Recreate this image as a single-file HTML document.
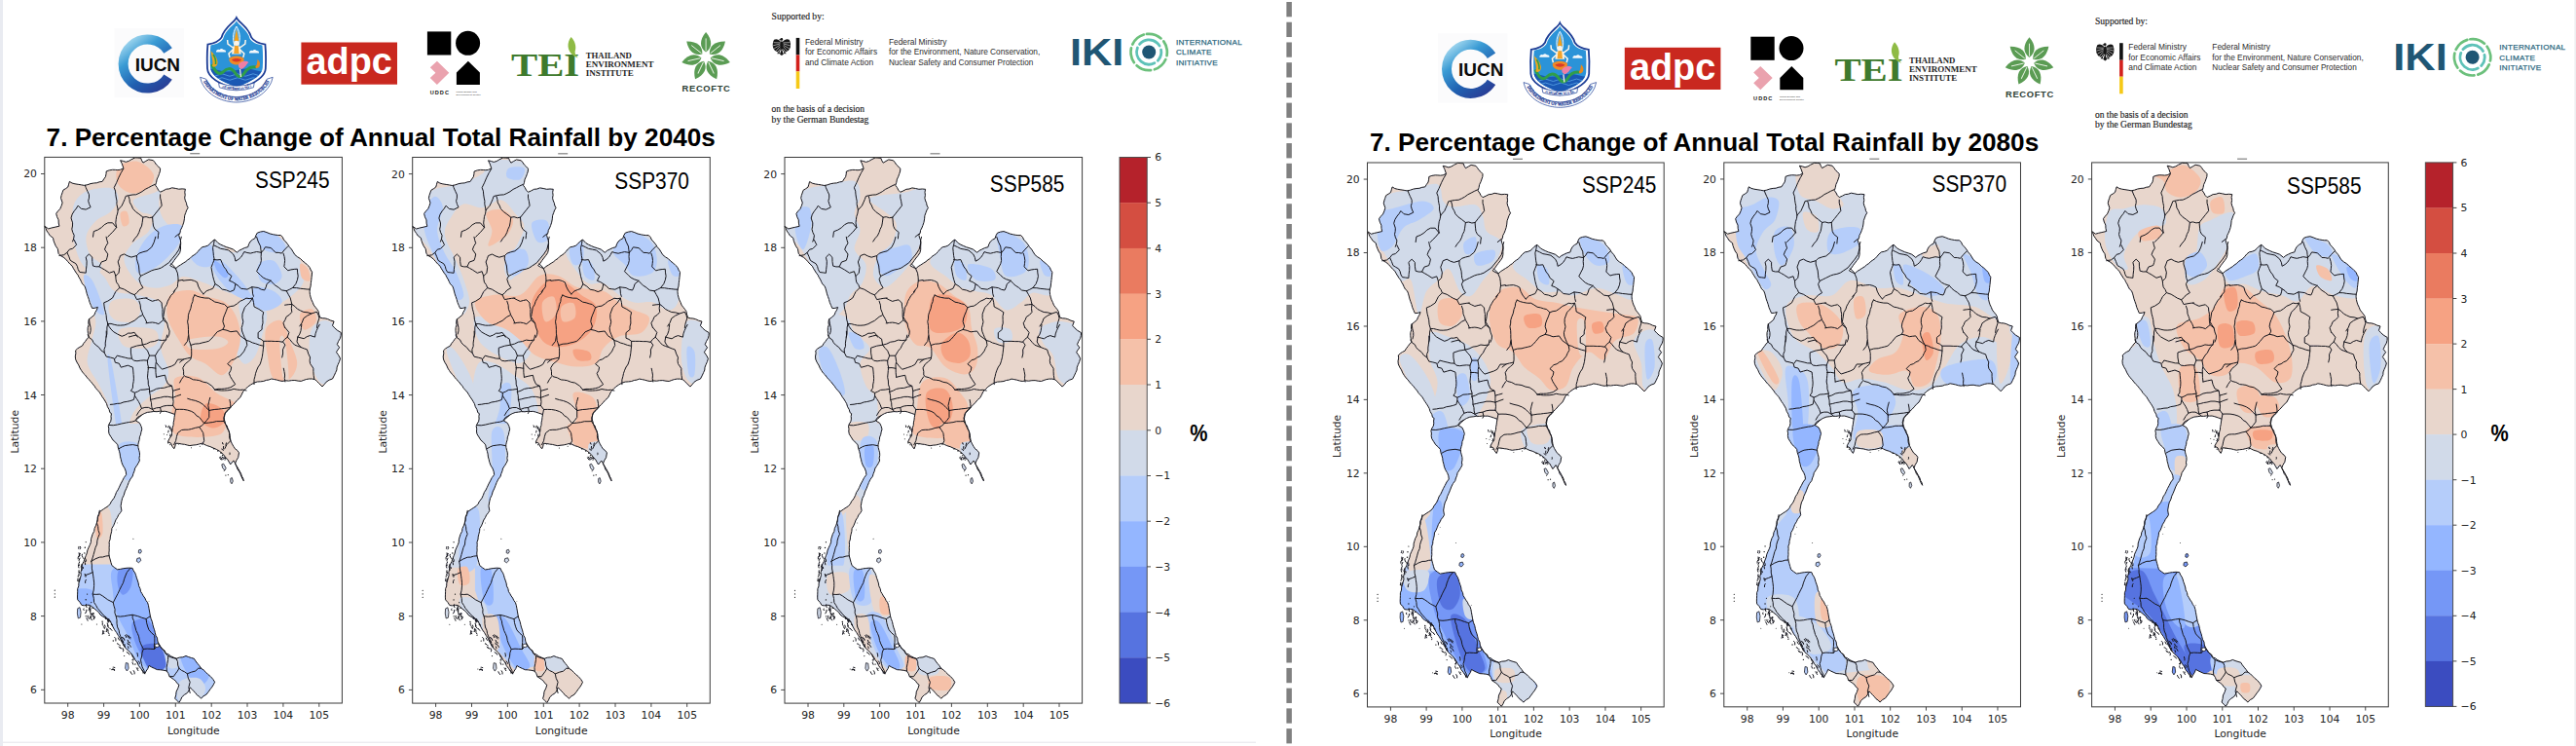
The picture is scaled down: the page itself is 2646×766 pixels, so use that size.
<!DOCTYPE html>
<html lang="en"><head><meta charset="utf-8"><title>Percentage Change of Annual Total Rainfall</title>
<style>html,body{margin:0;padding:0;background:#fff}body{width:2646px;height:766px;overflow:hidden}svg{display:block}text{white-space:pre}
.tk{font-family:"DejaVu Sans","Liberation Sans",sans-serif;font-size:10.8px;fill:#222}
.ssp{font-family:"Liberation Sans",sans-serif;font-size:23px;fill:#000}
.ttl{font-family:"Liberation Sans",sans-serif;font-weight:bold;font-size:25.7px;fill:#000}
</style></head><body>
<svg width="2646" height="766" viewBox="0 0 2646 766">
<defs>
<path id="th" d="M45.8,232.2 49.7,234.9 52.9,234 56.1,233.3 60.9,232.2 60.2,229 60.1,225.8 58.6,222.7 57.7,219.3 59.5,216.8 61.7,214.5 63.1,211.4 64.1,208.1 62.5,203.3 63.1,200.5 64,197.9 64.9,195.2 67.4,193.7 69.8,192 70.6,189.2 71.4,186.4 74,188 77,188.8 80.2,189.3 83.4,189.8 86.6,190.4 89.9,189.7 93,188.6 96.3,188 99.3,187.8 102.1,186.8 105.1,186.4 106.7,183.9 108.4,181.5 109,178.7 109.2,175.9 112.3,174.8 115.6,174.3 118.3,174.4 120.9,174.6 123.6,174.3 126.9,172.7 125.2,167.9 123.6,164.7 126.5,165.4 129.3,166.3 132.3,165.4 134.9,163.8 138.9,161.8 141.7,162 144.6,162.2 145.6,164.8 147,167.1 149.8,165.4 152.6,163.8 157.4,164.7 159.1,166.8 160.6,169.1 162.7,171 164.6,173.1 164.4,175.9 163.5,178.5 162.6,181.1 161.2,184 160.6,187.2 159.6,190.2 161.3,192.5 162.6,195.1 164.6,197.2 167.7,195.8 170.7,194.2 173.8,193.9 176.7,192.8 180.2,193.4 183.7,194.2 187.1,193.9 190.4,194.2 189.8,197.2 190.2,200.2 189.7,203.2 190.3,205.8 191.4,208.3 191.9,210.9 193.2,213.3 191.7,215.8 190.7,218.6 189.7,221.3 189.4,224.7 188.8,228.1 187.7,231.4 186.7,233.9 185.4,236.3 185,239 183.7,241.4 184.4,244.1 185.4,246.7 185.7,249.5 185.5,252.9 185.5,256.2 184.7,259.5 182.8,262.3 180.7,264.9 178.7,267.6 176.9,270.3 174.7,272.6 177.6,274.3 180.7,275.6 183,273.5 185.6,271.9 188.2,270.2 190.8,268.6 192.8,266.8 195.1,265.4 196.9,263.4 199.2,261.9 201.4,260.4 203.2,258.4 205.4,255.8 208,253.6 210.9,253.1 213.7,252 215.8,250.1 217.7,248 220.6,245.9 224.1,249.6 226.7,251.1 229.5,252.4 232.2,253.6 235.8,254.7 239.4,256 243.4,259.2 245.6,257.3 248.2,256 251.3,254.5 254.7,253.6 255.6,250.7 257.1,248 259.3,246.1 261.9,244.7 262.8,241.8 264.3,239.1 267.5,238 270.8,237.5 274,238.6 277.1,239.9 280.4,240.7 283,241.2 285.7,241.5 288.4,241.5 290.3,243.5 291.4,246 293.3,248 295.5,250.6 297.3,253.6 299.5,256 301.2,258.8 302.9,261.6 305.6,263.8 308.6,265.6 311,268.1 313.6,270 315.9,272.3 318.2,274.5 319.1,277 320.6,279.3 320.4,282 320.1,284.7 319.8,287.4 319.4,290.6 319.1,293.9 318.2,297 318.1,299.7 318.4,302.4 319,305 319.9,307.8 321.2,310.4 322.2,313.1 323.8,315.2 325.5,317.3 327,319.5 327.7,322.8 328.6,326 331.3,326.7 334,326.9 336.7,327.6 339.8,329.1 343.1,330 341.5,334.3 343.8,336.8 346.3,339.1 350.3,341.5 350.2,344.4 349.5,347.2 347.7,350.3 346.3,353.6 348.7,356.8 347,359.1 345.5,361.6 347.7,364.7 349.5,368.1 348.5,371.4 347.1,374.5 346.1,377.1 345.9,379.9 344.7,382.5 343.2,385.8 341.5,389 338.1,390.2 335.1,392.2 333.2,394.7 331,397 327.8,393.8 325.8,391.8 323.8,389.8 320.6,389 317.4,389 314.6,389.5 311.9,390.4 309.3,391.4 306.1,391.1 302.9,390.5 299.7,390.6 296.5,391.1 293.2,390.8 290,391.4 287.2,390.9 284.4,390.1 281.6,389.5 278.8,389 276.2,390 273.4,390.4 270.8,391.4 267.6,391.8 264.3,392 261.1,393 257.8,394.9 254.7,397 252.3,399.4 249.8,401.8 248.3,405.1 246.6,408.3 244,410.5 241.8,413.1 239.5,415.6 237,417.9 234.5,420.2 232.2,422.7 230.8,425.9 229.7,429.2 231,432.7 231.6,435.3 233.3,437.4 233.9,440 235.1,442.3 235.7,445 235.5,447.7 235.9,450.4 237.1,453.1 238.4,455.8 239.9,458.4 241.5,460.8 243.8,462.5 245.5,464.8 244.7,469.7 242.8,472.8 241.5,476.1 243.2,478.7 244.8,481.4 246.3,484.1 247.6,486.4 248.3,489 249.7,491.2 250.3,493.8 248.9,491.5 247.9,489 246.8,486.5 245.7,484.1 244,481.9 243.1,479.3 241.7,476 239.9,472.9 236.7,476.9 235.1,474.1 233.5,471.3 231.2,469.1 229.4,466.5 225.4,463.2 222.3,461.4 219,460 215.9,458.6 212.6,457.6 210.1,456.4 207.7,455.2 204.5,456 201.3,456.8 198.1,457.1 194.9,457.6 192.2,457 189.5,456.3 186.8,456 183.6,455.4 180.4,455.2 179.9,458.1 178.8,460.8 176.8,458.2 175.6,455.2 172.4,453.6 174.1,450.2 176.4,447.2 176.5,444.5 177,441.8 177.2,439.1 178.1,436.5 178.2,433.8 178.8,431.1 179.1,428.3 179.6,425.5 176,424.2 172.4,423 169.7,422.3 167,422.4 164.3,422.2 161.1,422.7 157.9,422.5 154.7,423 151.3,423.4 148.2,424.6 145.7,426 143.4,427.9 141.5,430 139.4,431.9 143.4,434.3 144.9,437.4 145.8,440.7 145,443.4 144.5,446.2 143.4,448.8 143.2,451.5 142.4,454.1 141.8,456.8 142,459.5 142.7,462.2 143.4,464.8 143.5,467.5 143,470.2 143.4,472.9 142,475.7 140.4,478.3 138.6,480.9 138,483.7 136.9,486.3 136.2,489 133.9,492 132.2,495.4 131,498.6 129.7,501.8 128.2,504.9 127.3,508.3 125.7,511.4 124.9,514.7 124.1,519.5 124.9,524.3 123.5,526.6 121.7,528.8 120.6,531.3 118.9,533.9 117.8,536.9 116.6,539.8 114.9,542.5 114.7,545.4 114,548.2 113.3,551 113.1,553.9 112.1,556.6 112.3,559.4 112.1,562.2 112.2,565.1 111.9,567.9 112.1,570.7 113,574 113.9,577.3 114.9,580.6 117.7,582.8 120.6,584.8 123.4,584.4 126.2,583.8 129,583.4 132.6,583.1 136.1,583.4 137.1,585.9 138.6,588.1 139.6,590.6 140.3,593.2 141.3,596 142.2,598.8 142.6,601.7 144,604.4 144.5,607.3 145.9,609.5 147.2,611.9 148.8,614 149.9,616.5 151.5,618.6 152.4,621.4 152.9,624.2 153.4,627 153.9,629.9 154.4,632.7 155.2,635.5 156.3,638.3 156.9,641.2 157.6,644 158.6,646.8 159.3,649.6 160,652.5 161.5,655.1 161.8,658 162.8,660.8 164.4,663.4 166.1,665.9 168.4,668 169.9,670.7 172.9,671.8 175.4,673.7 178.2,675 181.1,676.3 184.3,675.1 187.8,674.8 191,673.5 193.7,674.6 196.6,675.5 199.4,676.3 201,678.9 202.9,681.3 204.8,683.6 206.5,686.2 209.2,688 211.5,690.3 213.8,692.6 216.3,694.6 218.7,697.3 220.6,700.3 219.4,702.8 218,705.1 216.3,707.3 214.2,710.2 212.1,713 209,714.8 206.5,717.2 204.7,715.2 202.4,713.7 200.8,711.5 198.9,709.7 197.2,707.7 195.2,705.9 194.1,708.9 192.4,711.5 189.4,713.4 186.8,715.8 185.6,718.7 183.9,721.4 181.8,719.3 179.7,717.2 180.7,713.7 181.1,710.1 182.8,706.7 183.9,703.1 181.8,701.5 180.4,699.2 178.3,697.5 174.1,694.6 173,691.6 171.3,689 168,688.2 164.7,687.8 161.4,687.6 158.5,686.3 155.7,685 153,683.4 151.9,686.4 150.2,689 148.7,691.8 146.5,689.1 144.5,686.2 142.4,683.5 141.1,680.3 138.9,677.7 137.3,674.7 135.3,671.9 133.2,669.3 131.2,667.6 129.2,665.8 127.6,663.7 126.1,660.9 124.5,658.2 123.4,655.2 121.4,652.5 119.7,649.5 117.7,646.8 116.2,644 114.8,641.2 113.5,638.3 110.6,636.6 108.1,634.3 105.1,632.7 102.9,631.1 101.5,628.7 99.4,627 97.1,625.1 94.8,623.2 92.4,621.4 89.6,621.2 86.7,621.8 83.9,621.4 82.1,618.4 79.7,615.8 79.5,613 79.6,610.1 79.7,607.3 79.7,604.5 80.8,601.8 80.9,598.8 81.8,596 82.5,593.2 83.3,590.5 82.9,587.6 83.7,584.8 83.9,582 84.7,579.1 86.1,576.4 87.1,573.5 88.2,570.7 89.3,567.9 89.9,564.9 91.1,562.1 92.4,559.4 93.4,556.7 93.5,553.7 94.3,551 95.2,548.2 96.7,545.5 97.1,542.5 98.4,539.8 99.4,536.9 100.1,534.1 100.4,531.1 101.7,528.5 102.3,525.6 106.4,522.7 108.9,521.1 111.3,519.5 113.2,517.3 114.5,514.7 116.9,511.7 118.5,508.3 119.5,505.4 121.2,502.9 122.5,500.2 124,496.9 125.7,493.8 127.4,490.4 129.7,487.4 129.3,484.1 128.1,480.9 126.2,477.9 124.9,474.5 124.3,471.7 123.5,468.9 123.2,466 122.5,463.2 121.4,460.1 120.9,456.8 118.7,454.2 116.1,452 114.1,448.8 112.1,445.6 111.6,442.9 111.8,440.2 111.3,437.5 112.2,435 113.7,432.7 114.2,430 114,427.3 114.5,424.6 112.9,423.6 112.1,420.5 110.4,417.6 109.5,414.5 108.2,412.2 106.8,409.9 105.2,407.7 103.8,405.4 102.3,402.9 100.4,400.8 98.4,398.6 96.9,396.2 94.9,393.9 93.1,391.5 90.9,389.4 89,387.1 87.3,384.8 85.2,382.8 83.6,380.4 82.1,378 80.8,374.9 79,372 77.6,368.9 77.3,365.9 77.9,362.8 77.6,359.8 79.6,357.9 81.9,356.4 84.4,355.2 85.8,352.7 87.6,350.5 89.3,348.1 91.3,346.1 90.5,342.7 90.1,339.3 90.2,336.4 91.1,333.6 90.8,330.7 91.3,327.9 94.1,325.7 96.9,323.3 97.9,320.6 99.4,318.1 100.4,315.4 97.6,316.3 94.7,316.5 93.4,313.5 92.1,310.5 91.3,307.4 90.3,304.6 89.3,301.8 88.6,298.9 87.8,296 86.8,293.5 84.7,291.7 83.5,289.3 82.4,286.8 81,284.6 79.9,282.2 78.2,280.1 76.8,277.8 75.4,275.6 74.2,273.2 71.8,271 69.7,268.6 67.6,266.2 65.1,264.1 62.3,262.6 60.1,260.4 59.3,255.5 57.4,252.8 56.1,249.9 55.1,247.2 54.5,244.3 51.3,241.9 49.7,239.4 48,237 47.1,234.5Z"/>
<clipPath id="thc"><use href="#th"/><path d="M142.5,564.8 144.5,564.2 145.4,566.2 144.2,568.2 142.3,567.6Z"/><path d="M140.8,573.5 143.7,572.7 144.8,575.5 142.5,577.7 140.3,576.3Z"/><path d="M79.7,624.8 82,623.7 83.1,628.5 82.5,634.1 80.3,634.9 79.4,629.9Z"/><path d="M129.3,680.6 131.5,681.1 132.1,686.2 130.4,689 128.7,686.2Z"/><path d="M236.8,491.3 238.3,490.5 239.3,494.1 238,496.8 236.7,494.9Z"/><path d="M227.8,476.9 229.6,476.2 232.2,480.7 230.9,483 228.6,480.4Z"/></clipPath>
<filter id="b1" x="-5%" y="-5%" width="110%" height="110%"><feGaussianBlur stdDeviation="0.7"/></filter>
<filter id="b2" x="-5%" y="-5%" width="110%" height="110%"><feGaussianBlur stdDeviation="0.45"/></filter>
<g id="prov" fill="none" stroke="#15151c" stroke-width="1.0" stroke-linejoin="round" stroke-linecap="round">
<path d="M199.9,302.9 203,304.4 206.3,305.3 210.3,306 214.4,306.1 217.6,308 220.8,310.1 224.1,310.7 227.2,311.7 230.5,312.5 233.7,315.7 232.2,319.8 230.5,323.8 229.4,326.9 228.9,330.2 230.5,335.1 228.9,338.3 223.2,340.7 219.2,345.5 216.9,348.1 214.4,350.3 211.2,351.2 207.9,351.9 204.7,352.8 200.2,353.1 195.9,354.4 194.3,349.5 194,345.8 193.5,342.1 193.5,338.3 193.3,334.2 192.6,330.2 193.3,327 193.4,323.7 194.3,320.6 195.9,316.7 196.7,312.5 198,309.4 198.3,306.1 199.9,302.9"/>
<path d="M179.8,298 178.2,301 175.7,303.2 174.1,306.1 172.3,309.2 171.2,312.7 169.3,315.7 168.8,319 168.3,322.2 167.7,325.4 169.6,328.7 171.7,331.8 172.6,336 174.1,339.9 173.8,343.2 172.5,346.3"/>
<path d="M189.4,354.4 192.6,350.3 193.5,344.7"/>
<path d="M228.9,338.3 233,339.2 236.9,340.7 240.1,340.3 243.3,339.9 246.6,344.7 249.9,347 253,349.5 253.8,354.4 252.1,357.5 250.6,360.8 246.6,365.6 243.5,366.9 240.9,368.8 237.7,369.7 233.7,373.7 237.7,376.9 237,380.3 235.3,383.3 236.6,386.7 238.5,389.8 241.7,394.6 236.9,397.8 233.7,398.6 230.5,399.2 227.2,399.4 224,399.3 220.8,400.2"/>
<path d="M195.9,354.4 196.6,357.6 196.7,360.8 196.7,364.9 195.9,368.9 193.1,371.4 190.2,373.7 187.8,377.7 188.6,381.3 188.6,384.9 190.2,386.6 194.4,387.7 198.3,389.8 201.5,390.1 204.7,390.6 208.6,392.2 212.8,393 217.6,396.2 220.8,400.2"/>
<path d="M220.8,400.2 224,400.6 227.2,401 230.5,401 233.7,400.8 237,400.4 240.1,399.4 243.3,400 246.5,400.4 249.8,400.2 253,401"/>
<path d="M253,349.5 256.2,350.3 259.3,351.9 262.6,352.8 266.6,354.3 270.7,355.2 270.3,358.8 269.9,362.4 269.3,366.5 268.3,370.5 267.2,373.9 265.1,376.9 263.7,380.1 262.6,383.3 261.9,386.6 261,389.8 261,394.6"/>
<path d="M253,349.5 251.2,346.4 249.8,343.1 248.6,340 248.2,336.7 249.1,333.5 249.8,330.2 248.9,326.3 249,322.2 250.2,319 251.4,315.7 253.7,313.2 256.2,310.9 259.4,306.1"/>
<path d="M259.4,306.1 260.5,310.5 261,314.9 265.9,317.4 270.7,320.6 269.8,324.5 269.9,328.6 270,331.9 269.1,335 269.1,338.3 265.1,341.5 265.1,347.1 268.1,348.3 270.7,350.3 270.7,355.2"/>
<path d="M270.7,350.3 274.7,350.3 278.7,350.3 282.5,350.5 286.3,350.5 290,351.2"/>
<path d="M150,306.1 153.2,307.8 156.4,309.3 159.6,308.4 162.9,307.7 166.1,310.9 166.3,314.1 167,317.3 166.9,320.6 167,324.6 167.7,328.6 162.9,332.6 159.7,331.5 156.4,331 153.2,331.3 150,331.8"/>
<path d="M167.7,328.6 171.7,331.8"/>
<path d="M184.6,372.1 188.6,368.9 192.2,368 195.9,367.2"/>
<path d="M184.6,393 186.4,389.6 188.6,386.6"/>
<path d="M233.7,315.7 236.8,314.5 240.1,314.1 243.5,311.9 246.6,309.3 249.8,307.9 253,306.1 256.2,306.6 259.4,306.1"/>
<path d="M90.2,344 91.8,346.9 94.6,348.7 96,351.7 98.2,354.1 101.5,356.5 103.9,359.8 107.2,362.1 107,358.7 108.3,355.5 108.2,352.1 108.8,348.1 109.3,344.1 109.2,340"/>
<path d="M107.2,362.1 109.2,366.1 113.3,367 117.3,368.1 118.3,372.2 122.3,373.2 124.3,377.2 127.8,376.2 131.4,375.2 136.4,377.2 136.8,380.9 137.1,384.6 137.4,388.2 137.2,391.6 136.5,394.9 136.4,398.3 134.4,401.3 138.4,403.3 138.4,406.3 137.4,410.4 133.9,411.6 130.4,412.4 127,412.9 123.8,414.2 120.3,414.4 116.8,415.1 113.3,415.4"/>
<path d="M118.3,368.1 120.3,365.1 124.3,366.2 128.3,367.1 131.8,368 135.4,368.1 137.4,370.2 140.9,370.7 144.4,370.2 147.9,369.9 151.5,370.2"/>
<path d="M135.4,368.1 134.4,362.1 134.4,357.1 140.4,355.1 146.4,354.1 145.4,348 142.7,346.3 140.4,344 136.3,344.9 132.4,346"/>
<path d="M146.4,354.1 148.8,357.2 151.5,360.1 153.5,365.1 151.5,370.2 151.6,373.7 152.5,377.2 152.1,380.5 151.8,383.9 151.5,387.2 152.2,390.9 152.3,394.7 153.5,398.3 153.5,402.3"/>
<path d="M153.5,365.1 159.5,365.1 160.5,371.2 159.8,374.6 159.9,378.2 160,382.7 160.5,387.2"/>
<path d="M151.9,377.6 155.9,377.5 159.9,378.2"/>
<path d="M159.5,365.1 162.5,360.1 164.9,357.4 166.5,354.1 168.2,351.3 170.6,349 171.6,344"/>
<path d="M146.4,354.1 150.6,353 154.5,351.1 158.6,350.5 162.5,349 166.5,349.5 170.6,349"/>
<path d="M160.5,372.2 163.3,375.8 166.5,379.2 172.6,377.2 176.2,376 179.6,374.2 182.6,369.1 188.6,369.1"/>
<path d="M160.5,387.2 165,386.1 169.5,385.2 170.6,389.9 172.6,394.3 176.6,396.3"/>
<path d="M153.5,402.3 157.1,401.1 160.5,399.3 164.5,398.5 168.5,398.3 172.5,397 176.6,396.3 177.6,401.3 177.5,404.8 177.6,408.3 178.1,412.4 177.6,416.4"/>
<path d="M138.4,403.3 141.5,402 144.4,400.3 149,400 153.5,399.3"/>
<path d="M153.5,402.3 154.4,406.3 154.5,410.4 155.5,413.6 155.7,417.1 156.5,420.4 158.5,422.4"/>
<path d="M138.4,406.3 140.4,409.4 142.4,412.4 144.1,415.8 145.4,419.4 142.6,422.7 140.4,426.4"/>
<path d="M154.5,410.4 157.8,409.7 161.1,408.8 164.5,408.3 168.5,407.3 172.6,407.3 177.6,408.3"/>
<path d="M156.5,420.4 160.4,418.9 164.5,418.4 167.9,417 171.6,416.4 177.6,416.4"/>
<path d="M145.4,419.4 148.9,418.4 152.5,418.4 156.5,420.4"/>
<path d="M164.5,418.4 165.5,422.4 164.5,424.4"/>
<path d="M177.6,401.3 181.1,400.3 184.6,399.3"/>
<path d="M215.8,408.3 214.7,412.3 213.8,416.4 214.8,421.4"/>
<path d="M177.6,408.3 181.5,406.7 185.6,405.3"/>
<path d="M192.7,409.3 196.6,410.5 200.7,411.4 204.9,413 208.7,415.4 211.7,418.5 214.8,421.4"/>
<path d="M214.8,421.4 220.8,420.4 224.2,420.2 227.5,419.7 230.9,419.4 236.9,418.4 236.6,414.3 235.9,410.4"/>
<path d="M236.9,418.4 234.1,421.6 230.9,424.4 230.5,428.5 229.8,432.5"/>
<path d="M177.6,416.4 180.6,420.4 179.6,425.4"/>
<path d="M180.6,420.4 184.6,420.3 188.6,420.4 192.7,421.1 196.7,422.4 199.6,424.1 201.8,426.8 204.7,428.4 207.2,431.5 209.7,434.5 212.4,431.6 214.8,428.4 214.8,424.9 214.8,421.4"/>
<path d="M209.7,434.5 214.3,434.1 218.8,433.5 222.4,432.6 226.1,432.6 229.8,432.5"/>
<path d="M209.7,434.5 207.6,436.9 204.7,438.5 200.7,439.3 196.7,440.5 193.4,441.2 190,441.2 186.6,441.5 182.6,444.5 181.4,448.5 180.6,452.6 178.6,456.6"/>
<path d="M204.7,438.5 206.8,441.5 208.7,444.5 209.2,448.5 209.7,452.6 207.7,456.6"/>
<path d="M229.8,432.5 231.7,435.7 233.2,439.2 234.9,442.5 236,445.8 236.4,449.2 236.9,452.6 232.9,456.6 230.9,460.6"/>
<path d="M112.3,436.5 116.3,436.7 120.3,436.1 124.8,435 129.3,434.1 132.5,433.5 135.7,433.1 138.8,432.1 141.4,428.4 145.4,426.4"/>
<path d="M122.3,460.6 125.3,458.9 128.3,457.6 132.4,457 136.4,456.6 141.4,457.6"/>
<path d="M87.4,190.2 88.2,192.6 89.8,196.2 91.5,199.8 91.5,203.1 90.7,206.2 91.6,209.5 93.1,212.7 88.2,215.1 83.4,214.3 80.2,211.1 78.4,214 76.2,216.7 74.1,220.1 73,223.9 74.6,228.8 74.5,232 73.8,235.2 74.7,238.5 76.2,241.6 75.7,244.9 74.6,248"/>
<path d="M126.8,173.3 124.4,177.3 122,182.1 119.6,187.7 117.2,192.6 118.5,196.1 118.8,199.8 119.3,203 120,206.2 119.9,209.5 121.2,215.6"/>
<path d="M121.2,215.6 125.2,211.1 126.7,207.8 128.1,204.6 129.2,201.4 132.5,200.6 136,200 139.7,199.8 143,198.3 146.1,196.6 149.2,194.3 152.6,192.6 155.8,190.9 159,189.4"/>
<path d="M121.2,215.6 120.7,219 119.6,222.3 119.2,225.5 118.8,228.8 119.6,233.6"/>
<path d="M119.6,233.6 115.6,228.8 110.8,228.8 107.2,230.7 104.3,233.6 100.5,236 96.3,237.6 95.5,243.2"/>
<path d="M119.6,233.6 115.6,238.4 113.1,240.7 110.8,243.2"/>
<path d="M164.6,199.8 164.6,203.1 165.4,206.2 166.2,211.1 163,215.1 159.8,219.1 156.6,223.1"/>
<path d="M156.6,223.1 153.4,223.6 150.1,222.6 146.9,223.1 142.9,219.9 139.4,217.4 136.5,214.3 135.1,210.9 133.3,207.8 133,204.6 132,201.4"/>
<path d="M156.6,223.1 157.1,228.8 157.5,232.1 159,235.2 163,238.4 162.5,241.6 162.2,244.8"/>
<path d="M146.9,223.1 146.1,228.8 145.5,232.1 143.9,235.2 142.9,238.4 141.2,241.9 138.6,244.8 136.5,248"/>
<path d="M179.9,243.2 183.9,240"/>
<path d="M76.2,246.4 78.6,251.3 74.6,255.3 71.4,256.1 68.9,259.3 65.7,261.7 60.9,262.5"/>
<path d="M68.9,259.3 70.7,263.2 72.2,267.3 74.9,269 77.8,270.6 79.4,273.4 80.2,276.6 81.8,279.4 85,279.8 88.2,280.2 88.5,276.2 89,272.2 89.1,268.1 88.2,264.1 91.5,260.9 94.7,264.1 94.8,268.6 95.5,273 98.6,273.8 101.9,273.8 104.3,268.9 109.1,267.3 110.1,264.2 110.8,260.9 107.5,256.1 108.8,252.7 110.8,249.6 109.8,246.5 109.1,243.2"/>
<path d="M101.9,273.8 104.7,275.4 107.5,277 112.4,280.2 117.2,278.6 118.8,283.4 122,280.2 122.8,274.6 121.2,268.9 122.5,265.7 123.6,262.5 127.6,260.9 131.1,262.8 134.9,264.1 140.5,262.5 142.9,260.1 146.9,258.7 151,257.7 155.8,253.7 158.2,248.8 159.8,243.2"/>
<path d="M140.5,262.5 140.4,265.8 141.3,268.9 142.5,272.9 142.9,277 143.2,280.3 144.5,283.4 142.9,286.6 144.5,291.5 146.9,295.5 142.9,297.9 140.7,300.5 138.1,302.7 134.1,301.1 130.8,299.1 127.6,297.1 122.8,295.5 121.6,292.4 119.6,289.8 119,286.7 118.8,283.4"/>
<path d="M144.5,283.4 147.7,281.8 151,280.2 155.8,277.8 158.9,276.8 162.2,276.2 165.6,275 168.6,273 173.5,269.7 176.7,265.7 180.7,260.9 183.9,256.1 184.7,252.9 185.5,249.6 185.5,246.4 186.3,243.2"/>
<path d="M122.8,295.5 118.8,299.5 117.2,302.7 115.6,305.9 110.8,309.1 106.7,310.8 107,314 107.5,317.2 108.4,320.4 109.1,323.6 109.5,328.1 110.8,332.5"/>
<path d="M138.1,302.7 140.5,307.5 144.5,306.7 147.7,306.2 151,305.9"/>
<path d="M142.9,309.1 144.2,313.1 144.5,317.2 145.8,320.4 146.9,323.6 149.2,327.5 151,331.7"/>
<path d="M110.8,332.5 114,332.4 117.2,333.3 120.4,334 123.6,334.1 127.7,333.8 131.7,332.5 134.8,330.8 138.1,329.2 142.9,325.2 146.1,323.6"/>
<path d="M110.8,332.5 112.1,335.4 114,338.1 116.9,340.9 120.4,342.9 125.2,345.3 128.6,344 131.7,342.1 134.9,342.1 138.1,341.3 141.3,346.1"/>
<path d="M91.5,327.6 92.1,332.1 93.1,336.5 93.1,339.7 92.3,342.9"/>
<path d="M110.8,332.5 109.9,336 109.9,339.7 109.8,342.9 109.1,346.1"/>
<path d="M175.9,270.6 179.9,274.6 182.3,280.2 182.9,284.2 183.1,288.2 182.6,291.4 182.3,294.7 178.3,299.5"/>
<path d="M183.1,288.2 187.9,287.4"/>
<path d="M220.2,246.4 219.6,250.5 218.6,254.5 219,258.5 219.4,262.5 220.2,266.5 218.5,270.5 217,274.6 217.8,279 218.6,283.4 219.7,287.5 221,291.5 218.6,296.3 215.4,297.5 212.2,298.7 208.9,301.9"/>
<path d="M219.4,266.5 223,266.9 226.6,266.5 228.2,270.2 229.8,273.8 232.2,276.8 233.9,280.2 237.9,283.4 235.5,288.2 238.9,289.5 241.9,291.5 241.3,294.7 240.3,297.9 236.3,299.5 232.4,297.9 228.2,297.1 224.9,293.9 221,291.5"/>
<path d="M220.2,252.1 223.4,253.6 226.6,255.3 230.7,256 234.7,256.9 239.5,260.9 241.2,264.4 241.9,268.1 244.9,266.4 247.5,264.1 249.3,261.4 250.8,258.5 253.9,259.5 257.2,260.1 260.4,259.3 263.6,258.5 268.4,259.3"/>
<path d="M268.4,259.3 267.9,256.1 267.6,252.9 265.2,248 263.6,243.2"/>
<path d="M268.4,259.3 270.7,256.7 272.5,253.7 278.1,254.5 280.6,256.7 282.9,259.3 286.2,259.4 289.3,260.1 292.6,256.1 295.8,252.9"/>
<path d="M268.4,259.3 268.1,263.3 268.4,267.3 267.6,270.7 266,273.8 263.6,278.6 267.6,282.6 270.2,285 273.3,286.6 278.1,288.2 280.3,290.8 282.9,293.1 286.3,295.3 289.3,297.9 294.2,298.7"/>
<path d="M291,260.1 292.1,263.6 292.6,267.3 292.3,270.6 291.8,273.8 295.8,277.8 298.9,276.9 302.2,276.4 305.4,276.2 305.6,279.8 306.2,283.4 305.4,287.5 303.8,291.5 300.6,295.5 297.5,297.2 294.2,298.7"/>
<path d="M300.6,295.5 304.6,295.6 308.6,296.3 311.9,296.6 315.1,297 318.3,297.1"/>
<path d="M294.2,298.7 296.2,302.3 298.2,305.9 299,309.1 299.8,312.4 296.2,312.7 292.6,313.2"/>
<path d="M241.9,291.5 245,293.6 247.5,296.3 250.8,296.7 254,297.1 258.8,294.7 262,295.1 265.2,295.5 268.3,297.2 271.7,297.9 273.2,294.8 274.1,291.5 278.1,288.2"/>
<path d="M258.8,294.7 259.3,297.9 259.5,301.2 260.4,304.3"/>
<path d="M292.6,336.5 291,331.7 292.8,328.6 294.2,325.2 297.3,323.2 299.8,320.4 299.3,316.4 299.8,312.4"/>
<path d="M299.8,312.4 302.8,314.5 305.4,317.2 308.6,318.9 311.9,320.4 316,320.8 319.9,322 324.7,320.4"/>
<path d="M319.9,322 315.7,324.1 311.9,326.8 310.3,331.1 307.8,334.9"/>
<path d="M325.5,336.5 325.9,333.2 326.8,330 327.9,326.8 327.1,323.5 325.5,320.4"/>
<path d="M188,288.2 192,287.7 196.1,287.4 199.4,288.3 202.5,289.8 203.7,294 205.7,297.9 208.9,301.9"/>
<path d="M290.5,350.9 292.9,354.1 290.5,358.9 290.6,363 289.7,367"/>
<path d="M291.3,378.2 292,381.6 292.6,385 292.3,388.5 292.9,391.9"/>
<path d="M290.5,350.9 292.6,348.2 295.3,346.1 296.9,341.3 292.9,336.4"/>
<path d="M295.3,346.1 297.8,348.7 300.1,351.5 302.6,354.1 305.8,355.4 309,356.5 312.2,357.8 315.4,358.9 316.7,363.1 318.6,367 318.1,370.2 318.6,373.4 321.9,378.2 321.9,381.7 322.1,385.2 322.7,388.7"/>
<path d="M305.8,346.1 307.8,343.1 309,339.6 309.4,336.4 309.8,333.2"/>
<path d="M305.8,346.1 309,346.9 312.2,347.7 315.2,345.7 318.6,344.5 323.5,346.1 324,342.8 325.1,339.6 326.6,336.4 328.3,333.2"/>
<path d="M305.8,346.1 305,350.9 306.7,353.9 309,356.5"/>
<path d="M102.3,524.2 101.7,527.4 100.4,530.5 100.3,533.8 99.4,536.9 100.7,540.6 101,544.5 102.3,548.2 100.9,551.6 99.9,555.1 99.6,558.9 98,562.3 97.1,565.8 96.1,569.4 95.1,572.9 93.8,576.3"/>
<path d="M93.8,576.3 97.9,573.9 102.3,572.1 105.6,572 108.8,571 112.1,570.7"/>
<path d="M93.8,576.3 94.4,580.1 94.4,583.9 95.2,587.6 91.8,589.2 88.2,590.4"/>
<path d="M95.2,587.6 95.7,591.1 96.2,594.6 96.6,598.1 96.6,601.7 96.2,606 95.2,610.1 98.7,610.4 102.3,610.1 105.2,611.8 108,613.8 110.7,615.8 116.3,618.6 119.2,613 121.2,609.3 122.9,605.5 124.8,601.7 126.6,598.3 127.6,594.6 128.9,591.1 130.4,587.6 133.8,583.4"/>
<path d="M95.2,610.1 96.3,614.3 96.6,618.6 98.5,621.4 100.1,624.4 102.3,627 104.9,630 107.7,632.9 110.8,635.4 113.5,638.3"/>
<path d="M116.3,618.6 117,622.1 118.1,625.6 117.9,629.3 119.2,632.7 123.4,633.1 127.6,632.7 131.8,631.9 136.1,631.3 141.7,632.7 145.9,634.3 150.1,635.5 154.4,632.7"/>
<path d="M119.2,632.7 120,636.4 120,640.2 120.6,643.9 122.1,647.1 122.7,650.6 124,653.8 125.4,657 126.3,660.4 127.6,663.7"/>
<path d="M136.1,631.3 136.2,634.6 137.5,637.6 137.9,640.8 138.9,643.9 139.8,647.4 141.4,650.6 142.7,653.9 143.3,657.5 144.5,660.8 147.3,666.5 151.1,666.1 154.8,666.3 158.6,666.5 161,663.9 162.8,660.8"/>
<path d="M150.1,635.5 150.6,639.4 151.6,643.1 153,646.8 155.6,649.8 158.6,652.4 158.9,655.9 158.8,659.4 158.4,663 158.6,666.5"/>
<path d="M147.3,666.5 146,670.1 145.6,674 144.5,677.7 145.3,681.4 146.1,684.9 147.9,688.3 148.7,691.8"/>
<path d="M162.8,660.8 164.6,663.5 166.4,666.2 169.2,668.1 170.3,671.3 172.7,673.5 176.8,675.3 181.1,676.3"/>
<path d="M172.7,673.5 172.6,677.4 171.9,681.3 171.1,685.1 171.3,689"/>
<path d="M181.1,676.3 182.5,679.5 182.7,683 183.9,686.2 186.5,688.4 189.6,689.8 192.4,691.8 196.5,690.2 200.8,689 203.7,686.2 206.5,686.2"/>
<path d="M183.9,686.2 182.3,689.1 180.2,691.9 178.3,694.6 174.1,694.6"/>
<path d="M192.4,691.8 193.3,696.2 195.2,700.3 193.8,705.9 195.2,711.5"/>
</g>
<g id="isl">
<path d="M142.5,564.8 144.5,564.2 145.4,566.2 144.2,568.2 142.3,567.6Z"/>
<path d="M140.8,573.5 143.7,572.7 144.8,575.5 142.5,577.7 140.3,576.3Z"/>
<path d="M79.7,624.8 82,623.7 83.1,628.5 82.5,634.1 80.3,634.9 79.4,629.9Z"/>
<path d="M129.3,680.6 131.5,681.1 132.1,686.2 130.4,689 128.7,686.2Z"/>
<path d="M236.8,491.3 238.3,490.5 239.3,494.1 238,496.8 236.7,494.9Z"/>
<path d="M227.8,476.9 229.6,476.2 232.2,480.7 230.9,483 228.6,480.4Z"/>
</g>
<g id="sq" fill="none" stroke="#14141c" stroke-width="1.0" stroke-linecap="round">
<path d="M84,579.4 83.6,580.8 83.2,582"/>
<path d="M81.6,577.2 80.9,578.7 81.3,580.7"/>
<path d="M80.8,589.2 81.4,590.6 80.6,590.8"/>
<path d="M85,582 85.3,582.2 85.4,583.5"/>
<path d="M81.1,567.7 81.4,569.4 82,570.2"/>
<path d="M84.2,582.1 84.1,583.4 84.2,585.3"/>
<path d="M88.4,595.3 87.7,596.5 87.6,598.4"/>
<path d="M82.5,561.4 82.8,562.4 82.1,563.8"/>
<path d="M87.3,590.4 88.2,591.3 88,592.3"/>
<path d="M87.4,573.2 88.2,574.4 88.3,576.2"/>
<path d="M81.2,570.7 80.2,572 80.2,573.9"/>
<path d="M81,561.3 80.9,562.1 80.6,563.2"/>
<path d="M81.1,585.6 81,587 81.9,588.6"/>
<path d="M82.3,568.3 81.4,570.5 81.1,571.6"/>
<path d="M82.1,573.1 81.1,575.3 81.3,576.1"/>
<path d="M81.9,568.4 81.4,569 81.5,570.7"/>
<path d="M80.5,580.1 80.5,581.5 81,583"/>
<path d="M87.8,576.1 87.2,577.4 87.6,579.7"/>
<path d="M87.1,589.3 87.6,590.9 87.4,591.2"/>
<path d="M82,593.7 81.5,594.6 81.2,596.6"/>
<path d="M80,594 80,596.1 80.6,597.2"/>
<path d="M84.4,569.2 84.2,570.5 85.1,572.5"/>
<path d="M92.3,632.8 92.7,633.5 92,635"/>
<path d="M86.1,624.9 85.7,625.6 86.2,626.6"/>
<path d="M92,622 93,624.1 92.6,625.7"/>
<path d="M93.3,629.4 92.9,630.8 93.9,630.9"/>
<path d="M93,634.1 93.7,635.8 94.5,636.8"/>
<path d="M88.9,634.7 89.8,636.6 90.1,637.3"/>
<path d="M94.7,630 93.9,632.1 93.5,633.7"/>
<path d="M95.8,632.5 96.4,634.3 96.1,635.9"/>
<path d="M93,625.8 92.3,627.5 92.7,628.9"/>
<path d="M97.2,633.1 97.3,634.4 96.6,635.5"/>
<path d="M90.1,632.2 90.2,633.9 91.6,635.3"/>
<path d="M91.6,623.9 91.5,625.8 91,626.6"/>
<path d="M88.5,620.6 88.4,621.7 89.1,623.7"/>
<path d="M95.8,629.4 95.7,631.5 96.1,633.1"/>
<path d="M88.8,626.2 88.7,627.9 87.6,629.8"/>
<path d="M91.9,625.2 92.9,626.9 92.9,627.7"/>
<path d="M111,649.3 111.5,649.8 112.1,651"/>
<path d="M105.3,639.7 105.3,641.5 105.9,642.4"/>
<path d="M114.2,641.1 115.3,641.1 115.3,642.2"/>
<path d="M110.6,642.2 110.8,643.2 112.4,645.2"/>
<path d="M108.5,633.4 108,633.8 108.5,635.5"/>
<path d="M110.2,640.1 111,642.2 110.9,643.1"/>
<path d="M110.9,636.5 110.5,637.3 111.6,638.3"/>
<path d="M110.9,636.1 111.8,637.1 112.2,638"/>
<path d="M109.6,645.3 110.9,646.3 111.1,648.4"/>
<path d="M113.3,645.3 114.4,646.9 115.1,647.3"/>
<path d="M107.6,641.9 108.1,643.6 107.4,645.4"/>
<path d="M110.6,635.7 111,637.8 111,639.2"/>
<path d="M105.9,647.4 105.6,649.7 105.3,651.2"/>
<path d="M106.9,648.3 106.3,649.4 106.8,650.7"/>
<path d="M109.3,646.3 110,646.4 109.9,647.8"/>
<path d="M111.7,635.4 112.1,636.4 113.5,638.4"/>
<path d="M126,665.6 126.9,667.2 126.5,668.8"/>
<path d="M132.2,652.8 132.9,654.1 134.2,654.8"/>
<path d="M128,661.5 128,662.8 128.5,664.4"/>
<path d="M130.2,669.7 132.2,670.9 132.9,672.1"/>
<path d="M126.5,655 127.3,655.6 127.8,657.4"/>
<path d="M132.5,661.4 133.6,662.8 134.5,664.3"/>
<path d="M128.5,652.3 129.7,654 129.6,654.5"/>
<path d="M121.3,661.1 122.7,662.5 123.3,662.7"/>
<path d="M124.5,657.7 126.2,658.1 126.8,659.7"/>
<path d="M129.7,651.8 130.7,652.2 131.2,653.2"/>
<path d="M122.3,664 123.2,665 125,666"/>
<path d="M121.4,655 121.8,656 122.6,657.3"/>
<path d="M125.3,654.3 126.7,655.4 127.6,656.4"/>
<path d="M131.5,663.8 132,665.3 131.8,665.9"/>
<path d="M131.2,657.2 132,659.3 133.7,660.1"/>
<path d="M131,653.7 131.9,654.2 133.4,656"/>
<path d="M131.1,660 131.2,661.1 131.5,661.7"/>
<path d="M117.7,654.4 118.9,655.7 118.9,658"/>
<path d="M140.3,685.8 140.6,686.6 141.9,688.6"/>
<path d="M134.9,671.5 135.6,672.3 136.1,674"/>
<path d="M136.3,674.1 137.2,675.5 136.9,678"/>
<path d="M134,689.6 134.6,691 135.8,692.5"/>
<path d="M140.9,679.9 141.5,681.1 141.5,681.3"/>
<path d="M136.2,679.9 136.1,680.6 136.9,682.3"/>
<path d="M141,670.6 141.5,672.8 141.4,674"/>
<path d="M142.2,678.8 143.5,680.5 143.4,681.4"/>
<path d="M137.2,688.6 138.1,690.1 138.1,691.9"/>
<path d="M146,688 146.9,689.5 147.1,691.2"/>
<path d="M116.2,685.1 116.4,685.1 117.9,685.5"/>
<path d="M115.3,687.3 116.7,687.3 117.7,687.7"/>
<path d="M115.9,687 117.3,687.5 117.4,687.6"/>
<path d="M116.5,687.7 117.1,688.4 117.3,688.4"/>
<path d="M227.8,461.1 228.4,461.3 229.3,462.5"/>
<path d="M228.2,469 229.2,470.5 228.8,471.8"/>
<path d="M236,465 236.1,466.2 235.9,466.7"/>
<path d="M225.6,469.8 226,470.8 227.3,471.9"/>
<path d="M232.5,454.8 232.1,456.1 231.8,457.2"/>
<path d="M229.6,458.4 229.4,460.2 229.8,461.3"/>
<path d="M228.5,454.6 228.5,455.6 229.4,455.9"/>
<path d="M229.9,469.4 230.6,470.9 229.9,471.1"/>
<path d="M226.3,469.1 227.4,470 227.2,471.7"/>
<path d="M231.2,469.6 231.9,471.4 231.2,472.3"/>
<path d="M174.9,438.2 174.4,438.4 174.7,439.8"/>
<path d="M174.2,438.2 174.2,438.9 174.3,440.2"/>
<path d="M174.9,446 175.4,447.5 174.4,447.8"/>
<path d="M175.4,441.1 176.3,442.4 176.3,443.3"/>
<path d="M173.1,442.2 173,443.2 172.7,444"/>
<path d="M175.7,439.7 176.6,441.5 176.3,442.1"/>
<path d="M170.1,436.8 170.5,437 170.5,438.4"/>
<ellipse cx="161.3" cy="662.8" rx="2.3" ry="1.8" fill="#fff" stroke-width="0.8"/>
</g>
<g id="dots" fill="#111">
<circle cx="88.2" cy="556.6" r="0.6"/>
<circle cx="87.3" cy="562.3" r="0.7"/>
<circle cx="86.8" cy="567.9" r="0.7"/>
<circle cx="85.9" cy="573.5" r="0.6"/>
<circle cx="81.1" cy="587.6" r="0.7"/>
<circle cx="80.3" cy="591.8" r="0.7"/>
<circle cx="79.7" cy="596.1" r="0.6"/>
<circle cx="89.6" cy="610.1" r="0.6"/>
<circle cx="88.2" cy="615.8" r="0.7"/>
<circle cx="93.8" cy="618.6" r="0.6"/>
<circle cx="95.2" cy="624.2" r="0.7"/>
<circle cx="96.1" cy="629.9" r="0.6"/>
<circle cx="88.2" cy="632.7" r="0.6"/>
<circle cx="83.9" cy="641.1" r="0.5"/>
<circle cx="99.4" cy="641.1" r="0.5"/>
<circle cx="105.1" cy="638.3" r="0.7"/>
<circle cx="106.5" cy="643.9" r="0.7"/>
<circle cx="109.3" cy="648.2" r="0.7"/>
<circle cx="112.1" cy="652.4" r="0.6"/>
<circle cx="116.3" cy="658" r="0.7"/>
<circle cx="120.6" cy="660.8" r="0.6"/>
<circle cx="123.4" cy="665.1" r="0.6"/>
<circle cx="127.6" cy="673.5" r="0.6"/>
<circle cx="136.1" cy="677.7" r="0.6"/>
<circle cx="138.9" cy="682" r="0.7"/>
<circle cx="141.7" cy="686.2" r="0.6"/>
<circle cx="114.9" cy="687.6" r="0.7"/>
<circle cx="113" cy="686.8" r="0.5"/>
<circle cx="117.7" cy="688.5" r="0.4"/>
<circle cx="136.9" cy="553.2" r="0.5"/>
<circle cx="153" cy="617.2" r="0.4"/>
<circle cx="120.6" cy="536.9" r="0.4"/>
<circle cx="119.2" cy="543.9" r="0.4"/>
<circle cx="173.2" cy="437.3" r="0.6"/>
<circle cx="172.4" cy="438.6" r="0.6"/>
<circle cx="168.3" cy="445.8" r="0.5"/>
<circle cx="171.6" cy="446.6" r="0.5"/>
<circle cx="169.1" cy="450.7" r="0.5"/>
<circle cx="172.7" cy="454.7" r="0.7"/>
<circle cx="174.8" cy="456.6" r="0.6"/>
<circle cx="183.6" cy="456" r="0.5"/>
<circle cx="196.5" cy="459.8" r="0.5"/>
<circle cx="205.3" cy="458.2" r="0.5"/>
<circle cx="219.8" cy="460.8" r="0.7"/>
<circle cx="223.8" cy="463" r="0.7"/>
<circle cx="227" cy="465.1" r="0.8"/>
<circle cx="228.6" cy="467.5" r="0.7"/>
<circle cx="231.9" cy="488.1" r="0.6"/>
<circle cx="234.3" cy="487.6" r="0.6"/>
<circle cx="230.2" cy="483.6" r="0.5"/>
<circle cx="56.3" cy="606.2" r="0.6"/>
<circle cx="56.3" cy="609.8" r="0.6"/>
<circle cx="56.3" cy="613.2" r="0.6"/>
</g>
</defs>
<rect width="2646" height="766" fill="#fff"/>
<defs><linearGradient id="iu" gradientUnits="userSpaceOnUse" x1="128" y1="40" x2="170" y2="96"><stop offset="0" stop-color="#b4e2f4"/><stop offset="0.3" stop-color="#3a9bd4"/><stop offset="0.62" stop-color="#2060b0"/><stop offset="1" stop-color="#2c3690"/></linearGradient></defs>
<rect x="0" y="0" width="3" height="766" fill="#e9ebf1"/>
<rect x="3" y="761.6" width="1287" height="1.4" fill="#ececf0"/>
<rect x="2644.4" y="0" width="1.6" height="766" fill="#eeeef1"/>
<g fill="#808080"><rect x="1321.4" y="2" width="5.5" height="15.3"/><rect x="1321.4" y="22.73" width="5.5" height="15.3"/><rect x="1321.4" y="43.45" width="5.5" height="15.3"/><rect x="1321.4" y="64.18" width="5.5" height="15.3"/><rect x="1321.4" y="84.9" width="5.5" height="15.3"/><rect x="1321.4" y="105.62" width="5.5" height="15.3"/><rect x="1321.4" y="126.35" width="5.5" height="15.3"/><rect x="1321.4" y="147.08" width="5.5" height="15.3"/><rect x="1321.4" y="167.8" width="5.5" height="15.3"/><rect x="1321.4" y="188.53" width="5.5" height="15.3"/><rect x="1321.4" y="209.25" width="5.5" height="15.3"/><rect x="1321.4" y="229.98" width="5.5" height="15.3"/><rect x="1321.4" y="250.7" width="5.5" height="15.3"/><rect x="1321.4" y="271.43" width="5.5" height="15.3"/><rect x="1321.4" y="292.15" width="5.5" height="15.3"/><rect x="1321.4" y="312.88" width="5.5" height="15.3"/><rect x="1321.4" y="333.6" width="5.5" height="15.3"/><rect x="1321.4" y="354.33" width="5.5" height="15.3"/><rect x="1321.4" y="375.05" width="5.5" height="15.3"/><rect x="1321.4" y="395.78" width="5.5" height="15.3"/><rect x="1321.4" y="416.5" width="5.5" height="15.3"/><rect x="1321.4" y="437.23" width="5.5" height="15.3"/><rect x="1321.4" y="457.95" width="5.5" height="15.3"/><rect x="1321.4" y="478.68" width="5.5" height="15.3"/><rect x="1321.4" y="499.4" width="5.5" height="15.3"/><rect x="1321.4" y="520.12" width="5.5" height="15.3"/><rect x="1321.4" y="540.85" width="5.5" height="15.3"/><rect x="1321.4" y="561.58" width="5.5" height="15.3"/><rect x="1321.4" y="582.3" width="5.5" height="15.3"/><rect x="1321.4" y="603.03" width="5.5" height="15.3"/><rect x="1321.4" y="623.75" width="5.5" height="15.3"/><rect x="1321.4" y="644.48" width="5.5" height="15.3"/><rect x="1321.4" y="665.2" width="5.5" height="15.3"/><rect x="1321.4" y="685.93" width="5.5" height="15.3"/><rect x="1321.4" y="706.65" width="5.5" height="15.3"/><rect x="1321.4" y="727.38" width="5.5" height="15.3"/><rect x="1321.4" y="748.1" width="5.5" height="15.3"/></g>
<g transform="translate(0,0)">
<rect x="117.5" y="29" width="71.5" height="71.2" fill="#fbfbfc"/>
<path d="M172.6,52 A25,25 0 1 0 172.6,79.1" fill="none" stroke="url(#iu)" stroke-width="10"/>
<text x="138.7" y="73" font-family="Liberation Sans,sans-serif" font-weight="bold" font-size="18.7" textLength="46.4" lengthAdjust="spacingAndGlyphs" fill="#0a0a0a">IUCN</text>
<g>
<path d="M242.9,18.2 C240.8,23 230.2,28 227.6,38.4 C225,42.6 219.5,44.6 213.4,45.6 C212.6,54 212.6,62 213,70.5 C213.6,79 224,86 242.9,92 C261.8,86 272.2,79 272.8,70.5 C273.2,62 273.2,54 272.4,45.6 C266.3,44.6 260.8,42.6 258.2,38.4 C255.6,28 245,23 242.9,18.2Z" fill="#fff" stroke="#1d3d95" stroke-width="1.8"/>
<clipPath id="dwa"><path d="M242.9,18.2 C240.8,23 230.2,28 227.6,38.4 C225,42.6 219.5,44.6 213.4,45.6 C212.6,54 212.6,62 213,70.5 C213.6,79 224,86 242.9,92 C261.8,86 272.2,79 272.8,70.5 C273.2,62 273.2,54 272.4,45.6 C266.3,44.6 260.8,42.6 258.2,38.4 C255.6,28 245,23 242.9,18.2Z" transform="translate(242.9,56) scale(0.9,0.92) translate(-242.9,-56)"/></clipPath>
<g clip-path="url(#dwa)">
<rect x="205" y="15" width="76" height="80" fill="#2b93d8"/>
<path d="M205,72 Q215,69 224,72 T243,72 T262,72 T281,72 V95 H205Z" fill="#1a58b4"/>
<path d="M208,77 q4,-2.5 8,0 t8,0 t8,0 t8,0 t8,0 t8,0 t8,0 t8,0 M208,81 q4,-2.5 8,0 t8,0 t8,0 t8,0 t8,0 t8,0 t8,0 t8,0" fill="none" stroke="#5aa6e6" stroke-width="0.8"/>
<path d="M222,52.5 q1,-2.5 3.5,-1.5 q2,-2 4,0 q3,0 2.5,2.5 h-10z M256,53.5 q1,-2.5 3.5,-1.5 q2,-2 4,0 q3,0 2.5,2.5 h-10z" fill="#f4f8fc"/>
<path d="M217.5,66 C221,73 224,78 229,74 C233,70 237,69 241,74 C244,79 247,81 251,75 C254,70 258,68 263,69" fill="none" stroke="#2f9d4b" stroke-width="3"/>
<path d="M216.5,52 C219,55 222.5,58 223.5,63 C224,67 221,70 218,68 C219.5,63 217,58 216.5,52Z" fill="#e9a51f"/>
<path d="M219,56 C221,59 222,62 221.5,66" fill="none" stroke="#2f9d4b" stroke-width="1.6"/>
<path d="M264.5,61 C267,63 268,66 266,69 C264,71 262,70 262.5,68 C264.5,66.5 264,64 264.5,61Z" fill="#e58a1f"/>
<path d="M242.9,27 C238.5,34 238.2,42 242.9,52 C247.6,42 247.3,34 242.9,27Z" fill="#5fb3ea" stroke="#f7fbff" stroke-width="0.9"/>
<path d="M242.9,30 L240.4,42 H245.4Z" fill="#f0a01c"/>
<circle cx="242.9" cy="44.3" r="2.6" fill="#fdf3e4"/>
<path d="M239.2,47.5 h7.4 l1.2,8 h-9.8z" fill="#fbf1df"/>
<path d="M239.4,49 L234,45 L233.6,41 M246.4,49 L251.8,45 L252.2,41 M239.2,51 L235,55 L236,59 M246.6,51 L250.8,55 L249.8,59" fill="none" stroke="#fdf6ea" stroke-width="1.5"/>
<path d="M241,47 h3.8 l0.8,8 h-5.4z" fill="#f2a32a"/>
<path d="M235.5,60 C238,56.5 248,56.5 250.5,60 C251.5,64 247,66.5 242.9,66.5 C238.8,66.5 234.5,64 235.5,60Z" fill="#ee8a28"/>
<path d="M238,61.5 C240,59.5 246,59.5 248,61.5 C246,64 240,64 238,61.5Z" fill="#d93a2a"/>
<path d="M245,66 C248,62 253,62 255.5,64 C253,66 252,70 247.5,71 C245.5,70 244.5,68 245,66Z" fill="#ef7fa6"/>
<path d="M246.5,71 L247.5,79" stroke="#f6f1e6" stroke-width="1.3"/>
</g>
<path d="M224.6,85.2 Q242.9,91.3 261.2,85.2 L260.4,89.8 Q242.9,95.8 225.4,89.8Z" fill="#fff" stroke="#1d3d95" stroke-width="0.7"/>
<path id="dwta" d="M226.6,89.2 Q242.9,94.6 259.2,89.2" fill="none"/>
<text font-family="Liberation Sans,DejaVu Sans,sans-serif" font-weight="bold" font-size="3.6" fill="#1d3d95"><textPath href="#dwta" startOffset="50%" text-anchor="middle" textLength="31" lengthAdjust="spacingAndGlyphs">กรมทรัพยากรน้ำ</textPath></text>
<path d="M205.6,79.3 L211.6,81.2 C219,97 236,99.5 242.9,99.5 C249.8,99.5 266.8,97 274.2,81.2 L280.2,79.3 L278.6,84.6 C270.5,102 251,105 242.9,105 C234.8,105 215.3,102 207.2,84.6Z" fill="#fff" stroke="#1d3d95" stroke-width="0.7"/>
<path id="dwba" d="M208.6,82.6 C217,100.2 235.5,103.2 242.9,103.2 C250.3,103.2 268.8,100.2 277.2,82.6" fill="none"/>
<text font-family="Liberation Serif,serif" font-weight="bold" font-size="5.5" fill="#1d3d95" stroke="#1d3d95" stroke-width="0.25"><textPath href="#dwba" startOffset="50%" text-anchor="middle" textLength="82" lengthAdjust="spacingAndGlyphs">DEPARTMENT OF WATER RESOURCES</textPath></text>
</g>
<rect x="309.4" y="43.5" width="98.6" height="43.2" fill="#c9281f"/>
<text x="314.6" y="76.4" font-family="Liberation Sans,sans-serif" font-weight="bold" font-size="38.6" textLength="88.2" lengthAdjust="spacingAndGlyphs" fill="#fff">adpc</text>
<rect x="438.9" y="32.4" width="24.4" height="24.1" fill="#000"/>
<circle cx="480.6" cy="44.3" r="12.5" fill="#000"/>
<path d="M448.9,62.7 L461.3,74.7 L448.9,87 L441.8,79.9 L447.4,74.7 L441.8,69.2Z" fill="#eaa2ae"/>
<path d="M480.9,62.8 L492.9,74.6 V86.9 H468.9 V74.6Z" fill="#000"/>
<text x="441.7" y="97.3" font-family="Liberation Sans,sans-serif" font-weight="bold" font-size="5.6" textLength="19.3" lengthAdjust="spacing" fill="#111">UDDC</text>
<text font-family="Liberation Sans,sans-serif" font-size="2.5" fill="#333"><tspan x="468.6" y="94.6" textLength="21" lengthAdjust="spacingAndGlyphs">Urban Design and</tspan><tspan x="468.6" y="97.6" textLength="25" lengthAdjust="spacingAndGlyphs">Development Center</tspan></text>
<text x="525" y="77.8" font-family="Liberation Serif,serif" font-weight="bold" font-size="34.4" textLength="70.2" lengthAdjust="spacingAndGlyphs" fill="#3e7a2d">TEI</text>
<path d="M586.6,38 C582,44 582.5,52 588.5,56.5 C590,57.8 592,59 593.6,59.6 C591.8,57.5 590.6,55.8 590.6,53 C592.5,47.5 590.5,42 586.6,38Z" fill="#8fbb45"/>
<rect x="582" y="53.3" width="9" height="3.2" fill="#fff" opacity="0"/>
<g font-family="Liberation Serif,serif" font-weight="bold" font-size="8" fill="#262626"><text x="601.7" y="60.1" textLength="47.2" lengthAdjust="spacingAndGlyphs">THAILAND</text><text x="601.7" y="68.9" textLength="69.8" lengthAdjust="spacingAndGlyphs">ENVIRONMENT</text><text x="601.7" y="77.7" textLength="49.2" lengthAdjust="spacingAndGlyphs">INSTITUTE</text></g>
<g transform="translate(725.1,58.4)">
<g transform="rotate(0)"><path d="M0,-4.8 C-6.6,-9.5 -7,-17 0,-25.4 C7,-17 6.6,-9.5 0,-4.8Z" fill="#5b9c54"/><path d="M0,-6 L0,-19" stroke="#eef5ea" stroke-width="0.9"/></g>
<g transform="rotate(51.43)"><path d="M0,-4.8 C-6.6,-9.5 -7,-17 0,-25.4 C7,-17 6.6,-9.5 0,-4.8Z" fill="#5b9c54"/><path d="M0,-6 L0,-19" stroke="#eef5ea" stroke-width="0.9"/></g>
<g transform="rotate(102.86)"><path d="M0,-4.8 C-6.6,-9.5 -7,-17 0,-25.4 C7,-17 6.6,-9.5 0,-4.8Z" fill="#5b9c54"/><path d="M0,-6 L0,-19" stroke="#eef5ea" stroke-width="0.9"/></g>
<g transform="rotate(154.29)"><path d="M0,-4.8 C-6.6,-9.5 -7,-17 0,-25.4 C7,-17 6.6,-9.5 0,-4.8Z" fill="#5b9c54"/><path d="M0,-6 L0,-19" stroke="#eef5ea" stroke-width="0.9"/></g>
<g transform="rotate(205.71)"><path d="M0,-4.8 C-6.6,-9.5 -7,-17 0,-25.4 C7,-17 6.6,-9.5 0,-4.8Z" fill="#5b9c54"/><path d="M0,-6 L0,-19" stroke="#eef5ea" stroke-width="0.9"/></g>
<g transform="rotate(257.14)"><path d="M0,-4.8 C-6.6,-9.5 -7,-17 0,-25.4 C7,-17 6.6,-9.5 0,-4.8Z" fill="#5b9c54"/><path d="M0,-6 L0,-19" stroke="#eef5ea" stroke-width="0.9"/></g>
<g transform="rotate(308.57)"><path d="M0,-4.8 C-6.6,-9.5 -7,-17 0,-25.4 C7,-17 6.6,-9.5 0,-4.8Z" fill="#5b9c54"/><path d="M0,-6 L0,-19" stroke="#eef5ea" stroke-width="0.9"/></g>
</g>
<text x="700.6" y="94.3" font-family="Liberation Sans,sans-serif" font-weight="bold" font-size="9.4" textLength="49.2" lengthAdjust="spacing" fill="#2d4034">RECOFTC</text>
<text x="792.6" y="20.2" font-family="Liberation Serif,serif" font-size="9.5" textLength="54" lengthAdjust="spacingAndGlyphs" fill="#222" stroke="#222" stroke-width="0.15">Supported by:</text>
<g transform="translate(793.5,38.3)">
<path d="M8.3,4.4 C6.6,2 3.7,1.3 1.6,2.4 C0.3,4.5 -0.1,7.6 0.5,10.3 C1.2,12.8 3,14.6 5.5,15.2 C6,13.7 7,12.3 8.3,11.4Z" fill="#151515"/><path d="M7.9,5.6 L1.0,5.4 M7.9,6.6 L0.5,8.6 M7.9,7.8 L1.4,11.8 M8,9 L3.4,14.2" stroke="#fff" stroke-width="0.55" fill="none"/>
<g transform="translate(18.8,0) scale(-1,1)"><path d="M8.3,4.4 C6.6,2 3.7,1.3 1.6,2.4 C0.3,4.5 -0.1,7.6 0.5,10.3 C1.2,12.8 3,14.6 5.5,15.2 C6,13.7 7,12.3 8.3,11.4Z" fill="#151515"/><path d="M7.9,5.6 L1.0,5.4 M7.9,6.6 L0.5,8.6 M7.9,7.8 L1.4,11.8 M8,9 L3.4,14.2" stroke="#fff" stroke-width="0.55" fill="none"/></g>
<ellipse cx="9.4" cy="8.4" rx="1.55" ry="4.4" fill="#151515"/>
<circle cx="9.3" cy="2.1" r="1.4" fill="#151515"/><path d="M8.3,1.5 L6.5,2.5 L8.3,3.1Z" fill="#151515"/>
<path d="M8.4,11.8 L6.3,15.6 M10.4,11.8 L12.5,15.6 M6.3,15.6 l-1.3,0.9 M6.3,15.6 l0,1.4 M6.3,15.6 l1.2,0.9 M12.5,15.6 l-1.2,0.9 M12.5,15.6 l0,1.4 M12.5,15.6 l1.3,0.9" stroke="#151515" stroke-width="1" fill="none"/>
<path d="M9.4,11.6 L7.5,17.4 L9.4,18.8 L11.3,17.4Z" fill="#151515"/>
</g>
<rect x="817.7" y="38.9" width="3.6" height="17.5" fill="#111"/><rect x="817.7" y="56.4" width="3.6" height="17" fill="#d3211c"/><rect x="817.7" y="73.4" width="3.6" height="17.6" fill="#f6c917"/>
<g font-family="Liberation Sans,sans-serif" font-size="9.3" fill="#2c2c2c">
<text x="826.9" y="46" textLength="59.6" lengthAdjust="spacingAndGlyphs">Federal Ministry</text>
<text x="826.9" y="56.3" textLength="74.2" lengthAdjust="spacingAndGlyphs">for Economic Affairs</text>
<text x="826.9" y="66.6" textLength="70.2" lengthAdjust="spacingAndGlyphs">and Climate Action</text>
<text x="912.9" y="46" textLength="59.6" lengthAdjust="spacingAndGlyphs">Federal Ministry</text>
<text x="912.9" y="56.3" textLength="155.4" lengthAdjust="spacingAndGlyphs">for the Environment, Nature Conservation,</text>
<text x="912.9" y="66.6" textLength="148.4" lengthAdjust="spacingAndGlyphs">Nuclear Safety and Consumer Protection</text>
</g>
<g font-family="Liberation Serif,serif" font-size="9.6" fill="#222" stroke="#222" stroke-width="0.15"><text x="792.6" y="115.3" textLength="95.4" lengthAdjust="spacingAndGlyphs">on the basis of a decision</text><text x="792.6" y="125.6" textLength="99.8" lengthAdjust="spacingAndGlyphs">by the German Bundestag</text></g>
<text x="1098.9" y="66.9" font-family="Liberation Sans,sans-serif" font-weight="bold" font-size="38.5" textLength="55.4" lengthAdjust="spacingAndGlyphs" fill="#1f5674">IKI</text>
<circle cx="1180.2" cy="53.5" r="7" fill="#1f5674"/>
<circle cx="1180.2" cy="53.5" r="12.6" fill="none" stroke="#5ec2b8" stroke-width="2.8" stroke-linecap="round" stroke-dasharray="24 4.2 12 4.2 30 4.76" transform="rotate(-140 1180.2 53.5)"/>
<circle cx="1180.2" cy="53.5" r="18.7" fill="none" stroke="#6cc07c" stroke-width="2.7" stroke-linecap="round" stroke-dasharray="15.6 4" transform="rotate(-97 1180.2 53.5)"/>
<g font-family="Liberation Sans,sans-serif" font-size="8.1" fill="#2d6980" stroke="#2d6980" stroke-width="0.25"><text x="1207.9" y="45.8" textLength="67.8" lengthAdjust="spacing">INTERNATIONAL</text><text x="1207.9" y="56.3" textLength="36.6" lengthAdjust="spacing">CLIMATE</text><text x="1207.9" y="66.9" textLength="42.8" lengthAdjust="spacing">INITIATIVE</text></g>
<text class="ttl" x="47.6" y="150.2" textLength="687.2" lengthAdjust="spacingAndGlyphs">7. Percentage Change of Annual Total Rainfall by 2040s</text>
</g>
<g transform="translate(1359.4,5.3)">
<rect x="117.5" y="29" width="71.5" height="71.2" fill="#fbfbfc"/>
<path d="M172.6,52 A25,25 0 1 0 172.6,79.1" fill="none" stroke="url(#iu)" stroke-width="10"/>
<text x="138.7" y="73" font-family="Liberation Sans,sans-serif" font-weight="bold" font-size="18.7" textLength="46.4" lengthAdjust="spacingAndGlyphs" fill="#0a0a0a">IUCN</text>
<g>
<path d="M242.9,18.2 C240.8,23 230.2,28 227.6,38.4 C225,42.6 219.5,44.6 213.4,45.6 C212.6,54 212.6,62 213,70.5 C213.6,79 224,86 242.9,92 C261.8,86 272.2,79 272.8,70.5 C273.2,62 273.2,54 272.4,45.6 C266.3,44.6 260.8,42.6 258.2,38.4 C255.6,28 245,23 242.9,18.2Z" fill="#fff" stroke="#1d3d95" stroke-width="1.8"/>
<clipPath id="dwb"><path d="M242.9,18.2 C240.8,23 230.2,28 227.6,38.4 C225,42.6 219.5,44.6 213.4,45.6 C212.6,54 212.6,62 213,70.5 C213.6,79 224,86 242.9,92 C261.8,86 272.2,79 272.8,70.5 C273.2,62 273.2,54 272.4,45.6 C266.3,44.6 260.8,42.6 258.2,38.4 C255.6,28 245,23 242.9,18.2Z" transform="translate(242.9,56) scale(0.9,0.92) translate(-242.9,-56)"/></clipPath>
<g clip-path="url(#dwb)">
<rect x="205" y="15" width="76" height="80" fill="#2b93d8"/>
<path d="M205,72 Q215,69 224,72 T243,72 T262,72 T281,72 V95 H205Z" fill="#1a58b4"/>
<path d="M208,77 q4,-2.5 8,0 t8,0 t8,0 t8,0 t8,0 t8,0 t8,0 t8,0 M208,81 q4,-2.5 8,0 t8,0 t8,0 t8,0 t8,0 t8,0 t8,0 t8,0" fill="none" stroke="#5aa6e6" stroke-width="0.8"/>
<path d="M222,52.5 q1,-2.5 3.5,-1.5 q2,-2 4,0 q3,0 2.5,2.5 h-10z M256,53.5 q1,-2.5 3.5,-1.5 q2,-2 4,0 q3,0 2.5,2.5 h-10z" fill="#f4f8fc"/>
<path d="M217.5,66 C221,73 224,78 229,74 C233,70 237,69 241,74 C244,79 247,81 251,75 C254,70 258,68 263,69" fill="none" stroke="#2f9d4b" stroke-width="3"/>
<path d="M216.5,52 C219,55 222.5,58 223.5,63 C224,67 221,70 218,68 C219.5,63 217,58 216.5,52Z" fill="#e9a51f"/>
<path d="M219,56 C221,59 222,62 221.5,66" fill="none" stroke="#2f9d4b" stroke-width="1.6"/>
<path d="M264.5,61 C267,63 268,66 266,69 C264,71 262,70 262.5,68 C264.5,66.5 264,64 264.5,61Z" fill="#e58a1f"/>
<path d="M242.9,27 C238.5,34 238.2,42 242.9,52 C247.6,42 247.3,34 242.9,27Z" fill="#5fb3ea" stroke="#f7fbff" stroke-width="0.9"/>
<path d="M242.9,30 L240.4,42 H245.4Z" fill="#f0a01c"/>
<circle cx="242.9" cy="44.3" r="2.6" fill="#fdf3e4"/>
<path d="M239.2,47.5 h7.4 l1.2,8 h-9.8z" fill="#fbf1df"/>
<path d="M239.4,49 L234,45 L233.6,41 M246.4,49 L251.8,45 L252.2,41 M239.2,51 L235,55 L236,59 M246.6,51 L250.8,55 L249.8,59" fill="none" stroke="#fdf6ea" stroke-width="1.5"/>
<path d="M241,47 h3.8 l0.8,8 h-5.4z" fill="#f2a32a"/>
<path d="M235.5,60 C238,56.5 248,56.5 250.5,60 C251.5,64 247,66.5 242.9,66.5 C238.8,66.5 234.5,64 235.5,60Z" fill="#ee8a28"/>
<path d="M238,61.5 C240,59.5 246,59.5 248,61.5 C246,64 240,64 238,61.5Z" fill="#d93a2a"/>
<path d="M245,66 C248,62 253,62 255.5,64 C253,66 252,70 247.5,71 C245.5,70 244.5,68 245,66Z" fill="#ef7fa6"/>
<path d="M246.5,71 L247.5,79" stroke="#f6f1e6" stroke-width="1.3"/>
</g>
<path d="M224.6,85.2 Q242.9,91.3 261.2,85.2 L260.4,89.8 Q242.9,95.8 225.4,89.8Z" fill="#fff" stroke="#1d3d95" stroke-width="0.7"/>
<path id="dwtb" d="M226.6,89.2 Q242.9,94.6 259.2,89.2" fill="none"/>
<text font-family="Liberation Sans,DejaVu Sans,sans-serif" font-weight="bold" font-size="3.6" fill="#1d3d95"><textPath href="#dwtb" startOffset="50%" text-anchor="middle" textLength="31" lengthAdjust="spacingAndGlyphs">กรมทรัพยากรน้ำ</textPath></text>
<path d="M205.6,79.3 L211.6,81.2 C219,97 236,99.5 242.9,99.5 C249.8,99.5 266.8,97 274.2,81.2 L280.2,79.3 L278.6,84.6 C270.5,102 251,105 242.9,105 C234.8,105 215.3,102 207.2,84.6Z" fill="#fff" stroke="#1d3d95" stroke-width="0.7"/>
<path id="dwbb" d="M208.6,82.6 C217,100.2 235.5,103.2 242.9,103.2 C250.3,103.2 268.8,100.2 277.2,82.6" fill="none"/>
<text font-family="Liberation Serif,serif" font-weight="bold" font-size="5.5" fill="#1d3d95" stroke="#1d3d95" stroke-width="0.25"><textPath href="#dwbb" startOffset="50%" text-anchor="middle" textLength="82" lengthAdjust="spacingAndGlyphs">DEPARTMENT OF WATER RESOURCES</textPath></text>
</g>
<rect x="309.4" y="43.5" width="98.6" height="43.2" fill="#c9281f"/>
<text x="314.6" y="76.4" font-family="Liberation Sans,sans-serif" font-weight="bold" font-size="38.6" textLength="88.2" lengthAdjust="spacingAndGlyphs" fill="#fff">adpc</text>
<rect x="438.9" y="32.4" width="24.4" height="24.1" fill="#000"/>
<circle cx="480.6" cy="44.3" r="12.5" fill="#000"/>
<path d="M448.9,62.7 L461.3,74.7 L448.9,87 L441.8,79.9 L447.4,74.7 L441.8,69.2Z" fill="#eaa2ae"/>
<path d="M480.9,62.8 L492.9,74.6 V86.9 H468.9 V74.6Z" fill="#000"/>
<text x="441.7" y="97.3" font-family="Liberation Sans,sans-serif" font-weight="bold" font-size="5.6" textLength="19.3" lengthAdjust="spacing" fill="#111">UDDC</text>
<text font-family="Liberation Sans,sans-serif" font-size="2.5" fill="#333"><tspan x="468.6" y="94.6" textLength="21" lengthAdjust="spacingAndGlyphs">Urban Design and</tspan><tspan x="468.6" y="97.6" textLength="25" lengthAdjust="spacingAndGlyphs">Development Center</tspan></text>
<text x="525" y="77.8" font-family="Liberation Serif,serif" font-weight="bold" font-size="34.4" textLength="70.2" lengthAdjust="spacingAndGlyphs" fill="#3e7a2d">TEI</text>
<path d="M586.6,38 C582,44 582.5,52 588.5,56.5 C590,57.8 592,59 593.6,59.6 C591.8,57.5 590.6,55.8 590.6,53 C592.5,47.5 590.5,42 586.6,38Z" fill="#8fbb45"/>
<rect x="582" y="53.3" width="9" height="3.2" fill="#fff" opacity="0"/>
<g font-family="Liberation Serif,serif" font-weight="bold" font-size="8" fill="#262626"><text x="601.7" y="60.1" textLength="47.2" lengthAdjust="spacingAndGlyphs">THAILAND</text><text x="601.7" y="68.9" textLength="69.8" lengthAdjust="spacingAndGlyphs">ENVIRONMENT</text><text x="601.7" y="77.7" textLength="49.2" lengthAdjust="spacingAndGlyphs">INSTITUTE</text></g>
<g transform="translate(725.1,58.4)">
<g transform="rotate(0)"><path d="M0,-4.8 C-6.6,-9.5 -7,-17 0,-25.4 C7,-17 6.6,-9.5 0,-4.8Z" fill="#5b9c54"/><path d="M0,-6 L0,-19" stroke="#eef5ea" stroke-width="0.9"/></g>
<g transform="rotate(51.43)"><path d="M0,-4.8 C-6.6,-9.5 -7,-17 0,-25.4 C7,-17 6.6,-9.5 0,-4.8Z" fill="#5b9c54"/><path d="M0,-6 L0,-19" stroke="#eef5ea" stroke-width="0.9"/></g>
<g transform="rotate(102.86)"><path d="M0,-4.8 C-6.6,-9.5 -7,-17 0,-25.4 C7,-17 6.6,-9.5 0,-4.8Z" fill="#5b9c54"/><path d="M0,-6 L0,-19" stroke="#eef5ea" stroke-width="0.9"/></g>
<g transform="rotate(154.29)"><path d="M0,-4.8 C-6.6,-9.5 -7,-17 0,-25.4 C7,-17 6.6,-9.5 0,-4.8Z" fill="#5b9c54"/><path d="M0,-6 L0,-19" stroke="#eef5ea" stroke-width="0.9"/></g>
<g transform="rotate(205.71)"><path d="M0,-4.8 C-6.6,-9.5 -7,-17 0,-25.4 C7,-17 6.6,-9.5 0,-4.8Z" fill="#5b9c54"/><path d="M0,-6 L0,-19" stroke="#eef5ea" stroke-width="0.9"/></g>
<g transform="rotate(257.14)"><path d="M0,-4.8 C-6.6,-9.5 -7,-17 0,-25.4 C7,-17 6.6,-9.5 0,-4.8Z" fill="#5b9c54"/><path d="M0,-6 L0,-19" stroke="#eef5ea" stroke-width="0.9"/></g>
<g transform="rotate(308.57)"><path d="M0,-4.8 C-6.6,-9.5 -7,-17 0,-25.4 C7,-17 6.6,-9.5 0,-4.8Z" fill="#5b9c54"/><path d="M0,-6 L0,-19" stroke="#eef5ea" stroke-width="0.9"/></g>
</g>
<text x="700.6" y="94.3" font-family="Liberation Sans,sans-serif" font-weight="bold" font-size="9.4" textLength="49.2" lengthAdjust="spacing" fill="#2d4034">RECOFTC</text>
<text x="792.6" y="20.2" font-family="Liberation Serif,serif" font-size="9.5" textLength="54" lengthAdjust="spacingAndGlyphs" fill="#222" stroke="#222" stroke-width="0.15">Supported by:</text>
<g transform="translate(793.5,38.3)">
<path d="M8.3,4.4 C6.6,2 3.7,1.3 1.6,2.4 C0.3,4.5 -0.1,7.6 0.5,10.3 C1.2,12.8 3,14.6 5.5,15.2 C6,13.7 7,12.3 8.3,11.4Z" fill="#151515"/><path d="M7.9,5.6 L1.0,5.4 M7.9,6.6 L0.5,8.6 M7.9,7.8 L1.4,11.8 M8,9 L3.4,14.2" stroke="#fff" stroke-width="0.55" fill="none"/>
<g transform="translate(18.8,0) scale(-1,1)"><path d="M8.3,4.4 C6.6,2 3.7,1.3 1.6,2.4 C0.3,4.5 -0.1,7.6 0.5,10.3 C1.2,12.8 3,14.6 5.5,15.2 C6,13.7 7,12.3 8.3,11.4Z" fill="#151515"/><path d="M7.9,5.6 L1.0,5.4 M7.9,6.6 L0.5,8.6 M7.9,7.8 L1.4,11.8 M8,9 L3.4,14.2" stroke="#fff" stroke-width="0.55" fill="none"/></g>
<ellipse cx="9.4" cy="8.4" rx="1.55" ry="4.4" fill="#151515"/>
<circle cx="9.3" cy="2.1" r="1.4" fill="#151515"/><path d="M8.3,1.5 L6.5,2.5 L8.3,3.1Z" fill="#151515"/>
<path d="M8.4,11.8 L6.3,15.6 M10.4,11.8 L12.5,15.6 M6.3,15.6 l-1.3,0.9 M6.3,15.6 l0,1.4 M6.3,15.6 l1.2,0.9 M12.5,15.6 l-1.2,0.9 M12.5,15.6 l0,1.4 M12.5,15.6 l1.3,0.9" stroke="#151515" stroke-width="1" fill="none"/>
<path d="M9.4,11.6 L7.5,17.4 L9.4,18.8 L11.3,17.4Z" fill="#151515"/>
</g>
<rect x="817.7" y="38.9" width="3.6" height="17.5" fill="#111"/><rect x="817.7" y="56.4" width="3.6" height="17" fill="#d3211c"/><rect x="817.7" y="73.4" width="3.6" height="17.6" fill="#f6c917"/>
<g font-family="Liberation Sans,sans-serif" font-size="9.3" fill="#2c2c2c">
<text x="826.9" y="46" textLength="59.6" lengthAdjust="spacingAndGlyphs">Federal Ministry</text>
<text x="826.9" y="56.3" textLength="74.2" lengthAdjust="spacingAndGlyphs">for Economic Affairs</text>
<text x="826.9" y="66.6" textLength="70.2" lengthAdjust="spacingAndGlyphs">and Climate Action</text>
<text x="912.9" y="46" textLength="59.6" lengthAdjust="spacingAndGlyphs">Federal Ministry</text>
<text x="912.9" y="56.3" textLength="155.4" lengthAdjust="spacingAndGlyphs">for the Environment, Nature Conservation,</text>
<text x="912.9" y="66.6" textLength="148.4" lengthAdjust="spacingAndGlyphs">Nuclear Safety and Consumer Protection</text>
</g>
<g font-family="Liberation Serif,serif" font-size="9.6" fill="#222" stroke="#222" stroke-width="0.15"><text x="792.6" y="115.3" textLength="95.4" lengthAdjust="spacingAndGlyphs">on the basis of a decision</text><text x="792.6" y="125.6" textLength="99.8" lengthAdjust="spacingAndGlyphs">by the German Bundestag</text></g>
<text x="1098.9" y="66.9" font-family="Liberation Sans,sans-serif" font-weight="bold" font-size="38.5" textLength="55.4" lengthAdjust="spacingAndGlyphs" fill="#1f5674">IKI</text>
<circle cx="1180.2" cy="53.5" r="7" fill="#1f5674"/>
<circle cx="1180.2" cy="53.5" r="12.6" fill="none" stroke="#5ec2b8" stroke-width="2.8" stroke-linecap="round" stroke-dasharray="24 4.2 12 4.2 30 4.76" transform="rotate(-140 1180.2 53.5)"/>
<circle cx="1180.2" cy="53.5" r="18.7" fill="none" stroke="#6cc07c" stroke-width="2.7" stroke-linecap="round" stroke-dasharray="15.6 4" transform="rotate(-97 1180.2 53.5)"/>
<g font-family="Liberation Sans,sans-serif" font-size="8.1" fill="#2d6980" stroke="#2d6980" stroke-width="0.25"><text x="1207.9" y="45.8" textLength="67.8" lengthAdjust="spacing">INTERNATIONAL</text><text x="1207.9" y="56.3" textLength="36.6" lengthAdjust="spacing">CLIMATE</text><text x="1207.9" y="66.9" textLength="42.8" lengthAdjust="spacing">INITIATIVE</text></g>
<text class="ttl" x="47.6" y="150.2" textLength="687.2" lengthAdjust="spacingAndGlyphs">7. Percentage Change of Annual Total Rainfall by 2080s</text>
</g>
<g transform="translate(45.8,161.4) scale(1) translate(-45.8,-161.4)">
<g transform="translate(0,0)">
<g clip-path="url(#thc)"><g filter="url(#b1)">
<rect x="40" y="155" width="320" height="575" fill="#e8d6cc"/>
<path d="M76.9,207.5C79.7,202 84.4,198.2 90.5,195.8C96.7,193.4 108.7,191.8 113.9,193.1C119.1,194.4 121.6,199.6 121.6,203.6C121.6,207.6 117.8,213.3 113.9,217.2C110,221.1 102.5,222.7 98.3,226.9C94.1,231.1 89.6,236.6 88.6,242.5C87.6,248.3 89.9,257.1 92.5,261.9C95.1,266.8 103.2,268.1 104.2,271.6C105.1,275.2 101.6,283.3 98.3,283.3C95.1,283.3 88.3,276.8 84.7,271.6C81.1,266.5 78.7,259.3 76.9,252.2C75.2,245.1 74.2,236.3 74.2,228.9C74.2,221.4 74.2,213 76.9,207.5Z" fill="#d1dae9"/>
<path d="M137.2,205.5C139.3,202.4 151.5,200.5 156.6,198.5C161.8,196.6 162.5,194.7 168.3,193.9C174.1,193.1 187.4,190.6 191.6,193.9C195.8,197.1 193.9,206.8 193.6,213.3C193.3,219.8 191.2,226.9 189.7,232.8C188.2,238.6 182.4,244.3 184.6,248.3C186.9,252.3 197.5,257.1 203.3,256.9C209.1,256.6 213.1,246.4 219.6,246.8C226.1,247.1 234.5,260.8 242.2,259.2C249.8,257.6 257.7,239.8 265.5,237.4C273.3,235.1 281.7,240.1 288.8,245.2C296,250.3 304.4,260.8 308.3,267.8C312.2,274.8 312.8,281.9 312.2,287.2C311.5,292.5 308.3,295.6 304.4,299.6C300.5,303.7 294,308.1 288.8,311.3C283.6,314.5 278.5,319.1 273.3,319.1C268.1,319.1 262.9,313.9 257.7,311.3C252.5,308.7 248,306.1 242.2,303.5C236.3,300.9 229.2,298.3 222.7,295.7C216.3,293.2 209.1,289.9 203.3,288C197.5,286 192.3,283.4 187.7,284.1C183.2,284.7 180.6,289.9 176.1,291.9C171.5,293.8 165.7,295.7 160.5,295.7C155.3,295.7 149.5,294.5 145,291.9C140.4,289.3 136.2,284.7 133.3,280.2C130.4,275.7 126.8,269.8 127.5,264.6C128.1,259.5 133,253.6 137.2,249.1C141.4,244.6 149.5,242 152.8,237.4C156,232.9 158.1,225.2 156.6,221.9C155.2,218.5 147.4,219.9 144.2,217.2C141,214.5 135.1,208.7 137.2,205.5Z" fill="#d1dae9"/>
<path d="M90.5,271.6C93.8,270.3 101.6,278.8 106.1,283.3C110.6,287.8 111.9,295.6 117.8,298.9C123.6,302.1 133.3,300.8 141.1,302.7C148.9,304.7 159.8,306 164.4,310.5C169.1,315.1 169,322.2 169.1,330C169.2,337.7 164.5,348.8 165.2,357.2C165.8,365.6 172.5,374 173,380.5C173.5,387 171.7,391.5 168.3,396.1C164.9,400.6 157.9,403.2 152.8,407.7C147.6,412.3 141.4,416.8 137.2,423.3C133,429.8 131.7,442.7 127.5,446.6C123.3,450.5 114.5,451.1 111.9,446.6C109.3,442.1 113.5,427.8 111.9,419.4C110.3,411 105.9,403.8 102.2,396.1C98.5,388.3 91.1,380.5 89.8,372.7C88.5,365 93,356.5 94.4,349.4C95.9,342.3 98.6,336.4 98.3,330C98,323.5 94.4,317 92.5,310.5C90.5,304 87,297.6 86.7,291.1C86.3,284.6 87.3,272.9 90.5,271.6Z" fill="#d1dae9"/>
<path d="M320.7,337C323.7,332.3 330.8,328.5 335.5,329.2C340.2,329.8 346.5,334.9 349.1,340.8C351.7,346.8 352.5,356.9 351,365C349.6,373 343.7,384.3 340.2,389.1C336.7,393.9 333.3,395.7 330,393.7C326.8,391.8 322.8,383.5 320.7,377.4C318.6,371.3 317.6,363.9 317.6,357.2C317.6,350.4 317.7,341.6 320.7,337Z" fill="#d1dae9"/>
<path d="M246.1,310.5C249,306 260.8,304.7 265.5,306.6C270.2,308.6 273.3,316.4 274.1,322.2C274.8,328 272.1,334.5 270.2,341.6C268.2,348.8 265.6,359.6 262.4,365C259.2,370.3 254.1,374.8 250.7,373.5C247.4,372.2 242.6,363.8 242.2,357.2C241.7,350.6 247.4,341.6 248,333.8C248.7,326.1 243.1,315.1 246.1,310.5Z" fill="#d1dae9"/>
<path d="M115.8,308.6C120,306.4 132.5,305.8 137.2,307.4C141.9,309 144.2,314.5 144.2,318.3C144.2,322.1 141.3,328.1 137.2,330C133.1,331.8 123.9,330.8 119.7,329.2C115.5,327.6 112.6,323.7 111.9,320.2C111.3,316.8 111.6,310.7 115.8,308.6Z" fill="#e8d6cc"/>
<path d="M166.4,195.8C170.6,192.1 185.3,189.1 189.7,194.7C194,200.2 194.7,222.5 192.4,228.9C190.1,235.2 180.7,234.7 176.1,232.8C171.4,230.8 166,223.4 164.4,217.2C162.8,211.1 162.1,199.6 166.4,195.8Z" fill="#e8d6cc"/>
<path d="M123.6,337.7C128.5,334.8 150.2,335.8 156.6,337.7C163.1,339.7 163.1,346.2 162.5,349.4C161.8,352.6 158.6,356.2 152.8,357.2C146.9,358.1 132.3,358.5 127.5,355.2C122.6,352 118.7,340.7 123.6,337.7Z" fill="#e8d6cc"/>
<path d="M145,252.2C147.9,247.3 152.1,242.2 156.6,238.6C161.2,235 167.1,231.9 172.2,230.8C177.2,229.7 184.9,229.1 187,232C189,234.9 187.1,243 184.6,248.3C182.2,253.6 176.9,259.2 172.2,263.9C167.5,268.5 161.7,273.6 156.6,276.3C151.6,279 144.8,281.6 141.9,280.2C139,278.8 138.6,272.4 139.1,267.8C139.7,263.1 142.1,257.1 145,252.2Z" fill="#b5cdfa"/>
<path d="M195.5,260.8C196.8,257.1 207.1,251 211.1,250.3C215.1,249.5 218.6,252.4 219.6,256.1C220.7,259.8 220,269.7 217.3,272.4C214.6,275.1 206.9,274.4 203.3,272.4C199.7,270.5 194.2,264.4 195.5,260.8Z" fill="#b5cdfa"/>
<path d="M216.9,270.9C217,267.3 221.9,264.4 227.4,267.8C232.9,271.1 244.8,284.5 250,291.1C255.1,297.7 259.8,305.3 258.5,307.4C257.2,309.5 247.5,306.6 242.2,303.5C236.9,300.5 230.8,294.6 226.6,289.1C222.4,283.7 216.8,274.4 216.9,270.9Z" fill="#b5cdfa"/>
<path d="M265.5,237.8C268.9,236.5 281.1,239.4 285.7,242.5C290.4,245.5 294.9,253.4 293.5,256.1C292.1,258.8 281.8,259.7 277.2,258.8C272.5,257.9 267.4,254.1 265.5,250.6C263.6,247.1 262.1,239.2 265.5,237.8Z" fill="#b5cdfa"/>
<path d="M265.5,271.6C267.8,268.3 277,265.8 281.1,267.8C285.1,269.7 289.6,279.3 289.6,283.3C289.6,287.3 284.8,291.1 281.1,291.9C277.4,292.6 270,291.3 267.4,288C264.9,284.6 263.2,275 265.5,271.6Z" fill="#b5cdfa"/>
<path d="M261.6,295C265.2,293 276.4,296.3 281.1,298.9C285.7,301.4 290.9,307.2 289.6,310.5C288.3,313.9 278.3,319.1 273.3,319.1C268.3,319.1 261.6,314.5 259.7,310.5C257.7,306.5 258.1,296.9 261.6,295Z" fill="#b5cdfa"/>
<path d="M85.9,283.3C86.5,280.7 91.4,282.7 94.4,287.2C97.5,291.7 102.1,304.6 104.2,310.5C106.2,316.5 107.8,321.5 106.9,323C105.9,324.4 101,322.4 98.3,319.1C95.6,315.7 92.6,308.7 90.5,302.7C88.5,296.8 85.2,285.9 85.9,283.3Z" fill="#b5cdfa"/>
<path d="M110.8,372.7C109.7,360.7 112.1,360.7 114.7,372.7C117.2,384.7 125.3,432.7 126.3,444.7C127.4,456.6 123.5,456.6 120.9,444.7C118.3,432.7 111.8,384.7 110.8,372.7Z" fill="#b5cdfa"/>
<path d="M219.6,267.8C220.3,266.8 224.2,269.4 226.6,271.6C229.1,273.9 233.8,279.1 234.4,281.4C235,283.6 232.5,285.9 230.5,285.2C228.6,284.6 224.6,280.4 222.7,277.5C220.9,274.6 219,268.7 219.6,267.8Z" fill="#94b6ff"/>
<path d="M123.6,169.8C127.4,167.3 136.2,164.5 141.9,165.9C147.5,167.3 155.5,174 157.4,178.3C159.4,182.7 156.9,188.6 153.5,191.9C150.2,195.3 142.2,198.5 137.2,198.5C132.2,198.6 126.6,195.3 123.6,192.3C120.6,189.3 119.3,184.4 119.3,180.7C119.3,176.9 119.8,172.2 123.6,169.8Z" fill="#f5c1a9"/>
<path d="M123.6,219.2C124.2,216.7 128.7,215.6 130.2,217.2C131.7,218.8 133.2,226.4 132.5,228.9C131.9,231.3 127.8,233.6 126.3,232C124.8,230.4 122.9,221.6 123.6,219.2Z" fill="#f5c1a9"/>
<path d="M176.1,302C180.1,299.2 189.7,297.8 195.5,298.1C201.4,298.4 205.1,301.8 211.1,303.9C217,306 226,306.8 231.3,310.5C236.6,314.2 240.4,319.6 243,326.1C245.5,332.6 247.5,341.6 246.8,349.4C246.2,357.2 242.3,366.8 239.1,372.7C235.8,378.7 232.1,385 227.4,385.2C222.7,385.3 216.4,376.7 211.1,373.5C205.8,370.3 200.1,369.7 195.5,365.7C191,361.7 187.6,355.4 183.9,349.4C180.2,343.4 175.4,335.8 173.4,330C171.3,324.1 171,319.1 171.4,314.4C171.9,309.7 172.1,304.7 176.1,302Z" fill="#f5c1a9"/>
<path d="M194.7,348.6C199.3,346.6 216.1,345.1 222.7,345.5C229.3,346 234.4,349.3 234.4,351.3C234.4,353.4 229.2,356.9 222.7,358C216.3,359.1 200.2,359.5 195.5,358C190.9,356.4 190.2,350.7 194.7,348.6Z" fill="#e8d6cc"/>
<path d="M273.3,337.7C275.6,331.8 284.8,327.2 288.8,329.2C292.9,331.1 294.7,342.1 297.4,349.4C300.1,356.7 305.2,366.1 305.2,372.7C305.2,379.3 301.4,386.3 297.4,389.1C293.4,391.8 284.8,393.1 281.1,389.1C277.3,385 276.1,373.5 274.8,365C273.5,356.4 270.9,343.7 273.3,337.7Z" fill="#f5c1a9"/>
<path d="M287.3,349.4C287.6,342.9 291.2,342.9 292.7,349.4C294.3,355.9 296.9,381.8 296.6,388.3C296.3,394.8 292.3,394.8 290.8,388.3C289.2,381.8 287,355.9 287.3,349.4Z" fill="#e8d6cc"/>
<path d="M308.3,322.2C309.7,318.7 318,316.2 320.7,317.5C323.4,318.8 326,326.5 324.6,330C323.2,333.5 314.9,339.8 312.2,338.5C309.4,337.2 306.8,325.7 308.3,322.2Z" fill="#f5c1a9"/>
<path d="M308.3,270.9C309.2,269.2 314.4,272.7 316,275.5C317.7,278.4 319.4,286.3 318.4,288C317.4,289.7 311.9,288.5 310.2,285.6C308.5,282.8 307.3,272.5 308.3,270.9Z" fill="#f5c1a9"/>
<path d="M180,388.3C183.9,384.9 196.2,384.9 203.3,387.5C210.4,390.1 216.1,399.2 222.7,403.8C229.3,408.5 241,411.5 243,415.5C244.9,419.5 237.4,422.8 234.4,427.9C231.4,433.1 233.4,443.5 224.7,446.6C215.9,449.7 190,449.8 181.9,446.6C173.8,443.4 176.4,433.6 176.1,427.2C175.8,420.7 179.3,414.2 180,407.7C180.6,401.2 176.1,391.7 180,388.3Z" fill="#f5c1a9"/>
<path d="M211.1,414.7C214.6,412.6 224,416.5 227.4,419.4C230.8,422.2 232.6,428.5 231.3,431.8C230,435.2 223.8,439.6 219.6,439.6C215.5,439.6 207.8,436 206.4,431.8C205,427.7 207.6,416.8 211.1,414.7Z" fill="#f6a283"/>
<path d="M106.1,435 148.9,435 148.9,512.8 137.2,528.3 123.6,563.3 111.9,567.2 110,524.4 117.8,481.7Z" fill="#d1dae9"/>
<path d="M122.4,456.4C125.7,452.2 138.4,452.2 141.9,456.4C145.3,460.6 144.8,475.5 143,481.7C141.3,487.8 134.8,493.3 131.4,493.3C127.9,493.3 123.9,487.8 122.4,481.7C120.9,475.5 119.2,460.6 122.4,456.4Z" fill="#b5cdfa"/>
<path d="M94.4,526.4C98.3,521.5 108.6,518.3 111.9,522.5C115.3,526.7 115,542.2 114.7,551.6C114.3,561 114,574.2 110,578.9C106,583.5 94.1,584.2 90.5,579.6C87,575.1 88,560.5 88.6,551.6C89.2,542.8 90.5,531.2 94.4,526.4Z" fill="#e8d6cc"/>
<path d="M98.3,528.3C99.2,524.2 103,523.5 104.2,526.8C105.3,530 106.2,543.6 105.3,547.8C104.5,551.9 100.3,554.9 99.1,551.6C97.9,548.4 97.5,532.5 98.3,528.3Z" fill="#f5c1a9"/>
<path d="M73,579.6 141.1,579.6 168.3,637.2 226.6,691.6 226.6,722.7 172.2,722.7 137.2,691.6 98.3,652.7 73,621.6Z" fill="#b5cdfa"/>
<path d="M115.8,584.7C119.7,580.7 133.3,577.8 139.1,582C145,586.2 147.9,600.8 150.8,610C153.7,619.2 154.4,628.4 156.6,637.2C158.9,645.9 162.1,654.7 164.4,662.4C166.7,670.2 171.5,679.3 170.2,683.8C169,688.4 161.4,691 156.6,689.7C151.9,688.4 146.1,682.2 141.9,676.1C137.7,669.9 135.1,660.5 131.4,652.7C127.7,645 122.3,637.2 119.7,629.4C117.1,621.6 116.5,613.5 115.8,606.1C115.2,598.6 111.9,588.7 115.8,584.7Z" fill="#94b6ff"/>
<path d="M76.9,606.1C79.9,603.8 91.5,603.8 94.4,606.1C97.3,608.3 97.3,617.4 94.4,619.7C91.5,621.9 79.9,621.9 76.9,619.7C74,617.4 74,608.3 76.9,606.1Z" fill="#94b6ff"/>
<path d="M185.8,672.9C187.4,669.7 198.4,671 203.3,674.1C208.2,677.2 214.3,686.7 215,691.6C215.6,696.5 210.7,702.9 207.2,703.3C203.6,703.6 197.1,698.6 193.6,693.6C190,688.5 184.2,676.2 185.8,672.9Z" fill="#94b6ff"/>
<path d="M122.4,584.7C124.9,581.9 133.6,580.6 135.6,583.5C137.7,586.4 136,597.6 134.5,602.2C132.9,606.7 128.6,611.1 126.3,610.7C124,610.4 121.5,604.6 120.9,600.2C120.2,595.9 120,587.5 122.4,584.7Z" fill="#7597f6"/>
<path d="M136.4,639.1C139,636.2 148.2,633.3 152.8,637.2C157.3,641.1 160.7,654.7 163.6,662.4C166.6,670.2 171.4,679.5 170.2,683.8C169.1,688.2 160.9,690.4 156.6,688.5C152.4,686.6 148.2,677.8 145,672.2C141.7,666.5 138.6,660.2 137.2,654.7C135.8,649.2 133.8,642 136.4,639.1Z" fill="#7597f6"/>
<path d="M145.8,663.6C148.3,661 159.6,659.1 163.6,662.4C167.7,665.8 171.4,679.3 170.2,683.8C169.1,688.4 160.3,690.6 156.6,689.7C152.9,688.7 149.9,682.3 148.1,678C146.3,673.7 143.2,666.2 145.8,663.6Z" fill="#5673e0"/>
<path d="M184.6,700.2C187.9,696.3 198.9,695.1 203.3,696.3C207.7,697.4 211.1,703.3 211.1,707.2C211.1,711 207.8,717.5 203.3,719.6C198.8,721.7 187,722.8 183.9,719.6C180.7,716.4 181.4,704.1 184.6,700.2Z" fill="#d1dae9"/>
<path d="M170.2,674.1C171.5,672 179.6,671.3 181.9,672.9C184.2,674.6 185.2,681.7 183.9,683.8C182.6,686 176.4,687.4 174.1,685.8C171.9,684.2 169,676.3 170.2,674.1Z" fill="#d1dae9"/>
<path d="M77,621 86,621 86,643 77,643Z" fill="#b5cdfa"/>
<path d="M139,561 148,561 148,579 139,579Z" fill="#b5cdfa"/>
<path d="M127,679 133,679 133,691 127,691Z" fill="#b5cdfa"/>
<path d="M225,474 240,474 240,500 225,500Z" fill="#d1dae9"/>
</g></g>
<g filter="url(#b2)"><use href="#prov"/><use href="#th" fill="none" stroke="#15151c" stroke-width="1.0" stroke-linejoin="round"/><use href="#isl" fill="none" stroke="#1c1c24" stroke-width="0.8"/><use href="#dots"/><use href="#sq"/></g>
</g>
<rect x="45.8" y="161.4" width="305.6" height="560.6" fill="none" stroke="#3a3a3a" stroke-width="1"/>
<path d="M45.8,708.3h-3.8" stroke="#333" stroke-width="0.9"/><text class="tk" x="37.9" y="712.2" text-anchor="end">6</text><path d="M45.8,632.6h-3.8" stroke="#333" stroke-width="0.9"/><text class="tk" x="37.9" y="636.5" text-anchor="end">8</text><path d="M45.8,556.9h-3.8" stroke="#333" stroke-width="0.9"/><text class="tk" x="37.9" y="560.9" text-anchor="end">10</text><path d="M45.8,481.2h-3.8" stroke="#333" stroke-width="0.9"/><text class="tk" x="37.9" y="485.2" text-anchor="end">12</text><path d="M45.8,405.5h-3.8" stroke="#333" stroke-width="0.9"/><text class="tk" x="37.9" y="409.5" text-anchor="end">14</text><path d="M45.8,329.9h-3.8" stroke="#333" stroke-width="0.9"/><text class="tk" x="37.9" y="333.8" text-anchor="end">16</text><path d="M45.8,254.2h-3.8" stroke="#333" stroke-width="0.9"/><text class="tk" x="37.9" y="258.1" text-anchor="end">18</text><path d="M45.8,178.5h-3.8" stroke="#333" stroke-width="0.9"/><text class="tk" x="37.9" y="182.4" text-anchor="end">20</text><path d="M69.7,722v3.8" stroke="#333" stroke-width="0.9"/><text class="tk" x="69.7" y="738.3" text-anchor="middle">98</text><path d="M106.6,722v3.8" stroke="#333" stroke-width="0.9"/><text class="tk" x="106.6" y="738.3" text-anchor="middle">99</text><path d="M143.4,722v3.8" stroke="#333" stroke-width="0.9"/><text class="tk" x="143.4" y="738.3" text-anchor="middle">100</text><path d="M180.3,722v3.8" stroke="#333" stroke-width="0.9"/><text class="tk" x="180.3" y="738.3" text-anchor="middle">101</text><path d="M217.2,722v3.8" stroke="#333" stroke-width="0.9"/><text class="tk" x="217.2" y="738.3" text-anchor="middle">102</text><path d="M254,722v3.8" stroke="#333" stroke-width="0.9"/><text class="tk" x="254" y="738.3" text-anchor="middle">103</text><path d="M290.9,722v3.8" stroke="#333" stroke-width="0.9"/><text class="tk" x="290.9" y="738.3" text-anchor="middle">104</text><path d="M327.8,722v3.8" stroke="#333" stroke-width="0.9"/><text class="tk" x="327.8" y="738.3" text-anchor="middle">105</text>
<text class="tk" x="198.8" y="753.6" text-anchor="middle">Longitude</text>
<text class="tk" transform="translate(18.6,443.2) rotate(-90)" text-anchor="middle">Latitude</text>
</g>
<text class="ssp" x="338.6" y="193.4" text-anchor="end" textLength="76.6" lengthAdjust="spacingAndGlyphs">SSP245</text>
<path d="M195.2,157.7h10" stroke="#888" stroke-width="1.3"/>
<g transform="translate(423.7,161.5) scale(1) translate(-423.7,-161.5)">
<g transform="translate(377.9,0.1)">
<g clip-path="url(#thc)"><g filter="url(#b1)">
<rect x="40" y="155" width="320" height="575" fill="#e8d6cc"/>
<path d="M47.8,232.7C47.8,222.9 56.3,204.8 63.4,197.7C70.5,190.5 81.5,193.1 90.6,189.9C99.7,186.7 112,182.4 117.8,178.2C123.6,174 117.5,166.2 125.6,164.6C133.7,163 160.4,164.3 166.4,168.5C172.4,172.7 157.3,185.8 161.4,189.9C165.4,194 185.5,188.5 190.9,193C196.3,197.5 194.5,208.6 194,217.1C193.5,225.7 190.8,235.9 187.8,244.3C184.8,252.7 181.3,261.8 176.1,267.7C170.9,273.5 161.9,276.1 156.7,279.3C151.5,282.6 147.7,288.4 145,287.1C142.3,285.8 139.1,277.4 140.4,271.5C141.7,265.7 149.4,258.6 152.8,252.1C156.2,245.6 160.6,237.8 160.6,232.7C160.6,227.5 156.7,225.5 152.8,221C148.9,216.5 143.1,206.7 137.3,205.4C131.4,204.1 124.3,212.6 117.8,213.2C111.3,213.9 103.6,208 98.4,209.3C93.2,210.6 89.9,215.8 86.7,221C83.5,226.2 78.3,232.7 78.9,240.4C79.6,248.2 87.4,259.9 90.6,267.7C93.8,275.4 96.1,280 98.4,287.1C100.6,294.2 104.9,304.6 104.2,310.4C103.6,316.3 98.7,326.6 94.5,322.1C90.3,317.5 84.1,294.2 78.9,283.2C73.7,272.2 68.6,264.4 63.4,256C58.2,247.6 47.8,242.4 47.8,232.7Z" fill="#d1dae9"/>
<path d="M203.3,257.9C204.3,252.3 213.7,245.8 220.8,245.5C228,245.2 238.7,257.3 246.1,256C253.6,254.7 257.8,239.5 265.6,237.7C273.3,236 285,240.5 292.8,245.5C300.5,250.5 307.4,261.4 312.2,267.7C317,273.9 320.5,276.1 321.5,283.2C322.6,290.3 320.6,304.6 318.4,310.4C316.2,316.3 312.6,318.2 308.3,318.2C304,318.2 298.6,311.7 292.8,310.4C286.9,309.1 279.2,311.7 273.3,310.4C267.5,309.1 263,305.9 257.8,302.6C252.6,299.4 247.4,292.9 242.2,291C237,289 231.2,292.9 226.7,291C222.1,289 218.9,284.8 215,279.3C211.1,273.8 202.4,263.6 203.3,257.9Z" fill="#d1dae9"/>
<path d="M327.8,329.9C332.4,325.3 345.9,331.8 349.9,337.6C353.9,343.5 353.5,355.7 351.9,364.9C350.2,374.1 344.2,388.8 340.2,392.8C336.2,396.9 330.8,393.6 327.8,389C324.7,384.3 321.9,374.7 321.9,364.9C321.9,355 323.1,334.4 327.8,329.9Z" fill="#d1dae9"/>
<path d="M113.9,372.6C117.5,368.7 123.6,370.7 129.5,372.6C135.3,374.6 142.4,379.8 148.9,384.3C155.4,388.8 164.1,392.7 168.4,399.8C172.6,407 176.1,419.3 174.2,427.1C172.2,434.8 166.9,443.3 156.7,446.5C146.5,449.7 120.6,451 113.1,446.5C105.7,442 112.8,427.7 112,419.3C111.1,410.9 107.8,403.7 108.1,396C108.4,388.2 110.4,376.5 113.9,372.6Z" fill="#d1dae9"/>
<path d="M80.9,361C79.9,354.8 84.4,354.5 88.7,359C92.9,363.6 101.9,377.5 106.1,388.2C110.4,398.9 113.6,416.7 113.9,423.2C114.2,429.7 111.3,431.6 108.1,427.1C104.9,422.5 99,407 94.5,396C89.9,384.9 81.8,367.1 80.9,361Z" fill="#d1dae9"/>
<path d="M110,326C113.3,322.7 125.6,327.9 133.4,329.9C141.1,331.8 150.9,333.1 156.7,337.6C162.5,342.2 168.4,351.2 168.4,357.1C168.4,362.9 162.5,371.3 156.7,372.6C150.9,373.9 140.5,368.7 133.4,364.9C126.2,361 117.8,355.8 113.9,349.3C110,342.8 106.8,329.2 110,326Z" fill="#d1dae9"/>
<path d="M59.5,213.2C61.4,208 66.3,201.6 69.2,201.6C72.1,201.6 76.7,207.4 77,213.2C77.3,219.1 70.8,228.8 71.2,236.5C71.5,244.3 75.7,252.7 78.9,259.9C82.2,267 87.4,272.2 90.6,279.3C93.8,286.4 98.4,298.1 98.4,302.6C98.4,307.2 93.8,309.8 90.6,306.5C87.4,303.3 83.5,292.3 78.9,283.2C74.4,274.1 66.9,260.5 63.4,252.1C59.8,243.7 58.2,239.1 57.5,232.7C56.9,226.2 57.5,218.4 59.5,213.2Z" fill="#b5cdfa"/>
<path d="M145,172.4C147.9,170.8 158.6,170.5 160.6,172.4C162.5,174.3 159.6,182.4 156.7,184.1C153.8,185.7 145,184.1 143.1,182.1C141.1,180.2 142.1,174 145,172.4Z" fill="#b5cdfa"/>
<path d="M168.4,228.8C170,225.2 181,224.2 183.9,226.8C186.8,229.4 187.5,240.8 185.9,244.3C184.2,247.9 177.1,250.8 174.2,248.2C171.3,245.6 166.7,232.3 168.4,228.8Z" fill="#b5cdfa"/>
<path d="M143.1,259.9C146.2,256.6 157,254 160.6,256C164.1,257.9 166.1,267 164.5,271.5C162.8,276.1 154.6,282.6 150.9,283.2C147.1,283.9 143.2,279.3 141.9,275.4C140.6,271.5 140,263.1 143.1,259.9Z" fill="#b5cdfa"/>
<path d="M207.2,256C208.7,252.1 217.4,246.3 219.7,248.2C221.9,250.2 222.3,263.8 220.8,267.7C219.4,271.5 213.4,273.5 211.1,271.5C208.9,269.6 205.8,259.9 207.2,256Z" fill="#b5cdfa"/>
<path d="M220.8,267.7C222.1,265.7 228.6,268.3 230.6,271.5C232.5,274.8 233.8,285.1 232.5,287.1C231.2,289 224.7,286.4 222.8,283.2C220.8,280 219.5,269.6 220.8,267.7Z" fill="#b5cdfa"/>
<path d="M251.9,257.9C252.3,252.4 259.4,240.4 265.6,238.5C271.7,236.5 283.7,242.1 288.9,246.3C294.1,250.5 296,258.3 296.7,263.8C297.3,269.3 296.7,276.1 292.8,279.3C288.9,282.6 278.2,284.5 273.3,283.2C268.5,281.9 267.2,275.8 263.6,271.5C260,267.3 251.6,263.4 251.9,257.9Z" fill="#b5cdfa"/>
<path d="M308.3,267.7C309.3,266 316.2,268.9 318,271.5C319.9,274.1 320.2,281.6 319.2,283.2C318.2,284.8 314,283.9 312.2,281.3C310.4,278.7 307.4,269.3 308.3,267.7Z" fill="#b5cdfa"/>
<path d="M327.8,357.1C328.7,353.2 334.2,356.4 335.5,361C336.8,365.5 336.5,380.4 335.5,384.3C334.6,388.2 331,388.8 329.7,384.3C328.4,379.8 326.8,361 327.8,357.1Z" fill="#b5cdfa"/>
<path d="M137.3,396C139.2,392.1 145.7,390.8 147,396C148.3,401.1 147,418.6 145,427.1C143.1,435.5 138.2,443.3 135.3,446.5C132.4,449.7 127.5,451 127.5,446.5C127.5,442 133.7,427.7 135.3,419.3C136.9,410.9 135.3,399.8 137.3,396Z" fill="#b5cdfa"/>
<path d="M121.7,219.1C123.3,215.5 132.7,214.2 137.3,215.2C141.8,216.1 147.6,221 148.9,224.9C150.2,228.8 147.6,234.6 145,238.5C142.4,242.4 136.9,245.9 133.4,248.2C129.8,250.5 124.6,254 123.6,252.1C122.7,250.2 127.9,242.1 127.5,236.5C127.2,231 120.1,222.6 121.7,219.1Z" fill="#f5c1a9"/>
<path d="M110,310.4C111.3,305.9 121.7,303.9 129.5,302.6C137.3,301.3 148.9,305.9 156.7,302.6C164.5,299.4 169.7,286.4 176.1,283.2C182.6,280 189.1,281.3 195.6,283.2C202.1,285.1 207.2,292.3 215,294.9C222.8,297.5 235.1,296.2 242.2,298.8C249.4,301.3 252.6,307.2 257.8,310.4C263,313.7 268.1,315.6 273.3,318.2C278.5,320.8 287.6,322.1 288.9,326C290.2,329.9 286.3,338.3 281.1,341.5C275.9,344.8 264.3,342.8 257.8,345.4C251.3,348 246.1,352.5 242.2,357.1C238.3,361.6 239,369.4 234.5,372.6C229.9,375.9 221.5,376.5 215,376.5C208.5,376.5 202.7,374.6 195.6,372.6C188.4,370.7 178.7,368.7 172.2,364.9C165.8,361 161.9,353.8 156.7,349.3C151.5,344.8 147,340.9 141.1,337.6C135.3,334.4 126.9,334.4 121.7,329.9C116.5,325.3 108.7,315 110,310.4Z" fill="#f5c1a9"/>
<path d="M211.1,403.7C213.7,400.5 226.7,404.4 230.6,407.6C234.5,410.9 235.7,416.7 234.5,423.2C233.2,429.7 227.3,442.6 222.8,446.5C218.3,450.4 208.5,449.7 207.2,446.5C205.9,443.3 214.4,434.2 215,427.1C215.7,419.9 208.5,407 211.1,403.7Z" fill="#f5c1a9"/>
<path d="M168.4,310.4C170,301.7 178.1,292.3 183.9,289C189.7,285.8 197.5,288.7 203.3,291C209.2,293.2 213.7,298.8 218.9,302.6C224.1,306.5 232.5,308.5 234.5,314.3C236.4,320.1 234.5,331.2 230.6,337.6C226.7,344.1 218.3,350.3 211.1,353.2C204,356.1 194,357.1 187.8,355.1C181.6,353.2 177.4,349 174.2,341.5C170.9,334.1 166.7,319.2 168.4,310.4Z" fill="#f6a283"/>
<path d="M211.1,359C213.1,357.6 223.8,359.2 226.7,361C229.6,362.7 230.6,368.1 228.6,369.5C226.7,370.9 217.9,371.3 215,369.5C212.1,367.8 209.2,360.4 211.1,359Z" fill="#f6a283"/>
<path d="M179.2,310.4C180.7,306.2 188.6,302.6 190.9,304.6C193.2,306.5 194.7,317.9 193.2,322.1C191.7,326.3 184.3,331.8 182,329.9C179.6,327.9 177.8,314.6 179.2,310.4Z" fill="#f5c1a9"/>
<path d="M198.7,315.1C200.5,312 208.8,309.4 211.1,311.2C213.5,313 214.5,322.9 212.7,326C210.9,329.1 202.6,331.7 200.2,329.9C197.9,328 196.9,318.2 198.7,315.1Z" fill="#f5c1a9"/>
<path d="M106.1,434.9 148.9,434.9 148.9,512.7 137.3,528.2 123.6,563.2 117.8,582.6 78.9,582.6 86.7,551.5 110,524.3 117.8,481.6Z" fill="#d1dae9"/>
<path d="M127.5,442.7C129.5,436.2 137.1,436.2 139.2,442.7C141.3,449.2 141.7,469.9 140.4,481.6C139.1,493.2 134.2,507.5 131.4,512.7C128.6,517.8 124.3,517.8 123.6,512.7C123,507.5 126.9,493.2 127.5,481.6C128.2,469.9 125.6,449.2 127.5,442.7Z" fill="#b5cdfa"/>
<path d="M207.2,434.9C211.8,433 229.9,431 234.5,434.9C239,438.8 237.7,454.3 234.5,458.2C231.2,462.1 219.5,460.2 215,458.2C210.5,456.3 208.5,450.5 207.2,446.6C205.9,442.7 202.7,436.8 207.2,434.9Z" fill="#f5c1a9"/>
<path d="M226.7,456.3C228.6,452.1 242.2,452.1 246.1,456.3C250,460.5 251.9,477.3 250,481.6C248.1,485.8 238.3,485.8 234.5,481.6C230.6,477.3 224.7,460.5 226.7,456.3Z" fill="#d1dae9"/>
<path d="M98.4,528.2C101.6,518.5 111.7,515.9 113.9,524.3C116.2,532.7 115.2,569 112,578.8C108.7,588.5 96.8,591.1 94.5,582.6C92.2,574.2 95.1,537.9 98.4,528.2Z" fill="#b5cdfa"/>
<path d="M92.5,584.6C93.8,581.7 100.3,580.4 102.3,582.6C104.2,584.9 105.5,595.3 104.2,598.2C102.9,601.1 96.4,602.4 94.5,600.1C92.5,597.9 91.2,587.5 92.5,584.6Z" fill="#f5c1a9"/>
<path d="M110,580.7 141.1,580.7 156.7,613.7 168.4,652.6 172.2,683.7 152.8,689.6 133.4,668.2 117.8,629.3 110,606Z" fill="#b5cdfa"/>
<path d="M115.9,584.6C117,579.1 124.2,579.1 126.4,584.6C128.5,590.1 129.8,612.1 128.7,617.6C127.6,623.1 121.9,623.1 119.8,617.6C117.6,612.1 114.8,590.1 115.9,584.6Z" fill="#94b6ff"/>
<path d="M130.3,637.1C130.3,631.6 136.7,630.6 141.1,635.1C145.5,639.7 152.5,656.2 156.7,664.3C160.9,672.4 166.7,679.8 166.4,683.7C166.1,687.6 159,690.2 154.7,687.6C150.5,685 145.2,676.6 141.1,668.2C137.1,659.8 130.3,642.6 130.3,637.1Z" fill="#94b6ff"/>
<path d="M94.5,614.5C97.1,611.3 113,614.2 117.8,617.6C122.7,621.1 123.6,630.3 123.6,635.1C123.6,640 121.4,646.5 117.8,646.8C114.2,647.1 106.1,642.5 102.3,637.1C98.4,631.7 91.9,617.8 94.5,614.5Z" fill="#d1dae9"/>
<path d="M117.8,634C119.3,628.9 129.7,628.9 132.6,634C135.4,639 136.4,659.2 134.9,664.3C133.4,669.3 126.5,669.3 123.6,664.3C120.8,659.2 116.3,639 117.8,634Z" fill="#e8d6cc"/>
<path d="M182,674C185.2,671.7 199.8,671.7 203.3,674C206.9,676.3 206.6,685.4 203.3,687.6C200.1,689.9 187.5,689.9 183.9,687.6C180.3,685.4 178.7,676.3 182,674Z" fill="#d1dae9"/>
<path d="M171.5,676C172.8,674 178.5,674 180,676C181.6,677.9 182.1,685.7 180.8,687.6C179.5,689.6 173.8,689.6 172.2,687.6C170.7,685.7 170.2,677.9 171.5,676Z" fill="#f5c1a9"/>
<path d="M77,621 86,621 86,643 77,643Z" fill="#d1dae9"/>
<path d="M139,561 148,561 148,579 139,579Z" fill="#d1dae9"/>
<path d="M127,679 133,679 133,691 127,691Z" fill="#d1dae9"/>
<path d="M225,474 240,474 240,500 225,500Z" fill="#d1dae9"/>
</g></g>
<g filter="url(#b2)"><use href="#prov"/><use href="#th" fill="none" stroke="#15151c" stroke-width="1.0" stroke-linejoin="round"/><use href="#isl" fill="none" stroke="#1c1c24" stroke-width="0.8"/><use href="#dots"/><use href="#sq"/></g>
</g>
<rect x="423.7" y="161.5" width="305.6" height="560.6" fill="none" stroke="#3a3a3a" stroke-width="1"/>
<path d="M423.7,708.4h-3.8" stroke="#333" stroke-width="0.9"/><text class="tk" x="415.8" y="712.3" text-anchor="end">6</text><path d="M423.7,632.7h-3.8" stroke="#333" stroke-width="0.9"/><text class="tk" x="415.8" y="636.6" text-anchor="end">8</text><path d="M423.7,557h-3.8" stroke="#333" stroke-width="0.9"/><text class="tk" x="415.8" y="561" text-anchor="end">10</text><path d="M423.7,481.3h-3.8" stroke="#333" stroke-width="0.9"/><text class="tk" x="415.8" y="485.3" text-anchor="end">12</text><path d="M423.7,405.6h-3.8" stroke="#333" stroke-width="0.9"/><text class="tk" x="415.8" y="409.6" text-anchor="end">14</text><path d="M423.7,330h-3.8" stroke="#333" stroke-width="0.9"/><text class="tk" x="415.8" y="333.9" text-anchor="end">16</text><path d="M423.7,254.3h-3.8" stroke="#333" stroke-width="0.9"/><text class="tk" x="415.8" y="258.2" text-anchor="end">18</text><path d="M423.7,178.6h-3.8" stroke="#333" stroke-width="0.9"/><text class="tk" x="415.8" y="182.5" text-anchor="end">20</text><path d="M447.6,722.1v3.8" stroke="#333" stroke-width="0.9"/><text class="tk" x="447.6" y="738.4" text-anchor="middle">98</text><path d="M484.5,722.1v3.8" stroke="#333" stroke-width="0.9"/><text class="tk" x="484.5" y="738.4" text-anchor="middle">99</text><path d="M521.4,722.1v3.8" stroke="#333" stroke-width="0.9"/><text class="tk" x="521.4" y="738.4" text-anchor="middle">100</text><path d="M558.3,722.1v3.8" stroke="#333" stroke-width="0.9"/><text class="tk" x="558.3" y="738.4" text-anchor="middle">101</text><path d="M595.1,722.1v3.8" stroke="#333" stroke-width="0.9"/><text class="tk" x="595.1" y="738.4" text-anchor="middle">102</text><path d="M632,722.1v3.8" stroke="#333" stroke-width="0.9"/><text class="tk" x="632" y="738.4" text-anchor="middle">103</text><path d="M668.9,722.1v3.8" stroke="#333" stroke-width="0.9"/><text class="tk" x="668.9" y="738.4" text-anchor="middle">104</text><path d="M705.7,722.1v3.8" stroke="#333" stroke-width="0.9"/><text class="tk" x="705.7" y="738.4" text-anchor="middle">105</text>
<text class="tk" x="576.7" y="753.7" text-anchor="middle">Longitude</text>
<text class="tk" transform="translate(396.5,443.3) rotate(-90)" text-anchor="middle">Latitude</text>
</g>
<text class="ssp" x="707.9" y="193.7" text-anchor="end" textLength="76.6" lengthAdjust="spacingAndGlyphs">SSP370</text>
<path d="M573.2,157.8h10" stroke="#888" stroke-width="1.3"/>
<g transform="translate(806,161.5) scale(1) translate(-806,-161.5)">
<g transform="translate(760.2,0.1)">
<g clip-path="url(#thc)"><g filter="url(#b1)">
<rect x="40" y="155" width="320" height="575" fill="#e8d6cc"/>
<path d="M47.5,232.7C47.5,222.9 56,204.8 63.1,197.7C70.2,190.5 81.2,191.8 90.3,189.9C99.4,187.9 112,184.1 117.5,186C123,187.9 123.3,196 123.3,201.6C123.3,207.1 117.5,213.2 117.5,219.1C117.5,224.9 123.3,230.4 123.3,236.5C123.3,242.7 116.5,250.2 117.5,256C118.5,261.8 127.9,265.7 129.2,271.5C130.5,277.4 127.9,285.8 125.3,291C122.7,296.2 116.9,298.1 113.6,302.6C110.4,307.2 109.1,315 105.8,318.2C102.6,321.4 98.7,327.9 94.2,322.1C89.6,316.3 83.8,294.2 78.6,283.2C73.4,272.2 68.3,264.4 63.1,256C57.9,247.6 47.5,242.4 47.5,232.7Z" fill="#d1dae9"/>
<path d="M133.1,203.5C136.3,200.3 158.3,199.4 168.1,197.7C177.8,195.9 187.1,189.8 191.4,193C195.7,196.2 194.4,208.6 193.7,217.1C193.1,225.7 190.5,235.9 187.5,244.3C184.5,252.7 179.7,261.2 175.8,267.7C171.9,274.1 168.7,278.7 164.2,283.2C159.6,287.7 153.2,294.9 148.6,294.9C144.1,294.9 138.1,288.4 137,283.2C135.8,278 138.4,269.6 141.6,263.8C144.9,257.9 153.3,254 156.4,248.2C159.5,242.4 161.6,234 160.3,228.8C159,223.6 153.2,221.3 148.6,217.1C144.1,212.9 129.8,206.7 133.1,203.5Z" fill="#d1dae9"/>
<path d="M77.9,357.1C80.3,348.7 86.9,331.2 92.2,326C97.6,320.8 105.5,323.4 109.7,326C113.9,328.6 113.6,336.3 117.5,341.5C121.4,346.7 132.1,351.9 133.1,357.1C134,362.3 124,366.1 123.3,372.6C122.7,379.1 126.3,389.5 129.2,396C132.1,402.4 139.5,403.1 140.8,411.5C142.1,419.9 141.8,440.7 137,446.5C132.1,452.3 116.9,451 111.7,446.5C106.5,442 109.4,427.7 105.8,419.3C102.3,410.9 95,403.1 90.3,396C85.6,388.8 79.9,383 77.9,376.5C75.8,370 75.5,365.5 77.9,357.1Z" fill="#d1dae9"/>
<path d="M195.3,267.7C196.9,261.4 212.1,247.4 220.5,245.5C229,243.5 238.4,257.3 245.8,256C253.3,254.7 257.5,239.5 265.3,237.7C273,236 284.7,240.5 292.5,245.5C300.2,250.5 307.1,261.4 311.9,267.7C316.7,273.9 320.2,277.4 321.2,283.2C322.3,289 321.6,299.7 318.1,302.6C314.6,305.6 305.2,299.4 300.2,300.7C295.3,302 293.1,307.5 288.6,310.4C284,313.3 278.2,319.5 273,318.2C267.8,316.9 262.7,305.9 257.5,302.6C252.3,299.4 247.1,300.1 241.9,298.8C236.7,297.5 231.6,297.5 226.4,294.9C221.2,292.3 216,287.7 210.8,283.2C205.6,278.7 193.7,273.9 195.3,267.7Z" fill="#d1dae9"/>
<path d="M308,337.6C310.6,333.7 320.5,329.9 327.5,329.9C334.4,329.9 345.6,331.8 349.6,337.6C353.6,343.5 353.2,355.7 351.6,364.9C349.9,374.1 343.9,388.8 339.9,392.8C335.9,396.9 330.5,393.6 327.5,389C324.4,384.3 324.2,370.8 321.6,364.9C319,358.9 314.2,357.7 311.9,353.2C309.6,348.7 305.4,341.5 308,337.6Z" fill="#d1dae9"/>
<path d="M261.4,337.6C263.3,335.4 274,335.7 276.9,337.6C279.8,339.6 280.8,347 278.9,349.3C276.9,351.6 268.2,353.2 265.3,351.2C262.3,349.3 259.4,339.9 261.4,337.6Z" fill="#d1dae9"/>
<path d="M57.2,217.1C59.5,212.6 68.3,210.6 70.9,213.2C73.4,215.8 73.8,225.5 72.8,232.7C71.8,239.8 67.6,254.7 65,256C62.4,257.3 58.5,246.9 57.2,240.4C56,234 55,221.6 57.2,217.1Z" fill="#b5cdfa"/>
<path d="M142.8,259.9C145.9,256.3 155.1,255.3 160.3,254C165.5,252.7 171.3,249.8 173.9,252.1C176.5,254.4 177.5,263.8 175.8,267.7C174.2,271.5 168.4,272.8 164.2,275.4C160,278 154.3,283.2 150.6,283.2C146.8,283.2 142.9,279.3 141.6,275.4C140.3,271.5 139.7,263.4 142.8,259.9Z" fill="#b5cdfa"/>
<path d="M220.5,267.7C221.8,265.7 228.3,268.3 230.3,271.5C232.2,274.8 233.5,285.1 232.2,287.1C230.9,289 224.4,286.4 222.5,283.2C220.5,280 219.2,269.6 220.5,267.7Z" fill="#b5cdfa"/>
<path d="M234.2,271.5C236.7,269.6 252.9,272.8 257.5,275.4C262,278 264,285.1 261.4,287.1C258.8,289 246.5,289.7 241.9,287.1C237.4,284.5 231.6,273.5 234.2,271.5Z" fill="#b5cdfa"/>
<path d="M265.3,238.5C268.8,235.6 283.4,242.1 288.6,246.3C293.8,250.5 295.7,258.3 296.4,263.8C297,269.3 296.4,276.1 292.5,279.3C288.6,282.6 277.2,285.8 273,283.2C268.8,280.6 268.5,271.2 267.2,263.8C265.9,256.3 261.7,241.4 265.3,238.5Z" fill="#b5cdfa"/>
<path d="M308,267.7C309,266 315.9,268.9 317.7,271.5C319.6,274.1 319.9,281.6 318.9,283.2C317.9,284.8 313.7,283.9 311.9,281.3C310.1,278.7 307.1,269.3 308,267.7Z" fill="#b5cdfa"/>
<path d="M80.6,361C81.2,356.4 86.7,353.8 90.3,357.1C93.9,360.3 99,372.6 102,380.4C104.9,388.2 108.4,399.8 107.8,403.7C107.1,407.6 101.6,407 98.1,403.7C94.5,400.5 89.3,391.4 86.4,384.3C83.5,377.2 79.9,365.5 80.6,361Z" fill="#b5cdfa"/>
<path d="M111.7,341.5C112.7,339.6 120.8,342.8 123.3,345.4C125.9,348 128.2,355.1 127.2,357.1C126.3,359 120.1,359.7 117.5,357.1C114.9,354.5 110.7,343.5 111.7,341.5Z" fill="#b5cdfa"/>
<path d="M170,302.6C172.3,295.2 178.1,291 183.6,289C189.1,287.1 197.2,288.7 203,291C208.9,293.2 213.4,298.8 218.6,302.6C223.8,306.5 230.9,308.5 234.2,314.3C237.4,320.1 236.4,330.5 238,337.6C239.7,344.8 243.2,350.6 243.9,357.1C244.5,363.6 244.2,372 241.9,376.5C239.7,381.1 235.4,384.3 230.3,384.3C225.1,384.3 216.7,381.1 210.8,376.5C205,372 200.5,361 195.3,357.1C190.1,353.2 183.9,357.1 179.7,353.2C175.5,349.3 171.6,342.2 170,333.7C168.4,325.3 167.7,310.1 170,302.6Z" fill="#f5c1a9"/>
<path d="M187.5,392.1C192.4,386.9 204.3,386.2 210.8,388.2C217.3,390.1 222.5,398.5 226.4,403.7C230.3,408.9 234.2,412.2 234.2,419.3C234.2,426.4 235.4,442 226.4,446.5C217.3,451 187.2,451 179.7,446.5C172.3,442 180.4,428.4 181.7,419.3C183,410.2 182.6,397.3 187.5,392.1Z" fill="#f5c1a9"/>
<path d="M195.3,310.4C196.6,304.6 199.2,303.6 203,302.6C206.9,301.7 213.7,302.6 218.6,304.6C223.5,306.5 230.3,309.4 232.2,314.3C234.2,319.2 233.5,329.2 230.3,333.7C227,338.3 218.6,340.9 212.8,341.5C206.9,342.2 198.2,342.8 195.3,337.6C192.4,332.5 194,316.3 195.3,310.4Z" fill="#f6a283"/>
<path d="M206.9,353.2C208.9,348.7 218,342.2 222.5,341.5C227,340.9 231.9,345.4 234.2,349.3C236.4,353.2 237.4,361 236.1,364.9C234.8,368.7 230.6,372 226.4,372.6C222.2,373.3 214.1,372 210.8,368.7C207.6,365.5 205,357.7 206.9,353.2Z" fill="#f6a283"/>
<path d="M191.4,403.7C194,397.9 206.3,397.3 210.8,399.8C215.4,402.4 218.6,412.8 218.6,419.3C218.6,425.8 214.7,436.1 210.8,438.7C206.9,441.3 198.5,440.7 195.3,434.8C192,429 188.8,409.6 191.4,403.7Z" fill="#f6a283"/>
<path d="M105.8,434.9 148.6,434.9 148.6,512.7 137,528.2 123.3,563.2 117.5,582.6 78.6,582.6 86.4,551.5 109.7,524.3 117.5,481.6Z" fill="#d1dae9"/>
<path d="M111.7,434.9C114.6,432.3 128.2,432.3 131.1,434.9C134,437.5 132.1,447.9 129.2,450.5C126.3,453 116.5,453 113.6,450.5C110.7,447.9 108.8,437.5 111.7,434.9Z" fill="#e8d6cc"/>
<path d="M124.5,452.4C127.3,444.9 137.5,447.5 140.1,452.4C142.7,457.3 141.6,473.5 140.1,481.6C138.6,489.7 133.9,498.4 131.1,501C128.3,503.6 124.4,505.2 123.3,497.1C122.2,489 121.7,459.8 124.5,452.4Z" fill="#b5cdfa"/>
<path d="M128.4,458.2C129.7,455 135.7,455 137,458.2C138.2,461.5 137.5,474.4 136.2,477.7C134.9,480.9 130.5,480.9 129.2,477.7C127.9,474.4 127.1,461.5 128.4,458.2Z" fill="#94b6ff"/>
<path d="M206.9,434.9C211.5,433 229.6,431 234.2,434.9C238.7,438.8 237.4,454.3 234.2,458.2C230.9,462.1 219.2,460.2 214.7,458.2C210.2,456.3 208.2,450.5 206.9,446.6C205.6,442.7 202.4,436.8 206.9,434.9Z" fill="#f5c1a9"/>
<path d="M226.4,456.3C228.3,452.1 241.9,452.1 245.8,456.3C249.7,460.5 251.6,477.3 249.7,481.6C247.8,485.8 238,485.8 234.2,481.6C230.3,477.3 224.4,460.5 226.4,456.3Z" fill="#d1dae9"/>
<path d="M109.7,516.5C111.7,507.5 121.3,504.9 123.3,512.7C125.4,520.4 124.1,554.1 122.2,563.2C120.2,572.3 113.8,574.9 111.7,567.1C109.6,559.3 107.8,525.6 109.7,516.5Z" fill="#e8d6cc"/>
<path d="M92.2,530.2C94.7,521.4 102.7,520.1 105.1,528.2C107.5,536.3 109.1,570 106.6,578.8C104.2,587.5 92.7,588.8 90.3,580.7C87.9,572.6 89.8,538.9 92.2,530.2Z" fill="#b5cdfa"/>
<path d="M78.6,580.7 140.8,580.7 156.4,613.7 168.1,652.6 171.9,683.7 152.5,689.6 133.1,668.2 98.1,637.1 78.6,617.6Z" fill="#d1dae9"/>
<path d="M90.3,590.4C93.2,586.9 106.2,585.9 109.7,588.5C113.3,591.1 114.6,602.4 111.7,606C108.8,609.5 95.8,612.5 92.2,609.9C88.7,607.3 87.4,594 90.3,590.4Z" fill="#e8d6cc"/>
<path d="M112.8,583.4C115.4,577.6 129.4,576.9 133.1,582.6C136.8,588.3 137.6,611.8 135,617.6C132.4,623.5 121.2,623.3 117.5,617.6C113.8,611.9 110.3,589.3 112.8,583.4Z" fill="#b5cdfa"/>
<path d="M116.7,587.3C117.8,582.6 124.2,582.1 126.1,586.5C127.9,590.9 128.7,609.1 127.6,613.7C126.5,618.4 121.3,618.9 119.5,614.5C117.6,610.1 115.6,592 116.7,587.3Z" fill="#94b6ff"/>
<path d="M133.1,590.4C135.7,586.5 150.9,599.5 154.8,606C158.7,612.5 159,625.4 156.4,629.3C153.7,633.2 142.8,635.8 138.9,629.3C135,622.8 130.4,594.3 133.1,590.4Z" fill="#e8d6cc"/>
<path d="M143.9,613.7C145.4,611.2 151.6,611.2 153.3,613.7C155,616.3 155.5,626.7 154.1,629.3C152.6,631.9 146.4,631.9 144.7,629.3C143,626.7 142.5,616.3 143.9,613.7Z" fill="#f5c1a9"/>
<path d="M130,633.2C130.9,627 139.7,626.1 144.7,631.2C149.8,636.4 156.4,655.5 160.3,664.3C164.2,673 169,679.7 168.1,683.7C167.1,687.8 159.3,691 154.4,688.4C149.6,685.8 143,677.4 138.9,668.2C134.8,659 129,639.3 130,633.2Z" fill="#b5cdfa"/>
<path d="M133.8,641C134,636.2 139,635.1 142.8,639C146.5,642.9 152.8,656.8 156.4,664.3C160,671.7 164.3,680 164.2,683.7C164,687.5 159.4,689.6 155.6,686.8C151.9,684.1 145.2,675.1 141.6,667.4C138,659.8 133.6,645.7 133.8,641Z" fill="#94b6ff"/>
<path d="M117.5,634C119,628.9 128.5,628.3 131.1,634C133.7,639.7 134.6,663.1 133.1,668.2C131.6,673.2 124.8,670 122.2,664.3C119.6,658.6 116,639 117.5,634Z" fill="#e8d6cc"/>
<path d="M181.7,674C184.9,671.1 199.5,671.1 203,674C206.6,676.9 206.3,688.6 203,691.5C199.8,694.4 187.2,694.4 183.6,691.5C180,688.6 178.4,676.9 181.7,674Z" fill="#d1dae9"/>
<path d="M170,674C171.4,671.7 178,671.7 179.7,674C181.5,676.3 181.9,685.4 180.5,687.6C179.1,689.9 172.9,689.9 171.2,687.6C169.4,685.4 168.6,676.3 170,674Z" fill="#f5c1a9"/>
<path d="M195.3,695.4C198.4,693.5 211.5,693.3 214.7,695.4C218,697.5 217.8,705.9 214.7,707.8C211.6,709.8 199.3,709.1 196,707.1C192.8,705 192.2,697.3 195.3,695.4Z" fill="#f5c1a9"/>
<path d="M77,621 86,621 86,643 77,643Z" fill="#d1dae9"/>
<path d="M139,561 148,561 148,579 139,579Z" fill="#d1dae9"/>
<path d="M127,679 133,679 133,691 127,691Z" fill="#d1dae9"/>
<path d="M225,474 240,474 240,500 225,500Z" fill="#d1dae9"/>
</g></g>
<g filter="url(#b2)"><use href="#prov"/><use href="#th" fill="none" stroke="#15151c" stroke-width="1.0" stroke-linejoin="round"/><use href="#isl" fill="none" stroke="#1c1c24" stroke-width="0.8"/><use href="#dots"/><use href="#sq"/></g>
</g>
<rect x="806" y="161.5" width="305.6" height="560.6" fill="none" stroke="#3a3a3a" stroke-width="1"/>
<path d="M806,708.4h-3.8" stroke="#333" stroke-width="0.9"/><text class="tk" x="798.1" y="712.3" text-anchor="end">6</text><path d="M806,632.7h-3.8" stroke="#333" stroke-width="0.9"/><text class="tk" x="798.1" y="636.6" text-anchor="end">8</text><path d="M806,557h-3.8" stroke="#333" stroke-width="0.9"/><text class="tk" x="798.1" y="561" text-anchor="end">10</text><path d="M806,481.3h-3.8" stroke="#333" stroke-width="0.9"/><text class="tk" x="798.1" y="485.3" text-anchor="end">12</text><path d="M806,405.6h-3.8" stroke="#333" stroke-width="0.9"/><text class="tk" x="798.1" y="409.6" text-anchor="end">14</text><path d="M806,330h-3.8" stroke="#333" stroke-width="0.9"/><text class="tk" x="798.1" y="333.9" text-anchor="end">16</text><path d="M806,254.3h-3.8" stroke="#333" stroke-width="0.9"/><text class="tk" x="798.1" y="258.2" text-anchor="end">18</text><path d="M806,178.6h-3.8" stroke="#333" stroke-width="0.9"/><text class="tk" x="798.1" y="182.5" text-anchor="end">20</text><path d="M830,722.1v3.8" stroke="#333" stroke-width="0.9"/><text class="tk" x="830" y="738.4" text-anchor="middle">98</text><path d="M866.8,722.1v3.8" stroke="#333" stroke-width="0.9"/><text class="tk" x="866.8" y="738.4" text-anchor="middle">99</text><path d="M903.7,722.1v3.8" stroke="#333" stroke-width="0.9"/><text class="tk" x="903.7" y="738.4" text-anchor="middle">100</text><path d="M940.6,722.1v3.8" stroke="#333" stroke-width="0.9"/><text class="tk" x="940.6" y="738.4" text-anchor="middle">101</text><path d="M977.4,722.1v3.8" stroke="#333" stroke-width="0.9"/><text class="tk" x="977.4" y="738.4" text-anchor="middle">102</text><path d="M1014.3,722.1v3.8" stroke="#333" stroke-width="0.9"/><text class="tk" x="1014.3" y="738.4" text-anchor="middle">103</text><path d="M1051.2,722.1v3.8" stroke="#333" stroke-width="0.9"/><text class="tk" x="1051.2" y="738.4" text-anchor="middle">104</text><path d="M1088,722.1v3.8" stroke="#333" stroke-width="0.9"/><text class="tk" x="1088" y="738.4" text-anchor="middle">105</text>
<text class="tk" x="959" y="753.7" text-anchor="middle">Longitude</text>
<text class="tk" transform="translate(778.8,443.3) rotate(-90)" text-anchor="middle">Latitude</text>
</g>
<text class="ssp" x="1093.4" y="197.3" text-anchor="end" textLength="76.6" lengthAdjust="spacingAndGlyphs">SSP585</text>
<path d="M955.5,157.8h10" stroke="#888" stroke-width="1.3"/>
<g transform="translate(1404.5,167) scale(0.997) translate(-1404.5,-167)">
<g transform="translate(1358.8,5.6)">
<g clip-path="url(#thc)"><g filter="url(#b1)">
<rect x="40" y="155" width="320" height="575" fill="#e8d6cc"/>
<path d="M48,232.2C48,222.4 56.5,204.3 63.6,197.2C70.7,190 81.7,191.7 90.8,189.4C99.9,187.1 112.5,181.6 118,183.6C123.5,185.5 121.3,197.2 123.8,201.1C126.4,204.9 128.1,206.2 133.6,206.9C139.1,207.5 151.7,203.3 156.9,204.9C162.1,206.6 162.7,212.1 164.7,216.6C166.6,221.1 165.3,227.6 168.6,232.2C171.8,236.7 182.8,238 184.1,243.8C185.4,249.7 179.6,260.7 176.3,267.2C173.1,273.6 168.6,277.5 164.7,282.7C160.8,287.9 156.9,296.3 153,298.3C149.1,300.2 145.2,298.9 141.3,294.4C137.5,289.8 133.6,273 129.7,271C125.8,269.1 121.9,278.8 118,282.7C114.1,286.6 109.6,288.5 106.3,294.4C103.1,300.2 101.2,319.6 98.6,317.7C96,315.8 94,288.5 90.8,282.7C87.6,276.9 83.7,287.2 79.1,282.7C74.6,278.2 68.8,263.9 63.6,255.5C58.4,247.1 48,241.9 48,232.2Z" fill="#d1dae9"/>
<path d="M195.8,267.2C197.4,260.9 212.6,246.9 221,245C229.5,243 238.9,256.8 246.3,255.5C253.8,254.2 258,239 265.8,237.2C273.5,235.5 285.2,240 293,245C300.7,250 307.6,260.9 312.4,267.2C317.2,273.4 320.7,276.9 321.7,282.7C322.8,288.5 322.1,299.9 318.6,302.1C315.1,304.4 307,298.3 300.7,296.3C294.5,294.4 288.4,290.2 281.3,290.5C274.2,290.8 264.5,297.6 258,298.3C251.5,298.9 247.6,295 242.4,294.4C237.2,293.7 232.1,296.3 226.9,294.4C221.7,292.4 216.5,287.2 211.3,282.7C206.1,278.2 194.2,273.4 195.8,267.2Z" fill="#d1dae9"/>
<path d="M320.2,344.9C321.5,339.1 330.8,333.9 335.7,333.2C340.7,332.6 347.4,335.8 350.1,341C352.8,346.2 353.7,355.8 352.1,364.4C350.4,372.9 344.1,387.7 340.4,392.3C336.7,397 332,396.4 329.9,392.3C327.8,388.3 329.6,376.1 328,368.2C326.3,360.3 318.9,350.7 320.2,344.9Z" fill="#d1dae9"/>
<path d="M110.2,337.1C113.5,333.2 123.2,339.1 129.7,341C136.2,343 143.3,344.9 149.1,348.8C154.9,352.7 160.8,358.5 164.7,364.4C168.6,370.2 171.8,377.3 172.4,383.8C173.1,390.3 171.1,396.1 168.6,403.2C166,410.4 160.8,419.4 156.9,426.6C153,433.7 152.4,442.8 145.2,446C138.1,449.2 119.6,450.5 114.1,446C108.6,441.5 111.5,428.5 112.2,418.8C112.8,409.1 118.3,396.8 118,387.7C117.7,378.6 111.5,372.8 110.2,364.4C108.9,355.9 107,341 110.2,337.1Z" fill="#d1dae9"/>
<path d="M79.1,364.4C78.5,357.9 85.6,356.6 90.8,360.5C96,364.4 105.7,378 110.2,387.7C114.8,397.4 117.4,409.1 118,418.8C118.7,428.5 116.1,444.7 114.1,446C112.2,447.3 109.6,434.3 106.3,426.6C103.1,418.8 99.2,409.7 94.7,399.3C90.1,389 79.8,370.8 79.1,364.4Z" fill="#d1dae9"/>
<path d="M57.7,212.7C60.3,208.8 63.9,210.8 71.4,208.8C78.8,206.9 95.3,201.1 102.5,201.1C109.6,201.1 114.8,205.6 114.1,208.8C113.5,212.1 103.8,217.3 98.6,220.5C93.4,223.7 87.6,223.7 83,228.3C78.5,232.8 75.2,243.8 71.4,247.7C67.5,251.6 62.3,254.2 59.7,251.6C57.1,249 56.1,238.6 55.8,232.2C55.5,225.7 55.2,216.6 57.7,212.7Z" fill="#b5cdfa"/>
<path d="M145.2,243.8C146.8,240.9 154.9,236.7 156.9,238C158.8,239.3 158.5,248.7 156.9,251.6C155.3,254.5 149.1,256.8 147.2,255.5C145.2,254.2 143.6,246.7 145.2,243.8Z" fill="#b5cdfa"/>
<path d="M156.9,255.5C159.8,252.9 173.4,250.3 176.3,251.6C179.2,252.9 177.3,260.7 174.4,263.3C171.5,265.9 161.8,268.4 158.8,267.2C155.9,265.9 154,258.1 156.9,255.5Z" fill="#b5cdfa"/>
<path d="M221,267.2C222.3,265.2 228.8,267.8 230.8,271C232.7,274.3 234,284.6 232.7,286.6C231.4,288.5 224.9,285.9 223,282.7C221,279.5 219.7,269.1 221,267.2Z" fill="#b5cdfa"/>
<path d="M265.8,238C269,236.4 284.2,241.6 289.1,245.8C293.9,250 296.2,259.7 294.9,263.3C293.6,266.8 285.5,268.4 281.3,267.2C277.1,265.9 272.2,260.3 269.6,255.5C267.1,250.6 262.5,239.6 265.8,238Z" fill="#b5cdfa"/>
<path d="M308.5,267.2C309.5,264.9 316.4,267.8 318.2,271C320.1,274.3 320.4,284.3 319.4,286.6C318.4,288.9 314.2,287.9 312.4,284.6C310.6,281.4 307.6,269.4 308.5,267.2Z" fill="#b5cdfa"/>
<path d="M331.9,348.8C332.8,342.3 338,341 339.6,344.9C341.2,348.8 342.5,365.6 341.6,372.1C340.6,378.6 335.4,387.7 333.8,383.8C332.2,379.9 330.9,355.3 331.9,348.8Z" fill="#b5cdfa"/>
<path d="M137.5,383.8C138.4,378.6 144.9,376.7 147.2,379.9C149.4,383.1 152,398 151.1,403.2C150.1,408.4 143.6,414.2 141.3,411C139.1,407.8 136.5,389 137.5,383.8Z" fill="#b5cdfa"/>
<path d="M153,364.4C154,361.1 157.9,361.1 158.8,364.4C159.8,367.6 159.8,380.6 158.8,383.8C157.9,387 154,387 153,383.8C152,380.6 152,367.6 153,364.4Z" fill="#b5cdfa"/>
<path d="M112.2,422.7C113.8,418.1 120.9,414.9 123.8,418.8C126.8,422.7 131.3,441.5 129.7,446C128.1,450.5 117,449.9 114.1,446C111.2,442.1 110.6,427.2 112.2,422.7Z" fill="#b5cdfa"/>
<path d="M120,304.1C122.9,300.2 133.6,299.9 137.5,302.1C141.3,304.4 143.9,313.2 143.3,317.7C142.6,322.2 137.5,328.1 133.6,329.4C129.7,330.7 122.2,329.7 120,325.5C117.7,321.3 117,308 120,304.1Z" fill="#f5c1a9"/>
<path d="M172.4,309.9C174.4,303.8 178.9,295.7 184.1,292.4C189.3,289.2 197.7,288.9 203.5,290.5C209.4,292.1 212.6,299.6 219.1,302.1C225.6,304.7 235.9,304.7 242.4,306C248.9,307.3 251.5,308.6 258,309.9C264.5,311.2 272.9,312.5 281.3,313.8C289.7,315.1 301.4,316.4 308.5,317.7C315.7,319 322.1,318.3 324.1,321.6C326,324.8 324.1,333.2 320.2,337.1C316.3,341 305.9,340.4 300.7,344.9C295.6,349.4 293.6,362.4 289.1,364.4C284.5,366.3 278.7,355.3 273.5,356.6C268.3,357.9 261.9,366.3 258,372.1C254.1,378 254.1,387.7 250.2,391.6C246.3,395.5 239.2,396.8 234.7,395.5C230.1,394.2 227.5,387.7 223,383.8C218.5,379.9 212,376.7 207.4,372.1C202.9,367.6 200.3,360.5 195.8,356.6C191.2,352.7 184.1,353.3 180.2,348.8C176.3,344.3 173.7,335.8 172.4,329.4C171.1,322.9 170.5,316.1 172.4,309.9Z" fill="#f5c1a9"/>
<path d="M261.9,325.5C262.8,320.3 268.2,320.3 269.6,325.5C271.1,330.7 271.4,351.4 270.4,356.6C269.4,361.8 265.2,361.8 263.8,356.6C262.4,351.4 260.9,330.7 261.9,325.5Z" fill="#e8d6cc"/>
<path d="M207.4,319.6C209.4,317.4 220.1,316.1 223,317.7C225.9,319.3 226.9,327.1 224.9,329.4C223,331.6 214.2,332.9 211.3,331.3C208.4,329.7 205.5,321.9 207.4,319.6Z" fill="#f6a283"/>
<path d="M277.4,327.4C278.7,325.5 285.2,324.2 287.1,325.5C289.1,326.8 290.4,333.2 289.1,335.2C287.8,337.1 281.3,338.4 279.4,337.1C277.4,335.8 276.1,329.4 277.4,327.4Z" fill="#f6a283"/>
<path d="M106.3,434.4 149.1,434.4 149.1,512.2 137.5,527.7 123.8,562.7 118,582.1 79.1,582.1 86.9,551 110.2,523.8 118,481.1Z" fill="#b5cdfa"/>
<path d="M120,438.3C123.2,432.5 139.6,435 143.3,438.3C147,441.5 143.7,451.2 142.1,457.7C140.5,464.2 136.6,474.6 133.6,477.2C130.5,479.8 126.1,479.8 123.8,473.3C121.6,466.8 116.7,444.1 120,438.3Z" fill="#94b6ff"/>
<path d="M114.1,516C115.9,507.9 121.7,506.3 122.7,514.1C123.6,521.9 121.7,554.6 120,562.7C118.2,570.8 113.2,570.5 112.2,562.7C111.2,554.9 112.4,524.1 114.1,516Z" fill="#94b6ff"/>
<path d="M91.6,529.7C94.2,520.6 101.2,520.9 104.4,527.7C107.6,534.5 110.7,561.4 111,570.5C111.3,579.6 110,580.2 106.3,582.1C102.7,584.1 91.3,590.9 88.9,582.1C86.4,573.4 89,538.7 91.6,529.7Z" fill="#e8d6cc"/>
<path d="M207.4,434.4C213.9,431.2 239.2,426.6 246.3,434.4C253.4,442.2 253.4,473.3 250.2,481.1C247,488.8 234,485.6 226.9,481.1C219.7,476.5 210.7,461.6 207.4,453.8C204.2,446.1 201,437.6 207.4,434.4Z" fill="#d1dae9"/>
<path d="M211.3,434.4C214.6,431.8 231.4,431.8 234.7,434.4C237.9,437 234,447.4 230.8,450C227.5,452.5 218.5,452.5 215.2,450C212,447.4 208.1,437 211.3,434.4Z" fill="#e8d6cc"/>
<path d="M75.2,584.1 141.3,580.2 156.9,613.2 168.6,652.1 226.9,691 226.9,722.1 172.4,722.1 137.5,691 98.6,652.1 75.2,621Z" fill="#94b6ff"/>
<path d="M83.8,584.1C87.4,580.8 104.9,579.2 108.3,582.1C111.7,585.1 108,598.3 104.4,601.6C100.8,604.8 90.3,604.5 86.9,601.6C83.5,598.7 80.2,587.3 83.8,584.1Z" fill="#d1dae9"/>
<path d="M110.2,586C114.1,579.6 130.6,578.3 137.5,582.1C144.3,586 147.8,600.3 151.1,609.4C154.3,618.4 154.6,627.5 156.9,636.6C159.2,645.6 162.7,656 164.7,663.8C166.6,671.6 170.5,679 168.6,683.2C166.6,687.4 158.2,691 153,689.1C147.8,687.1 142.3,679 137.5,671.6C132.6,664.1 127.7,652.8 123.8,644.4C120,635.9 116.4,630.7 114.1,621C111.9,611.3 106.3,592.5 110.2,586Z" fill="#7597f6"/>
<path d="M118,589.9C120.3,584.4 131.6,581.5 135.5,584.1C139.4,586.7 141.7,599.3 141.3,605.5C141,611.6 136.8,619.1 133.6,621C130.3,623 124.5,622.3 121.9,617.1C119.3,612 115.7,595.4 118,589.9Z" fill="#5673e0"/>
<path d="M131.6,628.8C132.6,623 142.3,626.9 147.2,632.7C152,638.5 157.5,655.4 160.8,663.8C164,672.2 167.9,679.3 166.6,683.2C165.3,687.1 157.2,689.7 153,687.1C148.8,684.5 144.9,677.4 141.3,667.7C137.8,658 130.6,634.6 131.6,628.8Z" fill="#5673e0"/>
<path d="M144.4,611.3C145.9,608.7 153.4,610 155.3,613.2C157.3,616.5 157.5,628.2 156.1,630.7C154.7,633.3 148.7,632 146.8,628.8C144.8,625.6 143,613.9 144.4,611.3Z" fill="#d1dae9"/>
<path d="M170.5,671.6 203.5,667.7 223,698.8 211.3,722.1 180.2,722.1 176.3,698.8Z" fill="#b5cdfa"/>
<path d="M176.3,675.5C179.9,668 196.4,670.9 203.5,675.5C210.7,680 218.5,695.5 219.1,702.7C219.7,709.8 213.6,715.3 207.4,718.2C201.3,721.1 187.3,727.3 182.2,720.2C177,713 172.8,682.9 176.3,675.5Z" fill="#d1dae9"/>
<path d="M178.3,683.2C181,681.2 192.9,681.2 195.8,683.2C198.7,685.3 198.5,693.6 195.8,695.7C193,697.7 182.4,697.7 179.4,695.7C176.5,693.6 175.6,685.3 178.3,683.2Z" fill="#e8d6cc"/>
<path d="M180.2,706.6C181.6,704.1 187.3,704.1 188.8,706.6C190.2,709 190.2,718.9 188.8,721.3C187.3,723.8 181.6,723.8 180.2,721.3C178.8,718.9 178.8,709 180.2,706.6Z" fill="#e8d6cc"/>
<path d="M77,621 86,621 86,643 77,643Z" fill="#94b6ff"/>
<path d="M139,561 148,561 148,579 139,579Z" fill="#94b6ff"/>
<path d="M127,679 133,679 133,691 127,691Z" fill="#94b6ff"/>
<path d="M225,474 240,474 240,500 225,500Z" fill="#d1dae9"/>
</g></g>
<g filter="url(#b2)"><use href="#prov"/><use href="#th" fill="none" stroke="#15151c" stroke-width="1.0" stroke-linejoin="round"/><use href="#isl" fill="none" stroke="#1c1c24" stroke-width="0.8"/><use href="#dots"/><use href="#sq"/></g>
</g>
<rect x="1404.5" y="167" width="305.6" height="560.6" fill="none" stroke="#3a3a3a" stroke-width="1"/>
<path d="M1404.5,713.9h-3.8" stroke="#333" stroke-width="0.9"/><text class="tk" x="1396.6" y="717.8" text-anchor="end">6</text><path d="M1404.5,638.2h-3.8" stroke="#333" stroke-width="0.9"/><text class="tk" x="1396.6" y="642.1" text-anchor="end">8</text><path d="M1404.5,562.5h-3.8" stroke="#333" stroke-width="0.9"/><text class="tk" x="1396.6" y="566.5" text-anchor="end">10</text><path d="M1404.5,486.8h-3.8" stroke="#333" stroke-width="0.9"/><text class="tk" x="1396.6" y="490.8" text-anchor="end">12</text><path d="M1404.5,411.1h-3.8" stroke="#333" stroke-width="0.9"/><text class="tk" x="1396.6" y="415.1" text-anchor="end">14</text><path d="M1404.5,335.5h-3.8" stroke="#333" stroke-width="0.9"/><text class="tk" x="1396.6" y="339.4" text-anchor="end">16</text><path d="M1404.5,259.8h-3.8" stroke="#333" stroke-width="0.9"/><text class="tk" x="1396.6" y="263.7" text-anchor="end">18</text><path d="M1404.5,184.1h-3.8" stroke="#333" stroke-width="0.9"/><text class="tk" x="1396.6" y="188" text-anchor="end">20</text><path d="M1428.5,727.6v3.8" stroke="#333" stroke-width="0.9"/><text class="tk" x="1428.5" y="743.9" text-anchor="middle">98</text><path d="M1465.3,727.6v3.8" stroke="#333" stroke-width="0.9"/><text class="tk" x="1465.3" y="743.9" text-anchor="middle">99</text><path d="M1502.2,727.6v3.8" stroke="#333" stroke-width="0.9"/><text class="tk" x="1502.2" y="743.9" text-anchor="middle">100</text><path d="M1539.1,727.6v3.8" stroke="#333" stroke-width="0.9"/><text class="tk" x="1539.1" y="743.9" text-anchor="middle">101</text><path d="M1575.9,727.6v3.8" stroke="#333" stroke-width="0.9"/><text class="tk" x="1575.9" y="743.9" text-anchor="middle">102</text><path d="M1612.8,727.6v3.8" stroke="#333" stroke-width="0.9"/><text class="tk" x="1612.8" y="743.9" text-anchor="middle">103</text><path d="M1649.7,727.6v3.8" stroke="#333" stroke-width="0.9"/><text class="tk" x="1649.7" y="743.9" text-anchor="middle">104</text><path d="M1686.5,727.6v3.8" stroke="#333" stroke-width="0.9"/><text class="tk" x="1686.5" y="743.9" text-anchor="middle">105</text>
<text class="tk" x="1557.5" y="759.2" text-anchor="middle">Longitude</text>
<text class="tk" transform="translate(1377.3,448.8) rotate(-90)" text-anchor="middle">Latitude</text>
</g>
<text class="ssp" x="1701.5" y="197.8" text-anchor="end" textLength="76.6" lengthAdjust="spacingAndGlyphs">SSP245</text>
<path d="M1554,163.3h10" stroke="#888" stroke-width="1.3"/>
<g transform="translate(1770.8,166.9) scale(0.997) translate(-1770.8,-166.9)">
<g transform="translate(1725,5.5)">
<g clip-path="url(#thc)"><g filter="url(#b1)">
<rect x="40" y="155" width="320" height="575" fill="#d1dae9"/>
<path d="M123.5,164.2C130.7,160 160,163.9 166.3,168.1C172.6,172.3 160.8,183.3 161.3,189.5C161.7,195.6 169.8,201.8 169,205C168.3,208.3 161.3,209.6 156.6,208.9C151.9,208.3 146.5,203.7 141,201.2C135.5,198.6 126.5,199.5 123.5,193.4C120.6,187.2 116.4,168.4 123.5,164.2Z" fill="#e8d6cc"/>
<path d="M127.4,212.8C129.1,210.6 138.4,213.5 141,216.7C143.6,219.9 144.6,230 143,232.3C141.4,234.5 133.9,233.6 131.3,230.3C128.7,227.1 125.8,215.1 127.4,212.8Z" fill="#e8d6cc"/>
<path d="M109.9,310C111.9,302.9 121.6,300.3 129.4,298.4C137.2,296.4 148.8,300.9 156.6,298.4C164.4,295.8 168.3,284.1 176,282.8C183.8,281.5 194.8,289.3 203.2,290.6C211.7,291.9 218.8,289.3 226.6,290.6C234.4,291.9 242.1,295.8 249.9,298.4C257.7,300.9 264.2,304.2 273.2,306.1C282.3,308.1 295.9,307.4 304.3,310C312.8,312.6 317.9,318.4 323.8,321.7C329.6,324.9 337.4,324.9 339.3,329.5C341.3,334 340,347 335.4,348.9C330.9,350.8 319.9,341.1 312.1,341.1C304.3,341.1 295.3,343.7 288.8,348.9C282.3,354.1 278.4,365.1 273.2,372.2C268,379.4 264.2,387.8 257.7,391.7C251.2,395.6 242.1,396.2 234.4,395.6C226.6,394.9 218.8,389.7 211,387.8C203.2,385.8 194.8,383.9 187.7,383.9C180.6,383.9 173.4,389.7 168.3,387.8C163.1,385.8 161.1,377.4 156.6,372.2C152.1,367 147.5,361.9 141,356.7C134.6,351.5 122.9,348.9 117.7,341.1C112.5,333.3 108,317.1 109.9,310Z" fill="#e8d6cc"/>
<path d="M47.7,232.3C47.7,227.7 60,231.6 63.3,236.1C66.5,240.7 64.6,251.7 67.2,259.5C69.8,267.3 79.5,282.2 78.8,282.8C78.2,283.5 68.5,271.8 63.3,263.4C58.1,254.9 47.7,236.8 47.7,232.3Z" fill="#e8d6cc"/>
<path d="M78.1,356.7C79.3,352.8 89.7,353.4 94.4,356.7C99,359.9 105.4,369.6 106,376.1C106.7,382.6 101.5,394.9 98.3,395.6C95,396.2 90,386.5 86.6,380C83.2,373.5 76.8,360.6 78.1,356.7Z" fill="#e8d6cc"/>
<path d="M249.9,253.6C251.8,251.4 262.5,245.2 265.5,245.9C268.4,246.5 269.3,255.3 267.4,257.5C265.5,259.8 256.7,260.1 253.8,259.5C250.9,258.8 248,255.9 249.9,253.6Z" fill="#e8d6cc"/>
<path d="M327.7,337.2C329.9,329.5 341.3,335.3 343.2,341.1C345.2,347 341.6,364.5 339.3,372.2C337.1,380 331.6,393.6 329.6,387.8C327.7,381.9 325.4,345 327.7,337.2Z" fill="#e8d6cc"/>
<path d="M121.6,308.1C124.5,304.8 135.2,305.2 141,306.1C146.9,307.1 152.1,310 156.6,313.9C161.1,317.8 167,323.6 168.3,329.5C169.6,335.3 167.6,345 164.4,348.9C161.1,352.8 154,354.7 148.8,352.8C143.6,350.8 137.5,341.8 133.3,337.2C129.1,332.7 125.5,330.4 123.5,325.6C121.6,320.7 118.7,311.3 121.6,308.1Z" fill="#f5c1a9"/>
<path d="M179.9,302.2C181.2,298.7 187.7,297.7 189.6,300.3C191.6,302.9 192.9,314.2 191.6,317.8C190.3,321.4 183.8,324.3 181.9,321.7C179.9,319.1 178.6,305.8 179.9,302.2Z" fill="#f5c1a9"/>
<path d="M226.6,317.8C229.8,313.3 243.4,310 249.9,310C256.4,310 262.2,312.6 265.5,317.8C268.7,323 269.3,333.3 269.3,341.1C269.3,348.9 267.4,356.7 265.5,364.5C263.5,372.2 261.6,383.2 257.7,387.8C253.8,392.3 246,393.6 242.1,391.7C238.2,389.7 238.9,378.1 234.4,376.1C229.8,374.2 221.4,380 214.9,380C208.4,380 197.4,378.7 195.5,376.1C193.5,373.5 198.7,367.7 203.2,364.5C207.8,361.2 218.2,361.2 222.7,356.7C227.2,352.1 229.8,343.7 230.5,337.2C231.1,330.8 223.3,322.3 226.6,317.8Z" fill="#f5c1a9"/>
<path d="M80.8,358.6C79.2,353.4 83,352.5 86.6,356.7C90.2,360.9 100.5,378.7 102.2,383.9C103.8,389.1 99.9,392 96.3,387.8C92.8,383.6 82.4,363.8 80.8,358.6Z" fill="#f5c1a9"/>
<path d="M249.9,341.1C250.6,336.6 255.7,334.6 257.7,337.2C259.6,339.8 262.2,352.1 261.6,356.7C260.9,361.2 255.7,367 253.8,364.5C251.8,361.9 249.3,345.7 249.9,341.1Z" fill="#f6a283"/>
<path d="M59.4,212.8C62,206.3 69.8,207.6 74.9,205C80.1,202.5 86,197.9 90.5,197.3C95,196.6 100.9,197.3 102.2,201.2C103.5,205 100.9,215.4 98.3,220.6C95.7,225.8 89.8,227.1 86.6,232.3C83.4,237.4 78.8,245.2 78.8,251.7C78.8,258.2 84,265.3 86.6,271.1C89.2,277 94.4,283.5 94.4,286.7C94.4,289.9 90.5,294.5 86.6,290.6C82.7,286.7 75.6,271.1 71.1,263.4C66.5,255.6 61.3,252.3 59.4,243.9C57.4,235.5 56.8,219.3 59.4,212.8Z" fill="#b5cdfa"/>
<path d="M98.3,232.3C100.9,227.7 110.6,225.8 113.8,228.4C117.1,231 119,241.3 117.7,247.8C116.4,254.3 109.3,266 106,267.3C102.8,268.5 99.6,261.4 98.3,255.6C97,249.8 95.7,236.8 98.3,232.3Z" fill="#b5cdfa"/>
<path d="M156.6,232.3C161.8,228.4 178.9,226.4 183.8,228.4C188.7,230.3 189,239.4 185.8,243.9C182.5,248.5 169.9,254.3 164.4,255.6C158.9,256.9 154,255.6 152.7,251.7C151.4,247.8 151.4,236.1 156.6,232.3Z" fill="#b5cdfa"/>
<path d="M230.5,267.3C231.8,264.7 240.2,268.5 246,271.1C251.8,273.7 260.9,278.9 265.5,282.8C270,286.7 274.5,291.9 273.2,294.5C271.9,297.1 263.5,299.7 257.7,298.4C251.8,297.1 242.8,291.9 238.2,286.7C233.7,281.5 229.2,269.8 230.5,267.3Z" fill="#b5cdfa"/>
<path d="M220.7,267.3C221.7,265 226.9,266 228.5,269.2C230.1,272.4 231.4,284.4 230.5,286.7C229.5,289 224.3,286 222.7,282.8C221.1,279.6 219.8,269.5 220.7,267.3Z" fill="#b5cdfa"/>
<path d="M292.7,255.6C294.6,254.3 307.6,262.7 312.1,267.3C316.6,271.8 318.9,277 319.9,282.8C320.9,288.6 320.3,299.7 318.3,302.2C316.4,304.8 311.2,302.9 308.2,298.4C305.2,293.8 303,282.2 300.4,275C297.9,267.9 290.7,256.9 292.7,255.6Z" fill="#b5cdfa"/>
<path d="M273.2,372.2C281,368.3 311.5,361.9 319.9,364.5C328.3,367 328.3,383.2 323.8,387.8C319.2,392.3 301.1,391.7 292.7,391.7C284.2,391.7 276.5,391 273.2,387.8C270,384.5 265.5,376.1 273.2,372.2Z" fill="#b5cdfa"/>
<path d="M109.9,372.2C112.9,367.7 125.5,374.2 129.4,380C133.3,385.8 133.3,396.2 133.3,407.2C133.3,418.2 132.6,439.6 129.4,446.1C126.1,452.6 116.7,452.6 113.8,446.1C110.9,439.6 112.5,419.5 111.9,407.2C111.2,394.9 107,376.8 109.9,372.2Z" fill="#b5cdfa"/>
<path d="M179.9,395.6C184.5,391 203.9,389.7 211,391.7C218.2,393.6 222,401.4 222.7,407.2C223.3,413.1 218.2,420.2 214.9,426.7C211.7,433.1 209.1,442.9 203.2,446.1C197.4,449.3 183.2,450.6 179.9,446.1C176.7,441.6 183.8,427.3 183.8,418.9C183.8,410.5 175.4,400.1 179.9,395.6Z" fill="#b5cdfa"/>
<path d="M343.2,337.2C344.8,329.5 349.7,335.3 351,341.1C352.3,347 352.6,364.5 351,372.2C349.4,380 342.6,393.6 341.3,387.8C340,381.9 341.6,345 343.2,337.2Z" fill="#b5cdfa"/>
<path d="M312.1,267.3C313,265.3 317.8,268.2 319.1,271.1C320.4,274.1 320.7,282.8 319.9,284.7C319,286.7 315.4,285.7 314.1,282.8C312.8,279.9 311.3,269.2 312.1,267.3Z" fill="#94b6ff"/>
<path d="M115.8,387.8C116.7,378.1 121.6,378.1 123.5,387.8C125.5,397.5 128.4,436.4 127.4,446.1C126.5,455.8 119.7,455.8 117.7,446.1C115.8,436.4 114.8,397.5 115.8,387.8Z" fill="#94b6ff"/>
<path d="M106,434.5 148.8,434.5 148.8,512.3 137.2,527.8 123.5,562.8 117.7,582.2 78.8,582.2 86.6,551.1 109.9,523.9 117.7,481.2Z" fill="#b5cdfa"/>
<path d="M117.7,434.5C121.3,428.7 140.9,430.6 144.9,434.5C148.9,438.4 143.8,451.3 141.8,457.8C139.9,464.3 136.3,471.4 133.3,473.4C130.2,475.3 126.1,476 123.5,469.5C121,463 114.1,440.3 117.7,434.5Z" fill="#94b6ff"/>
<path d="M115.8,500.6C117.7,497.2 125.7,497.4 127.4,500.6C129.2,503.8 128.2,516.7 126.3,520C124.3,523.4 117.5,524.1 115.8,520.8C114,517.6 113.8,504 115.8,500.6Z" fill="#e8d6cc"/>
<path d="M203.2,434.5C207.8,431.9 229.2,430.6 234.4,434.5C239.5,438.4 237.6,453.3 234.4,457.8C231.1,462.4 219.4,463 214.9,461.7C210.4,460.4 209.1,454.6 207.1,450.1C205.2,445.5 198.7,437.1 203.2,434.5Z" fill="#b5cdfa"/>
<path d="M183.8,438.4C187.6,435.8 203.2,435.8 207.1,438.4C211,441 210.9,451.3 207.1,453.9C203.4,456.5 188.5,456.5 184.6,453.9C180.7,451.3 180,441 183.8,438.4Z" fill="#e8d6cc"/>
<path d="M229.7,457.8C231.5,454.3 241.9,453.9 245.2,457.8C248.6,461.7 251.7,477.6 249.9,481.2C248.1,484.7 237.7,483.1 234.4,479.2C231,475.3 227.9,461.4 229.7,457.8Z" fill="#e8d6cc"/>
<path d="M78.8,580.3 141,580.3 156.6,613.3 168.3,652.2 172.1,683.3 152.7,689.2 133.3,667.8 98.3,636.7 78.8,617.2Z" fill="#b5cdfa"/>
<path d="M90.5,609.5C93.7,604.9 112.5,604.9 117.7,609.5C122.9,614 124.8,632.1 121.6,636.7C118.4,641.2 103.5,641.2 98.3,636.7C93.1,632.1 87.3,614 90.5,609.5Z" fill="#d1dae9"/>
<path d="M140.3,605.6C142.5,600.4 152.3,600.4 155,605.6C157.8,610.8 158.8,631.5 156.6,636.7C154.4,641.9 144.5,641.9 141.8,636.7C139.1,631.5 138.1,610.8 140.3,605.6Z" fill="#e8d6cc"/>
<path d="M145.7,611.4C146.9,608.2 152.1,608.2 153.5,611.4C154.9,614.6 155.4,627.6 154.3,630.8C153.1,634.1 147.9,634.1 146.5,630.8C145.1,627.6 144.5,614.6 145.7,611.4Z" fill="#f5c1a9"/>
<path d="M117.7,628.9C121,626.3 134.6,631.5 141,636.7C147.5,641.9 157.2,654.8 156.6,660C155.9,665.2 143,669.1 137.2,667.8C131.3,666.5 124.8,658.7 121.6,652.2C118.4,645.7 114.5,631.5 117.7,628.9Z" fill="#d1dae9"/>
<path d="M170.2,687.2 203.2,683.3 222.7,698.9 211,722.2 179.9,722.2 176,698.9Z" fill="#e8d6cc"/>
<path d="M184.6,691.9C189.1,687.4 210.5,689 214.9,693.1C219.3,697.1 215.6,711.8 211,716.4C206.5,720.9 192.1,724.4 187.7,720.3C183.3,716.2 180,696.4 184.6,691.9Z" fill="#f5c1a9"/>
<path d="M193.5,667.8C194.8,665.5 201.3,667.1 203.2,669.7C205.2,672.3 206.5,681.1 205.2,683.3C203.9,685.6 197.4,685.9 195.5,683.3C193.5,680.7 192.2,670 193.5,667.8Z" fill="#e8d6cc"/>
<path d="M77,621 86,621 86,643 77,643Z" fill="#b5cdfa"/>
<path d="M139,561 148,561 148,579 139,579Z" fill="#b5cdfa"/>
<path d="M127,679 133,679 133,691 127,691Z" fill="#b5cdfa"/>
<path d="M225,474 240,474 240,500 225,500Z" fill="#d1dae9"/>
</g></g>
<g filter="url(#b2)"><use href="#prov"/><use href="#th" fill="none" stroke="#15151c" stroke-width="1.0" stroke-linejoin="round"/><use href="#isl" fill="none" stroke="#1c1c24" stroke-width="0.8"/><use href="#dots"/><use href="#sq"/></g>
</g>
<rect x="1770.8" y="166.9" width="305.6" height="560.6" fill="none" stroke="#3a3a3a" stroke-width="1"/>
<path d="M1770.8,713.8h-3.8" stroke="#333" stroke-width="0.9"/><text class="tk" x="1762.9" y="717.7" text-anchor="end">6</text><path d="M1770.8,638.1h-3.8" stroke="#333" stroke-width="0.9"/><text class="tk" x="1762.9" y="642" text-anchor="end">8</text><path d="M1770.8,562.4h-3.8" stroke="#333" stroke-width="0.9"/><text class="tk" x="1762.9" y="566.4" text-anchor="end">10</text><path d="M1770.8,486.7h-3.8" stroke="#333" stroke-width="0.9"/><text class="tk" x="1762.9" y="490.7" text-anchor="end">12</text><path d="M1770.8,411h-3.8" stroke="#333" stroke-width="0.9"/><text class="tk" x="1762.9" y="415" text-anchor="end">14</text><path d="M1770.8,335.4h-3.8" stroke="#333" stroke-width="0.9"/><text class="tk" x="1762.9" y="339.3" text-anchor="end">16</text><path d="M1770.8,259.7h-3.8" stroke="#333" stroke-width="0.9"/><text class="tk" x="1762.9" y="263.6" text-anchor="end">18</text><path d="M1770.8,184h-3.8" stroke="#333" stroke-width="0.9"/><text class="tk" x="1762.9" y="187.9" text-anchor="end">20</text><path d="M1794.8,727.5v3.8" stroke="#333" stroke-width="0.9"/><text class="tk" x="1794.8" y="743.8" text-anchor="middle">98</text><path d="M1831.6,727.5v3.8" stroke="#333" stroke-width="0.9"/><text class="tk" x="1831.6" y="743.8" text-anchor="middle">99</text><path d="M1868.5,727.5v3.8" stroke="#333" stroke-width="0.9"/><text class="tk" x="1868.5" y="743.8" text-anchor="middle">100</text><path d="M1905.4,727.5v3.8" stroke="#333" stroke-width="0.9"/><text class="tk" x="1905.4" y="743.8" text-anchor="middle">101</text><path d="M1942.2,727.5v3.8" stroke="#333" stroke-width="0.9"/><text class="tk" x="1942.2" y="743.8" text-anchor="middle">102</text><path d="M1979.1,727.5v3.8" stroke="#333" stroke-width="0.9"/><text class="tk" x="1979.1" y="743.8" text-anchor="middle">103</text><path d="M2016,727.5v3.8" stroke="#333" stroke-width="0.9"/><text class="tk" x="2016" y="743.8" text-anchor="middle">104</text><path d="M2052.8,727.5v3.8" stroke="#333" stroke-width="0.9"/><text class="tk" x="2052.8" y="743.8" text-anchor="middle">105</text>
<text class="tk" x="1923.8" y="759.1" text-anchor="middle">Longitude</text>
<text class="tk" transform="translate(1743.6,448.7) rotate(-90)" text-anchor="middle">Latitude</text>
</g>
<text class="ssp" x="2061.1" y="196.7" text-anchor="end" textLength="76.6" lengthAdjust="spacingAndGlyphs">SSP370</text>
<path d="M1920.3,163.2h10" stroke="#888" stroke-width="1.3"/>
<g transform="translate(2148.6,166.9) scale(0.997) translate(-2148.6,-166.9)">
<g transform="translate(2102.8,5.5)">
<g clip-path="url(#thc)"><g filter="url(#b1)">
<rect x="40" y="155" width="320" height="575" fill="#e8d6cc"/>
<path d="M63.5,212.8C66.7,207 73.2,210.2 79,208.9C84.9,207.6 92,205 98.5,205C105,205 114,205.7 117.9,208.9C121.8,212.2 123.7,221.2 121.8,224.5C119.9,227.7 111.4,226.4 106.2,228.4C101.1,230.3 95.2,231.6 90.7,236.1C86.2,240.7 80.3,249.8 79,255.6C77.7,261.4 84.2,269.2 82.9,271.1C81.6,273.1 75.1,271.8 71.3,267.3C67.4,262.7 60.9,253 59.6,243.9C58.3,234.9 60.2,218.7 63.5,212.8Z" fill="#d1dae9"/>
<path d="M156.8,228.4C159.4,222.5 162.8,223.2 168.5,220.6C174.2,218 187,210.9 191,212.8C195,214.8 193.4,226.4 192.6,232.3C191.7,238.1 189,242 186,247.8C182.9,253.6 178.5,261.4 174.3,267.3C170.1,273.1 165.5,279.6 160.7,282.8C155.8,286 148.2,288.6 145.1,286.7C142,284.7 140.7,276.3 142,271.1C143.3,266 150.4,262.7 152.9,255.6C155.4,248.5 154.2,234.2 156.8,228.4Z" fill="#d1dae9"/>
<path d="M180.1,271.1C182.7,266.3 196.6,261.9 203.4,257.5C210.3,253.2 213.8,245.4 220.9,245.1C228.1,244.8 238.8,256.9 246.2,255.6C253.7,254.3 257.9,239.1 265.7,237.3C273.4,235.6 285.1,240.1 292.9,245.1C300.6,250.1 307.5,261 312.3,267.3C317.1,273.5 320.6,277.3 321.6,282.8C322.7,288.3 322.7,297.7 318.5,300.3C314.4,302.9 304.3,300.3 296.8,298.4C289.2,296.4 279.9,287.7 273.4,288.6C267,289.6 263.1,302.6 257.9,304.2C252.7,305.8 248.2,300 242.3,298.4C236.5,296.7 229.4,296.4 222.9,294.5C216.4,292.5 209.3,288 203.4,286.7C197.6,285.4 191.8,289.3 187.9,286.7C184,284.1 177.5,276 180.1,271.1Z" fill="#d1dae9"/>
<path d="M327.9,337.2C330.1,331.4 335.6,328.8 339.5,329.5C343.4,330.1 349.1,335.3 351.2,341.1C353.3,347 353.8,355.9 352,364.5C350.2,373 344,387.8 340.3,392.4C336.6,397.1 332.2,397.1 329.8,392.4C327.4,387.8 326.2,373.7 325.9,364.5C325.6,355.3 325.6,343.1 327.9,337.2Z" fill="#d1dae9"/>
<path d="M90.7,325.6C93,321 101.1,317.8 104.3,321.7C107.5,325.6 107.9,340.5 110.1,348.9C112.4,357.3 114.7,364.5 117.9,372.2C121.2,380 127,387.1 129.6,395.6C132.2,404 133.5,414.3 133.5,422.8C133.5,431.2 133.1,442.2 129.6,446.1C126,450 116,450.6 112.1,446.1C108.2,441.6 109.8,427.3 106.2,418.9C102.7,410.5 95.4,402.7 90.7,395.6C86,388.4 80.3,382.6 78.3,376.1C76.2,369.6 76.2,361.2 78.3,356.7C80.3,352.1 88.6,354.1 90.7,348.9C92.8,343.7 88.4,330.1 90.7,325.6Z" fill="#d1dae9"/>
<path d="M143.2,259.5C145.5,255.9 153.2,252.3 156.8,253.6C160.4,254.9 165.2,263 164.6,267.3C163.9,271.5 156.5,277.6 152.9,278.9C149.3,280.2 144.8,278.3 143.2,275C141.6,271.8 140.9,263 143.2,259.5Z" fill="#b5cdfa"/>
<path d="M184,271.1C186.6,267.3 198.3,262.1 203.4,259.5C208.6,256.9 212.8,253.6 215.1,255.6C217.4,257.5 219,267.3 217.1,271.1C215.1,275 208.3,277 203.4,278.9C198.6,280.9 191.1,284.1 187.9,282.8C184.7,281.5 181.4,275 184,271.1Z" fill="#b5cdfa"/>
<path d="M265.7,238.1C267.6,236.5 284.4,242.6 289,245.9C293.5,249.1 294.8,255.9 292.9,257.5C290.9,259.2 281.9,258.8 277.3,255.6C272.8,252.3 263.7,239.7 265.7,238.1Z" fill="#b5cdfa"/>
<path d="M292.9,255.6C294.2,253.6 307.8,262.7 312.3,267.3C316.8,271.8 319.4,278.9 320.1,282.8C320.7,286.7 318.8,291.2 316.2,290.6C313.6,289.9 308.4,284.7 304.5,278.9C300.6,273.1 291.6,257.5 292.9,255.6Z" fill="#b5cdfa"/>
<path d="M92.6,327.5C93.3,323.6 100.1,322 102.4,325.6C104.6,329.1 106.9,345 106.2,348.9C105.6,352.8 100.7,352.5 98.5,348.9C96.2,345.3 92,331.4 92.6,327.5Z" fill="#b5cdfa"/>
<path d="M331.8,348.9C332.7,341.1 339.5,337.2 341.5,341.1C343.4,345 344.4,364.5 343.4,372.2C342.4,380 337.6,391.7 335.6,387.8C333.7,383.9 330.8,356.7 331.8,348.9Z" fill="#b5cdfa"/>
<path d="M112.1,422.8C113.7,418.2 120.8,415 123.7,418.9C126.7,422.8 131.2,441.6 129.6,446.1C128,450.6 116.9,450 114,446.1C111.1,442.2 110.5,427.3 112.1,422.8Z" fill="#b5cdfa"/>
<path d="M308.4,269.2C309.3,267.6 315.9,268.9 317.8,271.1C319.6,273.4 320.2,281.2 319.3,282.8C318.4,284.4 314.1,283.1 312.3,280.9C310.5,278.6 307.5,270.8 308.4,269.2Z" fill="#94b6ff"/>
<path d="M108.2,173.9C108.9,172.3 118.2,171.7 123.7,170.1C129.3,168.4 135.6,162.9 141.2,164.2C146.9,165.5 155.6,173.3 157.6,177.8C159.5,182.4 156.3,188.2 152.9,191.4C149.5,194.7 142.2,197.2 137.4,197.3C132.5,197.3 126.7,194.7 123.7,191.8C120.8,189 122.1,183.1 119.5,180.2C116.9,177.2 107.5,175.6 108.2,173.9Z" fill="#f5c1a9"/>
<path d="M94.6,232.3C97.2,229.7 110.5,225.5 114,226.4C117.6,227.4 118.6,235.5 116,238.1C113.4,240.7 102,243 98.5,242C94.9,241 92,234.9 94.6,232.3Z" fill="#f5c1a9"/>
<path d="M133.5,329.5C136.1,324.3 150.3,324.9 156.8,321.7C163.3,318.4 167.8,315.5 172.3,310C176.9,304.5 178.8,291.9 184,288.6C189.2,285.4 197.6,288 203.4,290.6C209.3,293.2 213.8,299.7 219,304.2C224.2,308.7 230,311.6 234.6,317.8C239.1,324 243.3,333.3 246.2,341.1C249.1,348.9 251.4,357.3 252,364.5C252.7,371.6 253,380 250.1,383.9C247.2,387.8 240.4,389.7 234.6,387.8C228.7,385.8 221.6,375.5 215.1,372.2C208.6,369 200.9,367 195.7,368.3C190.5,369.6 188.5,378.1 184,380C179.5,381.9 173,382.6 168.5,380C163.9,377.4 161.3,369 156.8,364.5C152.3,359.9 145.1,358.6 141.2,352.8C137.4,347 130.9,334.6 133.5,329.5Z" fill="#f5c1a9"/>
<path d="M137.4,372.2C140.3,369 149.7,367 152.9,372.2C156.1,377.4 158.7,397.5 156.8,403.3C154.8,409.2 144.8,409.2 141.2,407.2C137.7,405.3 136.1,397.5 135.4,391.7C134.8,385.8 134.4,375.5 137.4,372.2Z" fill="#f5c1a9"/>
<path d="M195.7,395.6C197.6,391.7 207.3,390.4 211.2,391.7C215.1,393 219,398.8 219,403.3C219,407.9 214.5,416.9 211.2,418.9C208,420.8 202.2,418.9 199.6,415C197,411.1 193.7,399.4 195.7,395.6Z" fill="#f5c1a9"/>
<path d="M215.1,403.3C217.1,400.1 230.7,400.7 234.6,403.3C238.4,405.9 240.4,415.6 238.4,418.9C236.5,422.1 226.8,425.4 222.9,422.8C219,420.2 213.2,406.6 215.1,403.3Z" fill="#f5c1a9"/>
<path d="M277.3,267.3C278.6,266 286.4,268.5 289,271.1C291.6,273.7 294.2,281.5 292.9,282.8C291.6,284.1 283.8,281.5 281.2,278.9C278.6,276.3 276,268.5 277.3,267.3Z" fill="#f5c1a9"/>
<path d="M168.5,201.2C170.1,198.6 177.9,195.3 180.1,197.3C182.4,199.2 183.7,210.2 182.1,212.8C180.4,215.4 172.7,214.8 170.4,212.8C168.1,210.9 166.8,203.7 168.5,201.2Z" fill="#f5c1a9"/>
<path d="M182.1,294.5C183.4,290.6 191.5,288 193.7,290.6C196,293.2 197,306.1 195.7,310C194.4,313.9 188.2,316.5 186,313.9C183.7,311.3 180.8,298.4 182.1,294.5Z" fill="#f6a283"/>
<path d="M176.2,329.5C178.2,325.9 187.2,326.2 189.8,329.5C192.4,332.7 193.7,345.3 191.8,348.9C189.8,352.5 180.8,354.1 178.2,350.8C175.6,347.6 174.3,333 176.2,329.5Z" fill="#f6a283"/>
<path d="M195.7,325.6C197.9,323.3 208.3,323.6 211.2,325.6C214.1,327.5 215.4,335 213.2,337.2C210.9,339.5 200.5,341.1 197.6,339.2C194.7,337.2 193.4,327.8 195.7,325.6Z" fill="#f6a283"/>
<path d="M215.1,356.7C217.4,354.4 227.7,353.1 230.7,354.7C233.6,356.4 234.9,364.1 232.6,366.4C230.3,368.7 220,370 217.1,368.3C214.1,366.7 212.8,358.9 215.1,356.7Z" fill="#f6a283"/>
<path d="M211.2,436.4C214.5,434.8 227.1,434.8 230.7,436.4C234.2,438 235.8,444.5 232.6,446.1C229.4,447.7 214.8,447.7 211.2,446.1C207.7,444.5 208,438 211.2,436.4Z" fill="#f6a283"/>
<path d="M106.2,434.5 149,434.5 149,512.3 137.4,527.8 123.7,562.8 117.9,582.2 79,582.2 86.8,551.1 110.1,523.9 117.9,481.2Z" fill="#d1dae9"/>
<path d="M117.9,434.5C121.3,430.6 138.3,428 142,434.5C145.8,441 142.9,466.3 140.5,473.4C138.1,480.5 130.7,479.9 127.6,477.3C124.5,474.7 123.4,465 121.8,457.8C120.2,450.7 114.5,438.4 117.9,434.5Z" fill="#b5cdfa"/>
<path d="M131.9,465.6C133.5,462.4 140.6,462.4 142,465.6C143.4,468.8 142,481.8 140.5,485C138.9,488.3 134.1,488.3 132.7,485C131.3,481.8 130.4,468.8 131.9,465.6Z" fill="#e8d6cc"/>
<path d="M124.9,487C128,481.4 136.3,481.6 138.1,485.8C139.9,490 137.7,505.8 135.8,512.3C133.9,518.7 129.2,523.5 126.5,524.7C123.7,525.9 119.7,525.5 119.5,519.3C119.2,513 121.8,492.6 124.9,487Z" fill="#b5cdfa"/>
<path d="M207.3,434.5C211.9,432.6 230,431.3 234.6,434.5C239.1,437.7 237.8,450.4 234.6,453.9C231.3,457.5 219.6,457.2 215.1,455.9C210.6,454.6 208.6,449.7 207.3,446.2C206,442.6 202.8,436.4 207.3,434.5Z" fill="#f5c1a9"/>
<path d="M213.2,437.6C215.9,436.1 227.9,436.1 230.7,437.6C233.4,439.2 232.6,445.4 229.9,446.9C227.2,448.5 217.1,448.5 214.3,446.9C211.5,445.4 210.4,439.2 213.2,437.6Z" fill="#f6a283"/>
<path d="M226.8,453.9C228.6,450.1 241.5,451.3 245.4,455.9C249.3,460.4 251.9,477.3 250.1,481.2C248.3,485 238.4,483.7 234.6,479.2C230.7,474.7 225,457.8 226.8,453.9Z" fill="#e8d6cc"/>
<path d="M90.7,512.3 127.6,510.3 123.7,562.8 117.9,582.2 86.8,582.2 94.6,551.1Z" fill="#94b6ff"/>
<path d="M92.6,527.8C94.9,521.3 102,520 104.3,525.9C106.6,531.7 108.5,556.3 106.2,562.8C104,569.3 93,570.6 90.7,564.7C88.4,558.9 90.4,534.3 92.6,527.8Z" fill="#b5cdfa"/>
<path d="M75.1,578.4 141.2,580.3 156.8,613.3 168.5,652.2 174.3,683.3 152.9,689.2 133.5,667.8 98.5,636.7 75.1,617.2Z" fill="#7597f6"/>
<path d="M133.5,584.2C134.9,580.6 138.3,579.3 142,584.2C145.8,589 153.6,604.6 156,613.3C158.5,622.1 159.1,632.8 156.8,636.7C154.5,640.6 145.9,641.9 142,636.7C138.1,631.5 134.9,614.3 133.5,605.6C132,596.8 132,587.8 133.5,584.2Z" fill="#b5cdfa"/>
<path d="M119.9,590C121.8,585.2 129.8,580.3 133.5,588.1C137.2,595.9 142.3,628.6 142,636.7C141.7,644.8 134.9,639.9 131.5,636.7C128.1,633.4 123.7,625 121.8,617.2C119.9,609.5 117.9,594.9 119.9,590Z" fill="#94b6ff"/>
<path d="M81,586.1C84.2,582.2 93.6,579 98.5,582.2C103.3,585.5 106.2,597.8 110.1,605.6C114,613.3 117.9,621.1 121.8,628.9C125.7,636.7 129.6,645.1 133.5,652.2C137.4,659.4 141.9,665.8 145.1,671.7C148.4,677.5 152.9,684.6 152.9,687.2C152.9,689.8 148.7,690.5 145.1,687.2C141.6,684 136.1,674.9 131.5,667.8C127,660.7 122.8,651.6 117.9,644.5C113.1,637.3 107.5,630.2 102.4,625C97.2,619.8 90.7,616.6 86.8,613.3C82.9,610.1 80,610.1 79,605.6C78.1,601 77.7,590 81,586.1Z" fill="#5673e0"/>
<path d="M142,658.1C145.1,655.8 159.4,655.8 163.8,660C168.2,664.2 169.9,678.8 168.5,683.3C167,687.9 158.7,688.8 154.8,687.2C151,685.6 147.3,678.5 145.1,673.6C143,668.8 138.9,660.3 142,658.1Z" fill="#5673e0"/>
<path d="M170.4,671.7 203.4,667.8 222.9,698.9 211.2,722.2 180.1,722.2 176.2,698.9Z" fill="#d1dae9"/>
<path d="M168.5,671.7C170.2,669.1 179.8,669.1 182.1,671.7C184.3,674.3 183.8,684.6 182.1,687.2C180.3,689.8 173.8,689.8 171.6,687.2C169.3,684.6 166.7,674.3 168.5,671.7Z" fill="#b5cdfa"/>
<path d="M176.2,683.3C179.1,680.7 192.1,680.7 195.7,683.3C199.2,685.9 200.5,696.3 197.6,698.9C194.7,701.5 181.7,701.5 178.2,698.9C174.6,696.3 173.3,685.9 176.2,683.3Z" fill="#e8d6cc"/>
<path d="M195.7,691.1C199.6,687.9 217.2,689 219.8,693.1C222.4,697.1 215.1,712 211.2,715.2C207.3,718.5 199,716.5 196.4,712.5C193.9,708.5 191.8,694.3 195.7,691.1Z" fill="#e8d6cc"/>
<path d="M199.6,698.1C200.9,696.7 206.7,696.7 208.1,698.1C209.5,699.5 209.4,705.2 208.1,706.7C206.8,708.1 201.8,708.1 200.3,706.7C198.9,705.2 198.3,699.5 199.6,698.1Z" fill="#f5c1a9"/>
<path d="M77,621 86,621 86,643 77,643Z" fill="#7597f6"/>
<path d="M139,561 148,561 148,579 139,579Z" fill="#7597f6"/>
<path d="M127,679 133,679 133,691 127,691Z" fill="#7597f6"/>
<path d="M225,474 240,474 240,500 225,500Z" fill="#d1dae9"/>
</g></g>
<g filter="url(#b2)"><use href="#prov"/><use href="#th" fill="none" stroke="#15151c" stroke-width="1.0" stroke-linejoin="round"/><use href="#isl" fill="none" stroke="#1c1c24" stroke-width="0.8"/><use href="#dots"/><use href="#sq"/></g>
</g>
<rect x="2148.6" y="166.9" width="305.6" height="560.6" fill="none" stroke="#3a3a3a" stroke-width="1"/>
<path d="M2148.6,713.8h-3.8" stroke="#333" stroke-width="0.9"/><text class="tk" x="2140.7" y="717.7" text-anchor="end">6</text><path d="M2148.6,638.1h-3.8" stroke="#333" stroke-width="0.9"/><text class="tk" x="2140.7" y="642" text-anchor="end">8</text><path d="M2148.6,562.4h-3.8" stroke="#333" stroke-width="0.9"/><text class="tk" x="2140.7" y="566.4" text-anchor="end">10</text><path d="M2148.6,486.7h-3.8" stroke="#333" stroke-width="0.9"/><text class="tk" x="2140.7" y="490.7" text-anchor="end">12</text><path d="M2148.6,411h-3.8" stroke="#333" stroke-width="0.9"/><text class="tk" x="2140.7" y="415" text-anchor="end">14</text><path d="M2148.6,335.4h-3.8" stroke="#333" stroke-width="0.9"/><text class="tk" x="2140.7" y="339.3" text-anchor="end">16</text><path d="M2148.6,259.7h-3.8" stroke="#333" stroke-width="0.9"/><text class="tk" x="2140.7" y="263.6" text-anchor="end">18</text><path d="M2148.6,184h-3.8" stroke="#333" stroke-width="0.9"/><text class="tk" x="2140.7" y="187.9" text-anchor="end">20</text><path d="M2172.5,727.5v3.8" stroke="#333" stroke-width="0.9"/><text class="tk" x="2172.5" y="743.8" text-anchor="middle">98</text><path d="M2209.4,727.5v3.8" stroke="#333" stroke-width="0.9"/><text class="tk" x="2209.4" y="743.8" text-anchor="middle">99</text><path d="M2246.3,727.5v3.8" stroke="#333" stroke-width="0.9"/><text class="tk" x="2246.3" y="743.8" text-anchor="middle">100</text><path d="M2283.2,727.5v3.8" stroke="#333" stroke-width="0.9"/><text class="tk" x="2283.2" y="743.8" text-anchor="middle">101</text><path d="M2320,727.5v3.8" stroke="#333" stroke-width="0.9"/><text class="tk" x="2320" y="743.8" text-anchor="middle">102</text><path d="M2356.9,727.5v3.8" stroke="#333" stroke-width="0.9"/><text class="tk" x="2356.9" y="743.8" text-anchor="middle">103</text><path d="M2393.8,727.5v3.8" stroke="#333" stroke-width="0.9"/><text class="tk" x="2393.8" y="743.8" text-anchor="middle">104</text><path d="M2430.6,727.5v3.8" stroke="#333" stroke-width="0.9"/><text class="tk" x="2430.6" y="743.8" text-anchor="middle">105</text>
<text class="tk" x="2301.6" y="759.1" text-anchor="middle">Longitude</text>
<text class="tk" transform="translate(2121.4,448.7) rotate(-90)" text-anchor="middle">Latitude</text>
</g>
<text class="ssp" x="2425.6" y="199.1" text-anchor="end" textLength="76.6" lengthAdjust="spacingAndGlyphs">SSP585</text>
<path d="M2298.1,163.2h10" stroke="#888" stroke-width="1.3"/>
<rect x="1150" y="161.5" width="28.2" height="47" fill="#b5222b"/>
<rect x="1150" y="208.2" width="28.2" height="47" fill="#d44e41"/>
<rect x="1150" y="254.9" width="28.2" height="47" fill="#ea7b60"/>
<rect x="1150" y="301.6" width="28.2" height="47" fill="#f6a283"/>
<rect x="1150" y="348.3" width="28.2" height="47" fill="#f5c1a9"/>
<rect x="1150" y="395" width="28.2" height="47" fill="#e8d6cc"/>
<rect x="1150" y="441.8" width="28.2" height="47" fill="#d1dae9"/>
<rect x="1150" y="488.5" width="28.2" height="47" fill="#b5cdfa"/>
<rect x="1150" y="535.2" width="28.2" height="47" fill="#94b6ff"/>
<rect x="1150" y="581.9" width="28.2" height="47" fill="#7597f6"/>
<rect x="1150" y="628.6" width="28.2" height="47" fill="#5673e0"/>
<rect x="1150" y="675.3" width="28.2" height="47" fill="#3b4cc0"/>
<rect x="1150" y="161.5" width="28.2" height="560.5" fill="none" stroke="#444" stroke-width="0.9"/>
<path d="M1178.2,161.5h3.8" stroke="#333" stroke-width="0.9"/>
<text class="tk" x="1186.2" y="165.4">6</text>
<path d="M1178.2,208.2h3.8" stroke="#333" stroke-width="0.9"/>
<text class="tk" x="1186.2" y="212.2">5</text>
<path d="M1178.2,254.9h3.8" stroke="#333" stroke-width="0.9"/>
<text class="tk" x="1186.2" y="258.9">4</text>
<path d="M1178.2,301.6h3.8" stroke="#333" stroke-width="0.9"/>
<text class="tk" x="1186.2" y="305.6">3</text>
<path d="M1178.2,348.3h3.8" stroke="#333" stroke-width="0.9"/>
<text class="tk" x="1186.2" y="352.3">2</text>
<path d="M1178.2,395h3.8" stroke="#333" stroke-width="0.9"/>
<text class="tk" x="1186.2" y="399">1</text>
<path d="M1178.2,441.8h3.8" stroke="#333" stroke-width="0.9"/>
<text class="tk" x="1186.2" y="445.7">0</text>
<path d="M1178.2,488.5h3.8" stroke="#333" stroke-width="0.9"/>
<text class="tk" x="1186.2" y="492.4">−1</text>
<path d="M1178.2,535.2h3.8" stroke="#333" stroke-width="0.9"/>
<text class="tk" x="1186.2" y="539.1">−2</text>
<path d="M1178.2,581.9h3.8" stroke="#333" stroke-width="0.9"/>
<text class="tk" x="1186.2" y="585.8">−3</text>
<path d="M1178.2,628.6h3.8" stroke="#333" stroke-width="0.9"/>
<text class="tk" x="1186.2" y="632.5">−4</text>
<path d="M1178.2,675.3h3.8" stroke="#333" stroke-width="0.9"/>
<text class="tk" x="1186.2" y="679.2">−5</text>
<path d="M1178.2,722h3.8" stroke="#333" stroke-width="0.9"/>
<text class="tk" x="1186.2" y="726">−6</text>
<rect x="2491.3" y="166.9" width="28.3" height="46.8" fill="#b5222b"/>
<rect x="2491.3" y="213.4" width="28.3" height="46.8" fill="#d44e41"/>
<rect x="2491.3" y="260" width="28.3" height="46.8" fill="#ea7b60"/>
<rect x="2491.3" y="306.5" width="28.3" height="46.8" fill="#f6a283"/>
<rect x="2491.3" y="353.1" width="28.3" height="46.8" fill="#f5c1a9"/>
<rect x="2491.3" y="399.6" width="28.3" height="46.8" fill="#e8d6cc"/>
<rect x="2491.3" y="446.1" width="28.3" height="46.8" fill="#d1dae9"/>
<rect x="2491.3" y="492.7" width="28.3" height="46.8" fill="#b5cdfa"/>
<rect x="2491.3" y="539.2" width="28.3" height="46.8" fill="#94b6ff"/>
<rect x="2491.3" y="585.8" width="28.3" height="46.8" fill="#7597f6"/>
<rect x="2491.3" y="632.3" width="28.3" height="46.8" fill="#5673e0"/>
<rect x="2491.3" y="678.9" width="28.3" height="46.8" fill="#3b4cc0"/>
<rect x="2491.3" y="166.9" width="28.3" height="558.5" fill="none" stroke="#444" stroke-width="0.9"/>
<path d="M2519.6,166.9h3.8" stroke="#333" stroke-width="0.9"/>
<text class="tk" x="2527.6" y="170.8">6</text>
<path d="M2519.6,213.4h3.8" stroke="#333" stroke-width="0.9"/>
<text class="tk" x="2527.6" y="217.4">5</text>
<path d="M2519.6,260h3.8" stroke="#333" stroke-width="0.9"/>
<text class="tk" x="2527.6" y="263.9">4</text>
<path d="M2519.6,306.5h3.8" stroke="#333" stroke-width="0.9"/>
<text class="tk" x="2527.6" y="310.5">3</text>
<path d="M2519.6,353.1h3.8" stroke="#333" stroke-width="0.9"/>
<text class="tk" x="2527.6" y="357">2</text>
<path d="M2519.6,399.6h3.8" stroke="#333" stroke-width="0.9"/>
<text class="tk" x="2527.6" y="403.6">1</text>
<path d="M2519.6,446.1h3.8" stroke="#333" stroke-width="0.9"/>
<text class="tk" x="2527.6" y="450.1">0</text>
<path d="M2519.6,492.7h3.8" stroke="#333" stroke-width="0.9"/>
<text class="tk" x="2527.6" y="496.6">−1</text>
<path d="M2519.6,539.2h3.8" stroke="#333" stroke-width="0.9"/>
<text class="tk" x="2527.6" y="543.2">−2</text>
<path d="M2519.6,585.8h3.8" stroke="#333" stroke-width="0.9"/>
<text class="tk" x="2527.6" y="589.7">−3</text>
<path d="M2519.6,632.3h3.8" stroke="#333" stroke-width="0.9"/>
<text class="tk" x="2527.6" y="636.3">−4</text>
<path d="M2519.6,678.9h3.8" stroke="#333" stroke-width="0.9"/>
<text class="tk" x="2527.6" y="682.8">−5</text>
<path d="M2519.6,725.4h3.8" stroke="#333" stroke-width="0.9"/>
<text class="tk" x="2527.6" y="729.4">−6</text>
<text x="1222.3" y="453.3" font-family="Liberation Sans,sans-serif" font-weight="bold" font-size="23.5" textLength="18.2" lengthAdjust="spacingAndGlyphs">%</text>
<text x="2558.4" y="453.3" font-family="Liberation Sans,sans-serif" font-weight="bold" font-size="23.5" textLength="18.2" lengthAdjust="spacingAndGlyphs">%</text>
</svg></body></html>
